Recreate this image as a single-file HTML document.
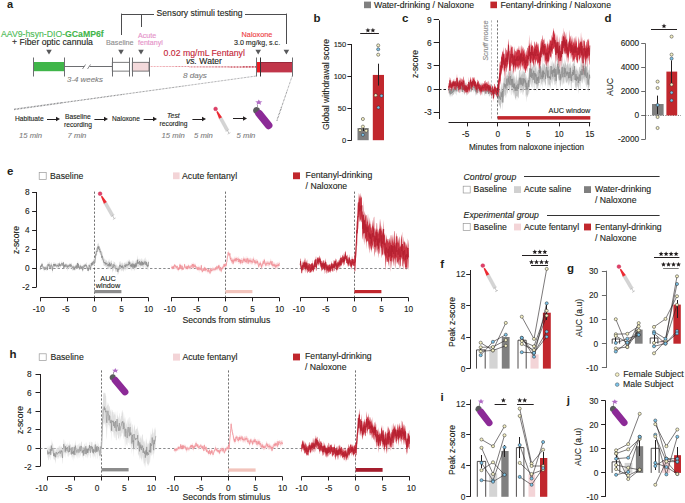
<!DOCTYPE html><html><head><meta charset="utf-8"><style>html,body{margin:0;padding:0;background:#fff;}svg{display:block;}</style></head><body>
<svg width="685" height="503" viewBox="0 0 685 503" font-family='"Liberation Sans", sans-serif'>
<rect width="685" height="503" fill="#fff"/>
<text x="7.00" y="7.90" font-size="11" fill="#231f20" font-weight="bold">a</text>
<text x="1" y="36.6" font-size="8.7" fill="#4cbb55" stroke="#4cbb55" stroke-width="0.12">AAV9-hsyn-DIO-<tspan font-weight="bold" fill="#3fb549">GCaMP6f</tspan></text>
<text x="12.00" y="45.00" font-size="8.7" fill="#231f20" stroke="#231f20" stroke-width="0.12">+ Fiber optic cannula</text>
<text x="106.00" y="45.00" font-size="7.2" fill="#8e8e8e" stroke="#8e8e8e" stroke-width="0.12">Baseline</text>
<text x="138.00" y="37.50" font-size="7.1" fill="#e58fc8" stroke="#e58fc8" stroke-width="0.12">Acute</text>
<text x="138.00" y="45.00" font-size="7.1" fill="#e58fc8" stroke="#e58fc8" stroke-width="0.12">fentanyl</text>
<text x="156.60" y="16.20" font-size="8.6" fill="#231f20" stroke="#231f20" stroke-width="0.12">Sensory stimuli testing</text>
<text x="241.60" y="37.00" font-size="7.3" fill="#ee3a3f" stroke="#ee3a3f" stroke-width="0.12">Naloxone</text>
<text x="234.00" y="45.00" font-size="7.1" fill="#231f20" stroke="#231f20" stroke-width="0.12">3.0 mg/kg, s.c.</text>
<text x="163.60" y="56.40" font-size="8.7" fill="#c42638" stroke="#c42638" stroke-width="0.12">0.02 mg/mL Fentanyl</text>
<text x="186" y="64.3" font-size="8.6" fill="#231f20" stroke="#231f20" stroke-width="0.12"><tspan font-style="italic">vs.</tspan> Water</text>
<text x="67.00" y="82.00" font-size="7.9" fill="#808080" stroke="#808080" stroke-width="0.12" font-style="italic">3-4 weeks</text>
<text x="183.00" y="78.00" font-size="8.1" fill="#808080" stroke="#808080" stroke-width="0.12" font-style="italic">8 days</text>
<line x1="121.00" y1="14.50" x2="154.00" y2="14.50" stroke="#4d4d4f" stroke-width="1.0"/>
<line x1="245.00" y1="14.50" x2="286.40" y2="14.50" stroke="#4d4d4f" stroke-width="1.0"/>
<line x1="121.50" y1="13.60" x2="121.50" y2="35.00" stroke="#4d4d4f" stroke-width="1.0"/>
<line x1="141.50" y1="14.00" x2="141.50" y2="27.00" stroke="#4d4d4f" stroke-width="1.0"/>
<line x1="286.50" y1="13.60" x2="286.50" y2="44.00" stroke="#4d4d4f" stroke-width="1.0"/>
<path d="M46.20,49.80 L51.80,49.80 L49.00,54.40 Z" fill="#58595b"/>
<path d="M118.20,49.80 L123.80,49.80 L121.00,54.40 Z" fill="#58595b"/>
<path d="M138.20,49.80 L143.80,49.80 L141.00,54.40 Z" fill="#58595b"/>
<path d="M255.40,49.80 L261.00,49.80 L258.20,54.40 Z" fill="#58595b"/>
<path d="M283.60,49.80 L289.20,49.80 L286.40,54.40 Z" fill="#58595b"/>
<rect x="33.00" y="62.00" width="31.00" height="9.20" fill="#3fb549"/>
<line x1="64.00" y1="66.50" x2="84.50" y2="66.50" stroke="#6d6e71" stroke-width="1.0"/>
<line x1="89.50" y1="66.50" x2="112.00" y2="66.50" stroke="#6d6e71" stroke-width="1.0"/>
<line x1="82.50" y1="69.00" x2="85.50" y2="64.50" stroke="#6d6e71" stroke-width="0.8"/>
<line x1="87.50" y1="69.00" x2="90.50" y2="64.50" stroke="#6d6e71" stroke-width="0.8"/>
<rect x="112.30" y="62.30" width="17.30" height="8.80" fill="#fff" stroke="#5a5a5c" stroke-width="0.8"/>
<rect x="132.30" y="62.30" width="16.70" height="8.80" fill="#f3d9db" stroke="#5a5a5c" stroke-width="0.8"/>
<defs><linearGradient id="fg" x1="149" x2="256" y1="0" y2="0" gradientUnits="userSpaceOnUse"><stop offset="0" stop-color="#f2a0a8"/><stop offset="1" stop-color="#b8182c"/></linearGradient></defs>
<line x1="149.50" y1="66.50" x2="162.85" y2="66.50" stroke="#ee9fa7" stroke-width="1.0" stroke-dasharray="0.8,0.7"/>
<line x1="162.85" y1="66.50" x2="176.20" y2="66.50" stroke="#e78d97" stroke-width="1.0" stroke-dasharray="0.8,0.7"/>
<line x1="176.20" y1="66.50" x2="189.55" y2="66.50" stroke="#df7b86" stroke-width="1.0" stroke-dasharray="0.8,0.7"/>
<line x1="189.55" y1="66.90" x2="202.90" y2="66.90" stroke="#d86976" stroke-width="1.1375" stroke-dasharray="0.8,0.7"/>
<line x1="202.90" y1="66.90" x2="216.25" y2="66.90" stroke="#d15765" stroke-width="1.2625" stroke-dasharray="0.8,0.7"/>
<line x1="216.25" y1="66.90" x2="229.60" y2="66.90" stroke="#ca4555" stroke-width="1.3875" stroke-dasharray="0.8,0.7"/>
<line x1="229.60" y1="66.90" x2="242.95" y2="66.90" stroke="#c23344" stroke-width="1.5125" stroke-dasharray="0.8,0.7"/>
<line x1="242.95" y1="66.90" x2="256.30" y2="66.90" stroke="#bb2134" stroke-width="1.6375" stroke-dasharray="0.8,0.7"/>
<rect x="256.30" y="62.00" width="4.00" height="10.40" fill="#ec1c24"/>
<rect x="260.30" y="62.00" width="31.70" height="10.40" fill="#c1364a"/>
<line x1="260.30" y1="62.50" x2="292.00" y2="62.50" stroke="#7d2030" stroke-width="0.6"/>
<line x1="33.50" y1="57.50" x2="33.50" y2="76.50" stroke="#6d6e71" stroke-width="1.0"/>
<line x1="64.50" y1="57.50" x2="64.50" y2="76.50" stroke="#6d6e71" stroke-width="1.0"/>
<line x1="112.50" y1="57.50" x2="112.50" y2="76.50" stroke="#6d6e71" stroke-width="1.0"/>
<line x1="129.50" y1="57.50" x2="129.50" y2="76.50" stroke="#6d6e71" stroke-width="1.0"/>
<line x1="132.50" y1="57.50" x2="132.50" y2="76.50" stroke="#6d6e71" stroke-width="1.0"/>
<line x1="149.50" y1="57.50" x2="149.50" y2="76.50" stroke="#6d6e71" stroke-width="1.0"/>
<line x1="256.50" y1="57.50" x2="256.50" y2="76.50" stroke="#6d6e71" stroke-width="1.0"/>
<line x1="260.50" y1="57.50" x2="260.50" y2="76.50" stroke="#333" stroke-width="1.0"/>
<line x1="292.50" y1="57.50" x2="292.50" y2="76.50" stroke="#6d6e71" stroke-width="1.0"/>
<line x1="14.00" y1="109.40" x2="62.46" y2="102.72" stroke="#6d6e71" stroke-width="1.5" stroke-dasharray="0.7,0.75"/>
<line x1="62.46" y1="102.72" x2="123.04" y2="94.37" stroke="#6d6e71" stroke-width="1.15" stroke-dasharray="0.7,0.75"/>
<line x1="123.04" y1="94.37" x2="183.61" y2="86.02" stroke="#6d6e71" stroke-width="0.9" stroke-dasharray="0.7,0.75"/>
<line x1="183.61" y1="86.02" x2="256.30" y2="76.00" stroke="#6d6e71" stroke-width="0.75" stroke-dasharray="0.7,0.75"/>
<line x1="292.00" y1="76.50" x2="286.68" y2="92.08" stroke="#6d6e71" stroke-width="0.75" stroke-dasharray="0.7,0.75"/>
<line x1="286.68" y1="92.08" x2="281.36" y2="107.65" stroke="#6d6e71" stroke-width="0.95" stroke-dasharray="0.7,0.75"/>
<line x1="281.36" y1="107.65" x2="276.80" y2="121.00" stroke="#6d6e71" stroke-width="1.2" stroke-dasharray="0.7,0.75"/>
<text x="15.00" y="120.80" font-size="6.7" fill="#231f20" stroke="#231f20" stroke-width="0.12">Habituate</text>
<line x1="47.00" y1="119.50" x2="57.00" y2="119.50" stroke="#231f20" stroke-width="1.0"/>
<path d="M56.00,116.80 L60.00,119.00 L56.00,121.20 Z" fill="#231f20"/>
<text x="65.00" y="118.80" font-size="6.7" fill="#231f20" stroke="#231f20" stroke-width="0.12">Baseline</text>
<text x="64.00" y="127.40" font-size="6.7" fill="#231f20" stroke="#231f20" stroke-width="0.12">recording</text>
<line x1="94.40" y1="119.50" x2="105.00" y2="119.50" stroke="#231f20" stroke-width="1.0"/>
<path d="M104.00,116.80 L108.00,119.00 L104.00,121.20 Z" fill="#231f20"/>
<text x="112.00" y="121.40" font-size="6.6" fill="#231f20" stroke="#231f20" stroke-width="0.12">Naloxone</text>
<line x1="143.60" y1="119.50" x2="154.00" y2="119.50" stroke="#231f20" stroke-width="1.0"/>
<path d="M153.00,116.80 L157.00,119.00 L153.00,121.20 Z" fill="#231f20"/>
<text x="167.00" y="118.00" font-size="6.9" fill="#231f20" stroke="#231f20" stroke-width="0.12" font-style="italic">Test</text>
<text x="159.60" y="126.00" font-size="6.7" fill="#231f20" stroke="#231f20" stroke-width="0.12">recording</text>
<line x1="192.40" y1="119.50" x2="203.00" y2="119.50" stroke="#231f20" stroke-width="1.0"/>
<path d="M202.00,116.80 L206.00,119.00 L202.00,121.20 Z" fill="#231f20"/>
<line x1="233.00" y1="118.50" x2="244.00" y2="118.50" stroke="#231f20" stroke-width="1.0"/>
<path d="M243.00,116.30 L247.00,118.50 L243.00,120.70 Z" fill="#231f20"/>
<text x="19.00" y="138.40" font-size="7.7" fill="#808080" stroke="#808080" stroke-width="0.12" font-style="italic">15 min</text>
<text x="67.60" y="138.40" font-size="7.7" fill="#808080" stroke="#808080" stroke-width="0.12" font-style="italic">7 min</text>
<text x="161.60" y="138.20" font-size="7.7" fill="#808080" stroke="#808080" stroke-width="0.12" font-style="italic">15 min</text>
<text x="194.00" y="138.20" font-size="7.7" fill="#808080" stroke="#808080" stroke-width="0.12" font-style="italic">5 min</text>
<text x="236.60" y="138.30" font-size="7.7" fill="#808080" stroke="#808080" stroke-width="0.12" font-style="italic">5 min</text>
<polygon points="221.83,116.95 228.53,129.20 225.72,130.74 219.02,118.49" fill="#d4d4d4" stroke="#c0c0c0" stroke-width="0.3"/>
<polygon points="217.55,111.01 222.05,117.15 219.07,118.78 216.33,111.69" fill="#ec2a32"/>
<line x1="227.12" y1="129.97" x2="229.00" y2="133.40" stroke="#b4b4b4" stroke-width="0.8"/>
<line x1="229.06" y1="129.55" x2="225.73" y2="131.37" stroke="#b4b4b4" stroke-width="0.7"/>
<line x1="230.40" y1="132.63" x2="227.60" y2="134.17" stroke="#b4b4b4" stroke-width="0.7"/>
<circle cx="215.60" cy="108.90" r="1.9" fill="#e0406a" stroke="#c82848" stroke-width="0.4"/>
<g transform="translate(256.56,110.48) rotate(50.99)"><rect x="0" y="-3.80" width="22.94" height="7.60" rx="3.80" fill="#8c2a97"/><path d="M3.21,-3.39 A3.57,3.57 0 1 0 3.21,3.39 Z" transform="translate(-1.96,0)" fill="#5a5b5d"/></g>
<line x1="257.50" y1="107.21" x2="257.50" y2="104.61" stroke="#7a7a7a" stroke-width="0.7"/>
<polygon points="258.80,99.44 259.81,101.32 262.41,101.48 260.43,102.81 261.03,104.80 258.80,103.73 256.57,104.80 257.17,102.81 255.19,101.48 257.79,101.32" fill="#b06bc4"/>
<rect x="364.00" y="1.60" width="7.00" height="6.60" fill="#808080"/>
<text x="374.00" y="7.60" font-size="8.7" fill="#231f20" stroke="#231f20" stroke-width="0.12">Water-drinking / Naloxone</text>
<rect x="490.40" y="1.60" width="6.60" height="6.60" fill="#c1272d"/>
<text x="500.40" y="7.60" font-size="8.7" fill="#231f20" stroke="#231f20" stroke-width="0.12">Fentanyl-drinking / Naloxone</text>
<text x="313.60" y="22.30" font-size="11.5" fill="#231f20" font-weight="bold">b</text>
<line x1="351.50" y1="44.00" x2="351.50" y2="140.60" stroke="#231f20" stroke-width="1.0"/>
<line x1="347.40" y1="140.50" x2="351.60" y2="140.50" stroke="#231f20" stroke-width="1.0"/>
<text x="346.20" y="142.90" font-size="7.5" fill="#231f20" stroke="#231f20" stroke-width="0.12" text-anchor="end">0</text>
<line x1="347.40" y1="108.50" x2="351.60" y2="108.50" stroke="#231f20" stroke-width="1.0"/>
<text x="346.20" y="110.90" font-size="7.5" fill="#231f20" stroke="#231f20" stroke-width="0.12" text-anchor="end">50</text>
<line x1="347.40" y1="76.50" x2="351.60" y2="76.50" stroke="#231f20" stroke-width="1.0"/>
<text x="346.20" y="78.90" font-size="7.5" fill="#231f20" stroke="#231f20" stroke-width="0.12" text-anchor="end">100</text>
<line x1="347.40" y1="44.50" x2="351.60" y2="44.50" stroke="#231f20" stroke-width="1.0"/>
<text x="346.20" y="46.90" font-size="7.5" fill="#231f20" stroke="#231f20" stroke-width="0.12" text-anchor="end">150</text>
<text transform="translate(325.80,84.50) rotate(-90)" x="0" y="3.01" font-size="8.6" fill="#231f20" stroke="#231f20" stroke-width="0.12" text-anchor="middle">Global withdrawal score</text>
<rect x="357.50" y="128.04" width="11.20" height="12.16" fill="#7f7f7f"/>
<rect x="372.80" y="74.92" width="11.20" height="65.28" fill="#c1272d"/>
<line x1="363.50" y1="126.60" x2="363.50" y2="131.00" stroke="#231f20" stroke-width="1.0"/>
<line x1="378.50" y1="63.70" x2="378.50" y2="85.60" stroke="#231f20" stroke-width="1.0"/>
<circle cx="362.90" cy="119.00" r="1.55" fill="#f6f1c4" stroke="#2a2a2a" stroke-width="0.5"/>
<circle cx="362.90" cy="126.60" r="1.55" fill="#f6f1c4" stroke="#2a2a2a" stroke-width="0.5"/>
<circle cx="360.00" cy="130.20" r="1.55" fill="#f6f1c4" stroke="#2a2a2a" stroke-width="0.5"/>
<circle cx="366.20" cy="130.70" r="1.55" fill="#f6f1c4" stroke="#2a2a2a" stroke-width="0.5"/>
<circle cx="362.90" cy="134.80" r="1.55" fill="#7cc4ea" stroke="#2a2a2a" stroke-width="0.5"/>
<circle cx="378.20" cy="45.40" r="1.55" fill="#f6f1c4" stroke="#2a2a2a" stroke-width="0.5"/>
<circle cx="378.20" cy="49.30" r="1.55" fill="#7cc4ea" stroke="#2a2a2a" stroke-width="0.5"/>
<circle cx="378.20" cy="54.70" r="1.55" fill="#f6f1c4" stroke="#2a2a2a" stroke-width="0.5"/>
<circle cx="375.70" cy="95.20" r="1.55" fill="#f6f1c4" stroke="#2a2a2a" stroke-width="0.5"/>
<circle cx="381.50" cy="95.80" r="1.55" fill="#7cc4ea" stroke="#2a2a2a" stroke-width="0.5"/>
<circle cx="378.40" cy="107.50" r="1.55" fill="#7cc4ea" stroke="#2a2a2a" stroke-width="0.5"/>
<line x1="360.20" y1="33.50" x2="378.90" y2="33.50" stroke="#231f20" stroke-width="1.0"/>
<polygon points="367.90,27.80 368.59,29.45 370.37,29.60 369.01,30.76 369.43,32.50 367.90,31.57 366.37,32.50 366.79,30.76 365.43,29.60 367.21,29.45" fill="#231f20"/>
<polygon points="372.90,27.80 373.59,29.45 375.37,29.60 374.01,30.76 374.43,32.50 372.90,31.57 371.37,32.50 371.79,30.76 370.43,29.60 372.21,29.45" fill="#231f20"/>
<text x="402.00" y="22.30" font-size="11.5" fill="#231f20" font-weight="bold">c</text>
<line x1="439.50" y1="20.30" x2="439.50" y2="119.00" stroke="#231f20" stroke-width="1.0"/>
<line x1="433.70" y1="112.50" x2="439.00" y2="112.50" stroke="#231f20" stroke-width="1.0"/>
<text x="431.60" y="115.00" font-size="8.4" fill="#231f20" stroke="#231f20" stroke-width="0.12" text-anchor="end">-3</text>
<line x1="433.70" y1="89.50" x2="439.00" y2="89.50" stroke="#231f20" stroke-width="1.0"/>
<text x="431.60" y="92.00" font-size="8.4" fill="#231f20" stroke="#231f20" stroke-width="0.12" text-anchor="end">0</text>
<line x1="433.70" y1="65.50" x2="439.00" y2="65.50" stroke="#231f20" stroke-width="1.0"/>
<text x="431.60" y="69.00" font-size="8.4" fill="#231f20" stroke="#231f20" stroke-width="0.12" text-anchor="end">3</text>
<line x1="433.70" y1="42.50" x2="439.00" y2="42.50" stroke="#231f20" stroke-width="1.0"/>
<text x="431.60" y="46.00" font-size="8.4" fill="#231f20" stroke="#231f20" stroke-width="0.12" text-anchor="end">6</text>
<line x1="433.70" y1="19.50" x2="439.00" y2="19.50" stroke="#231f20" stroke-width="1.0"/>
<text x="431.60" y="23.00" font-size="8.4" fill="#231f20" stroke="#231f20" stroke-width="0.12" text-anchor="end">9</text>
<text transform="translate(415.20,64.00) rotate(-90)" x="0" y="3.01" font-size="8.6" fill="#231f20" stroke="#231f20" stroke-width="0.12" text-anchor="middle">z-score</text>
<line x1="448.50" y1="122.50" x2="590.30" y2="122.50" stroke="#231f20" stroke-width="1.0"/>
<line x1="467.50" y1="122.40" x2="467.50" y2="126.40" stroke="#231f20" stroke-width="1.0"/>
<text x="469.31" y="136.80" font-size="8.3" fill="#231f20" stroke="#231f20" stroke-width="0.12" text-anchor="end">-5</text>
<line x1="497.50" y1="122.40" x2="497.50" y2="126.40" stroke="#231f20" stroke-width="1.0"/>
<text x="497.70" y="136.80" font-size="8.3" fill="#231f20" stroke="#231f20" stroke-width="0.12" text-anchor="middle">0</text>
<line x1="528.50" y1="122.40" x2="528.50" y2="126.40" stroke="#231f20" stroke-width="1.0"/>
<text x="528.40" y="136.80" font-size="8.3" fill="#231f20" stroke="#231f20" stroke-width="0.12" text-anchor="middle">5</text>
<line x1="559.50" y1="122.40" x2="559.50" y2="126.40" stroke="#231f20" stroke-width="1.0"/>
<text x="559.10" y="136.80" font-size="8.3" fill="#231f20" stroke="#231f20" stroke-width="0.12" text-anchor="middle">10</text>
<line x1="589.50" y1="122.40" x2="589.50" y2="126.40" stroke="#231f20" stroke-width="1.0"/>
<text x="589.80" y="136.80" font-size="8.3" fill="#231f20" stroke="#231f20" stroke-width="0.12" text-anchor="middle">15</text>
<text x="469.00" y="149.60" font-size="8.2" fill="#231f20" stroke="#231f20" stroke-width="0.12">Minutes from naloxone injection</text>
<line x1="439.00" y1="89.50" x2="590.30" y2="89.50" stroke="#231f20" stroke-width="1.0" stroke-dasharray="2.5,2"/>
<polygon points="448.6,86.8 448.9,87.5 449.3,86.1 449.6,88.0 449.9,87.3 450.3,91.5 450.6,86.2 450.9,89.0 451.3,90.6 451.6,87.1 452.0,84.7 452.3,90.2 452.6,89.3 453.0,87.4 453.3,89.3 453.6,85.0 454.0,87.0 454.3,87.3 454.6,83.9 455.0,85.8 455.3,84.2 455.7,85.8 456.0,86.1 456.3,85.9 456.7,78.9 457.0,85.4 457.3,83.6 457.7,84.7 458.0,84.2 458.4,82.5 458.7,78.8 459.0,84.8 459.4,86.9 459.7,84.1 460.0,86.2 460.4,81.4 460.7,81.7 461.1,84.6 461.4,86.3 461.7,83.7 462.1,80.2 462.4,86.8 462.7,81.8 463.1,85.6 463.4,82.3 463.7,86.9 464.1,84.4 464.4,87.6 464.8,86.4 465.1,82.3 465.4,82.4 465.8,84.6 466.1,85.9 466.4,88.5 466.8,85.0 467.1,84.0 467.5,85.3 467.8,83.7 468.1,86.5 468.5,83.4 468.8,82.8 469.1,80.9 469.5,79.8 469.8,83.6 470.2,85.1 470.5,84.3 470.8,85.9 471.2,85.7 471.5,84.3 471.8,86.7 472.2,83.3 472.5,83.8 472.8,82.9 473.2,82.7 473.5,84.7 473.9,84.3 474.2,82.7 474.5,84.4 474.9,81.5 475.2,84.3 475.5,87.6 475.9,85.7 476.2,86.9 476.6,85.7 476.9,84.6 477.2,88.9 477.6,84.5 477.9,83.8 478.2,84.0 478.6,85.0 478.9,84.3 479.3,85.2 479.6,84.7 479.9,84.3 480.3,81.8 480.6,86.5 480.9,83.4 481.3,83.9 481.6,85.4 481.9,85.3 482.3,84.0 482.6,87.9 483.0,83.8 483.3,83.8 483.6,85.9 484.0,85.6 484.3,87.4 484.6,88.1 485.0,85.5 485.3,87.2 485.7,87.5 486.0,90.2 486.3,85.3 486.7,84.5 487.0,84.5 487.3,85.9 487.7,89.3 488.0,83.3 488.4,85.3 488.7,90.9 489.0,85.2 489.4,88.8 489.7,89.3 490.0,88.4 490.4,85.0 490.7,86.8 491.0,87.6 491.4,83.1 491.7,84.3 492.1,88.0 492.4,88.5 492.7,90.5 493.1,89.8 493.4,87.7 493.7,87.7 494.1,86.8 494.4,87.2 494.8,88.9 495.1,89.7 495.4,88.1 495.8,88.3 496.1,87.9 496.4,88.9 496.8,89.0 497.1,87.8 497.5,90.8 497.8,87.8 498.1,85.7 498.5,86.6 498.8,86.8 499.1,90.6 499.5,87.8 499.8,89.3 500.1,89.8 500.5,92.4 500.8,88.8 501.2,81.4 501.5,86.1 501.8,89.3 502.2,84.8 502.5,82.2 502.8,94.7 503.2,83.3 503.5,81.8 503.9,76.9 504.2,72.0 504.5,76.9 504.9,78.0 505.2,78.6 505.5,75.4 505.9,80.8 506.2,76.3 506.6,75.2 506.9,66.2 507.2,76.0 507.6,75.1 507.9,74.0 508.2,70.1 508.6,73.0 508.9,67.4 509.2,75.9 509.6,72.4 509.9,72.1 510.3,69.3 510.6,66.5 510.9,74.6 511.3,74.4 511.6,67.0 511.9,74.3 512.3,78.4 512.6,70.6 513.0,70.9 513.3,73.7 513.6,78.4 514.0,74.4 514.3,78.8 514.6,74.9 515.0,81.6 515.3,83.1 515.7,76.2 516.0,79.9 516.3,73.1 516.7,77.3 517.0,83.1 517.3,79.5 517.7,80.9 518.0,76.0 518.3,81.3 518.7,78.3 519.0,70.0 519.4,70.5 519.7,69.5 520.0,77.1 520.4,75.6 520.7,68.5 521.0,74.0 521.4,75.6 521.7,71.9 522.1,69.5 522.4,71.2 522.7,73.7 523.1,75.1 523.4,70.4 523.7,70.9 524.1,72.4 524.4,72.2 524.8,70.8 525.1,74.0 525.4,72.6 525.8,78.1 526.1,77.1 526.4,81.4 526.8,74.6 527.1,77.5 527.4,82.2 527.8,78.1 528.1,77.8 528.5,70.9 528.8,78.9 529.1,75.0 529.5,71.6 529.8,60.9 530.1,65.8 530.5,68.9 530.8,64.8 531.2,59.2 531.5,67.0 531.8,70.6 532.2,63.9 532.5,67.5 532.8,66.8 533.2,72.1 533.5,62.0 533.9,61.3 534.2,65.4 534.5,61.3 534.9,74.0 535.2,61.7 535.5,69.1 535.9,65.1 536.2,65.8 536.5,68.8 536.9,75.3 537.2,66.0 537.6,72.8 537.9,71.2 538.2,69.0 538.6,64.2 538.9,73.0 539.2,62.4 539.6,65.1 539.9,61.1 540.3,57.7 540.6,63.5 540.9,71.8 541.3,66.4 541.6,69.2 541.9,66.3 542.3,59.3 542.6,69.8 543.0,62.9 543.3,69.7 543.6,63.0 544.0,63.4 544.3,65.4 544.6,63.7 545.0,63.6 545.3,65.6 545.6,70.5 546.0,66.0 546.3,57.7 546.7,59.0 547.0,62.4 547.3,63.9 547.7,69.1 548.0,62.7 548.3,65.3 548.7,67.1 549.0,67.2 549.4,64.6 549.7,70.2 550.0,68.8 550.4,71.5 550.7,67.3 551.0,58.6 551.4,66.6 551.7,66.7 552.1,59.8 552.4,62.6 552.7,67.6 553.1,65.0 553.4,61.7 553.7,63.5 554.1,63.9 554.4,60.0 554.7,67.5 555.1,64.6 555.4,66.9 555.8,58.9 556.1,73.2 556.4,67.4 556.8,64.1 557.1,57.4 557.4,59.2 557.8,55.4 558.1,66.5 558.5,55.6 558.8,61.8 559.1,65.8 559.5,60.5 559.8,66.2 560.1,72.8 560.5,66.7 560.8,69.5 561.2,67.3 561.5,63.9 561.8,63.3 562.2,56.2 562.5,65.9 562.8,66.8 563.2,64.5 563.5,62.9 563.8,64.0 564.2,57.6 564.5,63.9 564.9,66.6 565.2,59.7 565.5,62.4 565.9,63.7 566.2,65.0 566.5,64.8 566.9,67.7 567.2,62.8 567.6,64.2 567.9,63.4 568.2,62.6 568.6,68.2 568.9,64.6 569.2,63.0 569.6,64.4 569.9,70.0 570.3,59.7 570.6,64.6 570.9,71.0 571.3,71.7 571.6,65.3 571.9,65.7 572.3,68.0 572.6,62.7 572.9,64.6 573.3,61.9 573.6,62.5 574.0,64.7 574.3,62.6 574.6,56.8 575.0,72.1 575.3,68.6 575.6,71.7 576.0,64.5 576.3,69.4 576.7,70.1 577.0,66.4 577.3,71.5 577.7,70.8 578.0,68.3 578.3,73.9 578.7,72.1 579.0,67.4 579.4,66.9 579.7,66.6 580.0,72.3 580.4,67.9 580.7,63.5 581.0,58.1 581.4,64.2 581.7,65.0 582.0,61.7 582.4,65.4 582.7,66.1 583.1,64.5 583.4,55.9 583.7,62.9 584.1,59.7 584.4,66.4 584.7,62.0 585.1,67.9 585.4,65.2 585.8,58.4 586.1,63.5 586.4,67.3 586.8,68.9 587.1,64.9 587.4,63.0 587.8,69.2 588.1,74.1 588.5,70.9 588.8,69.4 589.1,70.5 589.5,63.8 589.8,68.8 589.8,86.8 589.5,84.6 589.1,87.9 588.8,87.1 588.5,89.1 588.1,92.2 587.8,87.2 587.4,82.8 587.1,82.8 586.8,86.2 586.4,87.4 586.1,80.6 585.8,75.9 585.4,83.4 585.1,85.7 584.7,78.3 584.4,83.6 584.1,76.5 583.7,80.6 583.4,77.2 583.1,81.8 582.7,84.0 582.4,81.8 582.0,78.4 581.7,83.6 581.4,81.4 581.0,78.6 580.7,80.2 580.4,85.8 580.0,90.5 579.7,83.6 579.4,83.1 579.0,86.7 578.7,88.7 578.3,94.3 578.0,84.6 577.7,87.3 577.3,87.2 577.0,84.4 576.7,88.1 576.3,91.6 576.0,84.3 575.6,88.8 575.3,86.6 575.0,88.8 574.6,76.5 574.3,80.2 574.0,83.0 573.6,82.4 573.3,78.8 572.9,82.5 572.6,80.0 572.3,83.3 571.9,82.2 571.6,84.8 571.3,90.7 570.9,87.1 570.6,81.6 570.3,75.6 569.9,86.1 569.6,80.0 569.2,82.5 568.9,84.8 568.6,86.1 568.2,79.8 567.9,80.8 567.6,84.1 567.2,79.9 566.9,83.4 566.5,82.9 566.2,81.5 565.9,83.1 565.5,80.0 565.2,76.9 564.9,84.7 564.5,80.1 564.2,76.0 563.8,81.9 563.5,84.9 563.2,81.9 562.8,86.2 562.5,82.5 562.2,74.8 561.8,80.1 561.5,81.2 561.2,83.2 560.8,87.5 560.5,83.4 560.1,88.0 559.8,84.7 559.5,77.0 559.1,81.7 558.8,78.9 558.5,77.2 558.1,82.1 557.8,72.6 557.4,75.1 557.1,75.1 556.8,82.2 556.4,82.9 556.1,89.7 555.8,78.1 555.4,86.1 555.1,83.7 554.7,85.7 554.4,80.0 554.1,82.4 553.7,79.8 553.4,77.4 553.1,81.5 552.7,86.1 552.4,78.5 552.1,79.7 551.7,84.0 551.4,81.7 551.0,75.8 550.7,84.8 550.4,89.1 550.0,84.0 549.7,85.6 549.4,84.5 549.0,88.5 548.7,85.0 548.3,84.3 548.0,78.2 547.7,88.8 547.3,79.9 547.0,77.2 546.7,76.1 546.3,75.2 546.0,82.2 545.6,86.9 545.3,83.4 545.0,86.0 544.6,80.1 544.3,82.3 544.0,82.7 543.6,79.3 543.3,85.6 543.0,79.3 542.6,88.7 542.3,82.2 541.9,81.1 541.6,85.2 541.3,83.3 540.9,87.8 540.6,81.7 540.3,74.5 539.9,79.3 539.6,80.4 539.2,81.1 538.9,91.4 538.6,84.1 538.2,85.9 537.9,85.8 537.6,89.9 537.2,86.8 536.9,91.7 536.5,87.9 536.2,82.4 535.9,85.0 535.5,83.9 535.2,83.4 534.9,92.2 534.5,82.9 534.2,84.7 533.9,79.1 533.5,80.2 533.2,87.1 532.8,88.0 532.5,83.3 532.2,81.4 531.8,87.8 531.5,86.2 531.2,77.9 530.8,84.1 530.5,85.0 530.1,80.9 529.8,76.4 529.5,87.4 529.1,93.6 528.8,94.5 528.5,90.1 528.1,95.5 527.8,94.8 527.4,97.6 527.1,96.6 526.8,93.8 526.4,102.7 526.1,94.8 525.8,97.2 525.4,88.5 525.1,90.8 524.8,86.0 524.4,88.0 524.1,90.1 523.7,93.1 523.4,89.5 523.1,95.6 522.7,94.1 522.4,90.4 522.1,85.8 521.7,88.4 521.4,93.2 521.0,91.6 520.7,85.8 520.4,91.9 520.0,94.4 519.7,87.1 519.4,85.9 519.0,92.4 518.7,97.6 518.3,98.7 518.0,96.4 517.7,97.3 517.3,95.0 517.0,101.2 516.7,95.8 516.3,96.2 516.0,98.5 515.7,97.4 515.3,100.3 515.0,98.5 514.6,91.8 514.3,97.2 514.0,91.7 513.6,96.2 513.3,92.7 513.0,91.2 512.6,87.8 512.3,94.6 511.9,90.5 511.6,88.0 511.3,95.6 510.9,94.5 510.6,83.6 510.3,85.2 509.9,90.3 509.6,90.0 509.2,93.2 508.9,85.2 508.6,90.7 508.2,86.5 507.9,91.1 507.6,94.0 507.2,93.1 506.9,87.0 506.6,91.9 506.2,96.4 505.9,98.4 505.5,95.4 505.2,94.4 504.9,95.8 504.5,96.7 504.2,91.0 503.9,97.5 503.5,96.9 503.2,100.6 502.8,111.2 502.5,100.9 502.2,101.7 501.8,104.6 501.5,101.4 501.2,101.7 500.8,107.7 500.5,109.3 500.1,107.1 499.8,104.7 499.5,105.0 499.1,107.1 498.8,103.7 498.5,102.9 498.1,101.9 497.8,105.8 497.5,97.8 497.1,95.6 496.8,96.4 496.4,95.8 496.1,93.9 495.8,94.4 495.4,95.0 495.1,95.5 494.8,97.6 494.4,93.3 494.1,96.1 493.7,93.8 493.4,93.7 493.1,95.9 492.7,96.6 492.4,94.7 492.1,95.0 491.7,91.2 491.4,91.3 491.0,94.2 490.7,95.0 490.4,93.5 490.0,95.8 489.7,96.5 489.4,96.4 489.0,92.1 488.7,96.9 488.4,92.7 488.0,91.5 487.7,94.9 487.3,92.9 487.0,90.5 486.7,91.6 486.3,92.9 486.0,96.6 485.7,93.8 485.3,93.9 485.0,92.1 484.6,95.0 484.3,96.1 484.0,91.6 483.6,91.5 483.3,92.1 483.0,90.4 482.6,96.2 482.3,92.2 481.9,91.9 481.6,92.4 481.3,90.4 480.9,91.7 480.6,94.4 480.3,91.4 479.9,91.9 479.6,92.1 479.3,92.1 478.9,93.2 478.6,93.2 478.2,91.0 477.9,90.7 477.6,91.9 477.2,95.6 476.9,93.3 476.6,94.4 476.2,95.5 475.9,92.7 475.5,96.8 475.2,93.0 474.9,91.2 474.5,91.3 474.2,89.8 473.9,93.0 473.5,90.9 473.2,89.8 472.8,89.1 472.5,91.7 472.2,89.3 471.8,92.8 471.5,91.0 471.2,92.3 470.8,91.9 470.5,91.2 470.2,92.8 469.8,90.1 469.5,86.0 469.1,88.2 468.8,90.8 468.5,90.2 468.1,94.1 467.8,90.9 467.5,91.0 467.1,91.8 466.8,92.4 466.4,96.3 466.1,94.8 465.8,92.1 465.4,89.3 465.1,89.7 464.8,94.0 464.4,95.5 464.1,91.5 463.7,93.7 463.4,89.3 463.1,92.5 462.7,88.3 462.4,96.1 462.1,87.0 461.7,90.0 461.4,92.1 461.1,91.8 460.7,87.7 460.4,87.8 460.0,93.1 459.7,92.6 459.4,93.4 459.0,92.0 458.7,87.1 458.4,90.4 458.0,92.6 457.7,91.2 457.3,91.6 457.0,91.3 456.7,86.7 456.3,96.0 456.0,94.3 455.7,93.9 455.3,90.1 455.0,92.7 454.6,91.7 454.3,93.2 454.0,94.3 453.6,94.3 453.3,94.9 453.0,94.8 452.6,95.5 452.3,96.9 452.0,92.2 451.6,93.6 451.3,96.5 450.9,96.2 450.6,92.3 450.3,98.0 449.9,94.1 449.6,97.4 449.3,93.4 448.9,93.2 448.6,93.6" fill="#c4c4c4"/>
<polyline points="448.6,90.3 448.9,90.5 449.3,89.0 449.6,92.8 449.9,91.1 450.3,94.3 450.6,89.4 450.9,92.6 451.3,93.8 451.6,90.1 452.0,87.8 452.3,93.0 452.6,92.1 453.0,91.4 453.3,92.0 453.6,88.8 454.0,90.8 454.3,90.3 454.6,87.3 455.0,89.7 455.3,87.1 455.7,89.7 456.0,90.1 456.3,91.3 456.7,84.0 457.0,88.3 457.3,87.2 457.7,87.6 458.0,87.0 458.4,87.0 458.7,83.0 459.0,88.7 459.4,89.6 459.7,88.4 460.0,89.1 460.4,84.9 460.7,84.7 461.1,88.2 461.4,89.0 461.7,86.9 462.1,83.5 462.4,92.0 462.7,85.6 463.1,89.1 463.4,85.2 463.7,89.6 464.1,88.3 464.4,90.9 464.8,89.9 465.1,85.3 465.4,86.4 465.8,89.0 466.1,89.9 466.4,92.0 466.8,88.9 467.1,88.1 467.5,88.1 467.8,87.9 468.1,89.6 468.5,87.2 468.8,86.9 469.1,84.1 469.5,83.0 469.8,87.1 470.2,88.6 470.5,87.4 470.8,88.7 471.2,89.0 471.5,87.6 471.8,89.5 472.2,86.0 472.5,87.1 472.8,86.1 473.2,86.7 473.5,87.6 473.9,88.0 474.2,86.8 474.5,87.8 474.9,86.8 475.2,88.0 475.5,91.3 475.9,88.8 476.2,91.8 476.6,90.4 476.9,89.5 477.2,92.7 477.6,88.0 477.9,87.4 478.2,87.6 478.6,87.8 478.9,87.5 479.3,88.7 479.6,87.4 479.9,88.2 480.3,87.2 480.6,90.0 480.9,87.3 481.3,87.7 481.6,88.4 481.9,89.0 482.3,87.1 482.6,91.7 483.0,87.6 483.3,88.3 483.6,88.6 484.0,88.8 484.3,91.3 484.6,90.9 485.0,89.4 485.3,89.9 485.7,90.3 486.0,93.6 486.3,89.2 486.7,87.6 487.0,87.5 487.3,88.7 487.7,92.1 488.0,87.0 488.4,89.2 488.7,94.0 489.0,88.4 489.4,92.4 489.7,92.5 490.0,91.6 490.4,88.2 490.7,91.8 491.0,90.8 491.4,87.9 491.7,88.1 492.1,91.4 492.4,91.7 492.7,93.7 493.1,92.6 493.4,90.4 493.7,90.7 494.1,91.6 494.4,90.1 494.8,93.6 495.1,92.7 495.4,91.5 495.8,91.7 496.1,90.8 496.4,91.9 496.8,93.0 497.1,92.1 497.5,94.5 497.8,97.0 498.1,93.9 498.5,95.4 498.8,95.1 499.1,98.5 499.5,96.4 499.8,96.9 500.1,97.4 500.5,99.7 500.8,97.3 501.2,92.4 501.5,93.8 501.8,96.9 502.2,94.2 502.5,90.7 502.8,102.5 503.2,92.4 503.5,89.2 503.9,87.9 504.2,83.5 504.5,84.8 504.9,87.1 505.2,86.6 505.5,84.4 505.9,88.6 506.2,86.5 506.6,82.8 506.9,78.7 507.2,85.7 507.6,84.7 507.9,83.1 508.2,78.2 508.6,82.4 508.9,76.4 509.2,84.7 509.6,81.6 509.9,81.3 510.3,77.4 510.6,76.2 510.9,85.2 511.3,83.2 511.6,79.0 511.9,83.2 512.3,87.0 512.6,78.9 513.0,82.1 513.3,83.5 513.6,88.1 514.0,83.6 514.3,88.5 514.6,83.8 515.0,90.9 515.3,90.6 515.7,86.9 516.0,90.3 516.3,85.4 516.7,86.9 517.0,91.0 517.3,87.2 517.7,88.6 518.0,83.8 518.3,89.0 518.7,88.0 519.0,81.8 519.4,77.8 519.7,78.3 520.0,84.7 520.4,83.3 520.7,77.7 521.0,82.6 521.4,84.6 521.7,79.9 522.1,78.3 522.4,82.8 522.7,85.9 523.1,85.5 523.4,78.3 523.7,83.5 524.1,81.3 524.4,80.0 524.8,78.6 525.1,82.4 525.4,80.4 525.8,86.6 526.1,86.0 526.4,89.6 526.8,82.8 527.1,87.3 527.4,89.6 527.8,87.3 528.1,85.4 528.5,80.4 528.8,86.9 529.1,83.4 529.5,79.7 529.8,68.3 530.1,73.4 530.5,76.9 530.8,73.7 531.2,68.8 531.5,77.1 531.8,78.0 532.2,72.8 532.5,75.9 532.8,75.5 533.2,79.8 533.5,70.8 533.9,71.0 534.2,74.4 534.5,73.4 534.9,82.8 535.2,73.2 535.5,76.4 535.9,74.7 536.2,74.5 536.5,78.9 536.9,84.2 537.2,77.1 537.6,80.8 537.9,78.5 538.2,78.5 538.6,76.6 538.9,83.0 539.2,69.9 539.6,73.1 539.9,69.7 540.3,66.3 540.6,73.0 540.9,79.2 541.3,75.7 541.6,76.6 541.9,73.8 542.3,71.5 542.6,78.8 543.0,70.4 543.3,77.3 543.6,71.3 544.0,72.9 544.3,73.7 544.6,72.8 545.0,74.4 545.3,74.8 545.6,78.9 546.0,73.4 546.3,67.1 546.7,67.0 547.0,69.7 547.3,72.2 547.7,77.6 548.0,70.5 548.3,76.4 548.7,76.9 549.0,77.9 549.4,76.5 549.7,78.2 550.0,76.5 550.4,79.5 550.7,76.2 551.0,66.0 551.4,73.9 551.7,74.1 552.1,71.0 552.4,70.2 552.7,76.6 553.1,73.4 553.4,69.5 553.7,72.1 554.1,73.0 554.4,68.3 554.7,76.8 555.1,74.4 555.4,76.6 555.8,69.1 556.1,80.8 556.4,75.0 556.8,73.1 557.1,67.6 557.4,67.0 557.8,63.8 558.1,74.5 558.5,66.6 558.8,71.0 559.1,73.1 559.5,69.6 559.8,75.6 560.1,80.2 560.5,74.4 560.8,78.5 561.2,75.5 561.5,71.7 561.8,71.8 562.2,67.2 562.5,73.2 562.8,77.3 563.2,73.6 563.5,73.3 563.8,73.8 564.2,67.6 564.5,71.7 564.9,77.1 565.2,68.3 565.5,72.3 565.9,71.8 566.2,73.8 566.5,72.8 566.9,75.6 567.2,71.5 567.6,74.0 567.9,73.3 568.2,72.3 568.6,78.3 568.9,73.3 569.2,73.5 569.6,72.0 569.9,78.0 570.3,67.8 570.6,73.8 570.9,79.0 571.3,81.0 571.6,75.7 571.9,74.4 572.3,75.7 572.6,72.0 572.9,74.1 573.3,69.9 573.6,75.0 574.0,73.4 574.3,70.9 574.6,66.2 575.0,79.8 575.3,78.5 575.6,80.0 576.0,74.2 576.3,80.9 576.7,78.3 577.0,76.3 577.3,79.3 577.7,79.0 578.0,77.1 578.3,82.8 578.7,80.4 579.0,76.7 579.4,74.6 579.7,75.5 580.0,80.9 580.4,75.9 580.7,70.9 581.0,71.3 581.4,73.0 581.7,75.2 582.0,69.1 582.4,73.0 582.7,74.9 583.1,73.6 583.4,65.9 583.7,70.9 584.1,68.3 584.4,74.8 584.7,70.3 585.1,76.4 585.4,75.5 585.8,66.5 586.1,73.0 586.4,77.8 586.8,76.5 587.1,75.4 587.4,72.7 587.8,79.6 588.1,84.7 588.5,80.0 588.8,79.3 589.1,79.1 589.5,74.7 589.8,78.2" fill="none" stroke="#8d8d8d" stroke-width="0.8" stroke-linejoin="round"/>
<polygon points="448.6,84.1 448.9,82.7 449.3,84.3 449.6,80.8 449.9,76.9 450.3,78.7 450.6,80.8 450.9,83.5 451.3,83.9 451.6,84.3 452.0,79.3 452.3,83.4 452.6,80.7 453.0,81.8 453.3,81.8 453.6,78.6 454.0,81.9 454.3,81.9 454.6,82.8 455.0,78.0 455.3,82.1 455.7,80.9 456.0,83.4 456.3,83.1 456.7,79.2 457.0,73.6 457.3,81.9 457.7,77.3 458.0,81.0 458.4,84.1 458.7,80.0 459.0,82.0 459.4,82.7 459.7,76.8 460.0,85.3 460.4,79.0 460.7,77.3 461.1,82.4 461.4,80.0 461.7,78.5 462.1,78.6 462.4,80.4 462.7,78.8 463.1,85.7 463.4,77.5 463.7,76.1 464.1,79.5 464.4,81.2 464.8,87.5 465.1,84.9 465.4,85.9 465.8,84.4 466.1,82.1 466.4,86.4 466.8,84.9 467.1,88.0 467.5,84.5 467.8,83.4 468.1,84.3 468.5,84.9 468.8,76.4 469.1,85.4 469.5,85.2 469.8,83.2 470.2,78.2 470.5,76.4 470.8,78.9 471.2,82.8 471.5,81.2 471.8,78.2 472.2,83.1 472.5,77.9 472.8,77.2 473.2,76.9 473.5,78.7 473.9,78.5 474.2,76.4 474.5,82.8 474.9,77.2 475.2,81.7 475.5,82.2 475.9,81.1 476.2,82.7 476.6,83.7 476.9,84.9 477.2,83.8 477.6,79.9 477.9,79.6 478.2,81.6 478.6,80.6 478.9,85.6 479.3,84.1 479.6,82.3 479.9,84.4 480.3,85.8 480.6,84.8 480.9,84.6 481.3,87.5 481.6,82.3 481.9,85.3 482.3,82.2 482.6,85.2 483.0,84.9 483.3,83.0 483.6,83.2 484.0,85.1 484.3,84.0 484.6,80.8 485.0,81.6 485.3,79.4 485.7,85.1 486.0,84.0 486.3,82.1 486.7,82.1 487.0,84.3 487.3,83.9 487.7,81.0 488.0,84.2 488.4,86.9 488.7,80.6 489.0,81.7 489.4,86.0 489.7,83.9 490.0,87.4 490.4,83.2 490.7,85.1 491.0,87.1 491.4,87.9 491.7,89.2 492.1,86.2 492.4,85.2 492.7,85.8 493.1,88.1 493.4,95.2 493.7,85.2 494.1,90.4 494.4,84.0 494.8,83.7 495.1,85.5 495.4,86.3 495.8,87.4 496.1,88.0 496.4,88.4 496.8,87.3 497.1,88.7 497.5,84.6 497.8,84.1 498.1,79.1 498.5,81.1 498.8,77.4 499.1,75.2 499.5,68.1 499.8,61.6 500.1,65.4 500.5,65.6 500.8,64.6 501.2,54.1 501.5,57.4 501.8,55.8 502.2,50.4 502.5,51.7 502.8,52.6 503.2,56.6 503.5,46.8 503.9,52.6 504.2,54.5 504.5,52.9 504.9,59.8 505.2,57.5 505.5,49.1 505.9,47.6 506.2,50.3 506.6,50.1 506.9,54.8 507.2,49.8 507.6,54.1 507.9,44.3 508.2,44.8 508.6,38.4 508.9,43.5 509.2,50.7 509.6,51.2 509.9,62.0 510.3,51.3 510.6,48.8 510.9,44.6 511.3,46.1 511.6,47.9 511.9,46.8 512.3,46.8 512.6,46.6 513.0,56.7 513.3,52.0 513.6,58.1 514.0,46.0 514.3,48.7 514.6,49.9 515.0,56.6 515.3,50.5 515.7,51.6 516.0,50.5 516.3,53.1 516.7,48.2 517.0,52.6 517.3,47.6 517.7,49.7 518.0,50.0 518.3,50.1 518.7,47.8 519.0,45.3 519.4,50.3 519.7,49.9 520.0,51.1 520.4,55.9 520.7,45.1 521.0,53.5 521.4,44.6 521.7,47.1 522.1,53.2 522.4,45.6 522.7,48.3 523.1,49.9 523.4,51.8 523.7,46.8 524.1,49.1 524.4,50.0 524.8,54.2 525.1,51.8 525.4,57.4 525.8,53.8 526.1,49.7 526.4,51.2 526.8,54.7 527.1,55.8 527.4,47.9 527.8,47.5 528.1,48.3 528.5,51.7 528.8,46.8 529.1,34.4 529.5,46.2 529.8,44.4 530.1,42.0 530.5,55.3 530.8,43.3 531.2,47.1 531.5,39.2 531.8,44.8 532.2,46.1 532.5,45.6 532.8,44.7 533.2,47.8 533.5,46.0 533.9,52.1 534.2,47.2 534.5,41.9 534.9,41.2 535.2,47.1 535.5,45.6 535.9,43.1 536.2,45.6 536.5,41.6 536.9,42.1 537.2,47.5 537.6,42.3 537.9,45.1 538.2,43.1 538.6,46.2 538.9,49.4 539.2,53.7 539.6,49.3 539.9,53.4 540.3,43.6 540.6,40.3 540.9,49.5 541.3,39.1 541.6,38.9 541.9,41.4 542.3,36.4 542.6,34.7 543.0,47.0 543.3,38.3 543.6,40.2 544.0,40.0 544.3,37.9 544.6,43.9 545.0,43.9 545.3,43.3 545.6,46.3 546.0,42.5 546.3,45.9 546.7,49.7 547.0,43.9 547.3,44.3 547.7,40.2 548.0,48.4 548.3,46.0 548.7,43.9 549.0,42.2 549.4,45.3 549.7,38.6 550.0,40.9 550.4,40.8 550.7,40.1 551.0,39.2 551.4,41.6 551.7,34.4 552.1,37.4 552.4,37.6 552.7,33.7 553.1,31.0 553.4,30.2 553.7,27.6 554.1,33.5 554.4,30.7 554.7,35.0 555.1,33.1 555.4,37.6 555.8,45.7 556.1,33.9 556.4,38.5 556.8,46.1 557.1,41.0 557.4,44.9 557.8,34.1 558.1,39.4 558.5,49.3 558.8,41.2 559.1,42.7 559.5,36.0 559.8,49.5 560.1,53.6 560.5,43.6 560.8,45.1 561.2,41.2 561.5,48.1 561.8,37.7 562.2,32.5 562.5,44.0 562.8,34.2 563.2,40.6 563.5,26.9 563.8,35.7 564.2,38.0 564.5,32.4 564.9,30.9 565.2,37.6 565.5,32.4 565.9,39.4 566.2,44.8 566.5,31.1 566.9,42.5 567.2,44.2 567.6,37.0 567.9,47.7 568.2,43.1 568.6,41.8 568.9,40.9 569.2,38.7 569.6,29.5 569.9,39.0 570.3,35.5 570.6,36.8 570.9,43.9 571.3,37.9 571.6,42.7 571.9,35.1 572.3,38.4 572.6,41.6 572.9,45.9 573.3,41.4 573.6,42.9 574.0,37.3 574.3,38.9 574.6,45.1 575.0,36.0 575.3,39.5 575.6,44.8 576.0,35.1 576.3,39.9 576.7,41.8 577.0,43.7 577.3,48.2 577.7,47.2 578.0,46.5 578.3,39.6 578.7,36.2 579.0,47.0 579.4,38.4 579.7,43.5 580.0,43.0 580.4,41.4 580.7,42.8 581.0,31.5 581.4,41.8 581.7,43.8 582.0,36.6 582.4,42.0 582.7,45.1 583.1,54.9 583.4,40.4 583.7,40.2 584.1,41.1 584.4,41.5 584.7,38.4 585.1,46.5 585.4,43.9 585.8,48.7 586.1,46.8 586.4,42.0 586.8,41.4 587.1,48.7 587.4,39.4 587.8,39.6 588.1,41.2 588.5,38.2 588.8,40.3 589.1,48.0 589.5,47.9 589.8,37.5 589.8,55.8 589.5,65.4 589.1,63.5 588.8,58.1 588.5,53.9 588.1,61.3 587.8,57.1 587.4,58.7 587.1,68.0 586.8,58.1 586.4,59.4 586.1,64.3 585.8,67.8 585.4,60.1 585.1,65.5 584.7,55.8 584.4,58.6 584.1,59.9 583.7,58.3 583.4,56.2 583.1,75.7 582.7,64.1 582.4,60.7 582.0,53.1 581.7,64.4 581.4,59.3 581.0,52.1 580.7,59.0 580.4,57.0 580.0,58.5 579.7,60.9 579.4,58.6 579.0,62.3 578.7,55.8 578.3,54.8 578.0,61.8 577.7,63.8 577.3,62.6 577.0,59.7 576.7,60.1 576.3,63.2 576.0,54.4 575.6,59.7 575.3,57.1 575.0,56.9 574.6,63.5 574.3,59.2 574.0,58.5 573.6,62.4 573.3,59.8 572.9,62.6 572.6,61.3 572.3,56.8 571.9,52.0 571.6,59.4 571.3,54.4 570.9,59.6 570.6,53.1 570.3,53.1 569.9,54.0 569.6,50.6 569.2,52.8 568.9,56.8 568.6,58.0 568.2,61.9 567.9,64.1 567.6,54.9 567.2,58.6 566.9,56.6 566.5,47.6 566.2,63.3 565.9,55.0 565.5,49.9 565.2,54.3 564.9,54.3 564.5,50.8 564.2,54.4 563.8,50.6 563.5,44.3 563.2,55.4 562.8,49.0 562.5,63.5 562.2,48.6 561.8,54.3 561.5,66.5 561.2,61.0 560.8,60.0 560.5,58.5 560.1,68.9 559.8,66.7 559.5,52.9 559.1,63.0 558.8,57.3 558.5,66.6 558.1,61.5 557.8,50.0 557.4,60.1 557.1,59.3 556.8,62.0 556.4,54.8 556.1,51.9 555.8,66.9 555.4,54.4 555.1,47.3 554.7,52.8 554.4,46.6 554.1,47.5 553.7,48.8 553.4,49.0 553.1,48.7 552.7,51.2 552.4,54.3 552.1,53.8 551.7,51.2 551.4,60.2 551.0,55.6 550.7,58.8 550.4,56.6 550.0,57.2 549.7,53.3 549.4,62.0 549.0,58.5 548.7,61.6 548.3,63.1 548.0,68.4 547.7,61.0 547.3,64.2 547.0,60.1 546.7,65.5 546.3,66.1 546.0,60.0 545.6,61.6 545.3,65.2 545.0,63.5 544.6,60.7 544.3,53.9 544.0,56.3 543.6,55.0 543.3,54.4 543.0,63.3 542.6,53.2 542.3,51.5 541.9,58.7 541.6,54.3 541.3,55.8 540.9,66.8 540.6,60.0 540.3,63.5 539.9,68.8 539.6,64.7 539.2,70.5 538.9,68.5 538.6,63.2 538.2,61.5 537.9,64.1 537.6,62.0 537.2,65.9 536.9,61.2 536.5,59.0 536.2,61.0 535.9,61.9 535.5,66.1 535.2,62.4 534.9,58.1 534.5,59.8 534.2,66.1 533.9,68.1 533.5,62.7 533.2,65.6 532.8,62.8 532.5,60.2 532.2,63.6 531.8,61.5 531.5,58.0 531.2,62.7 530.8,62.2 530.5,72.6 530.1,60.7 529.8,60.9 529.5,66.4 529.1,53.8 528.8,60.8 528.5,66.2 528.1,65.1 527.8,66.2 527.4,66.5 527.1,71.9 526.8,70.5 526.4,68.8 526.1,67.7 525.8,73.0 525.4,72.9 525.1,70.5 524.8,70.8 524.4,67.9 524.1,69.4 523.7,63.2 523.4,71.3 523.1,67.9 522.7,65.1 522.4,65.9 522.1,70.0 521.7,61.3 521.4,64.8 521.0,68.1 520.7,62.6 520.4,71.6 520.0,69.1 519.7,64.5 519.4,69.1 519.0,64.8 518.7,67.6 518.3,69.1 518.0,70.3 517.7,67.1 517.3,66.1 517.0,70.1 516.7,64.7 516.3,68.5 516.0,66.1 515.7,72.5 515.3,67.2 515.0,72.7 514.6,67.9 514.3,64.4 514.0,64.4 513.6,73.8 513.3,70.7 513.0,75.3 512.6,61.7 512.3,64.5 511.9,66.8 511.6,65.8 511.3,63.2 510.9,62.3 510.6,68.9 510.3,66.8 509.9,78.7 509.6,68.4 509.2,67.6 508.9,62.8 508.6,54.7 508.2,64.6 507.9,63.8 507.6,69.1 507.2,64.4 506.9,71.7 506.6,71.9 506.2,67.6 505.9,65.4 505.5,66.3 505.2,80.2 504.9,76.4 504.5,72.6 504.2,70.6 503.9,70.3 503.5,61.6 503.2,72.1 502.8,69.9 502.5,67.5 502.2,68.3 501.8,72.2 501.5,76.3 501.2,70.5 500.8,80.1 500.5,84.9 500.1,80.9 499.8,81.6 499.5,85.6 499.1,93.4 498.8,91.7 498.5,97.2 498.1,95.4 497.8,99.0 497.5,90.9 497.1,96.0 496.8,97.6 496.4,95.3 496.1,94.9 495.8,94.0 495.4,94.9 495.1,91.8 494.8,89.8 494.4,92.3 494.1,97.9 493.7,94.0 493.4,102.3 493.1,94.3 492.7,95.3 492.4,93.6 492.1,94.0 491.7,96.6 491.4,96.0 491.0,95.1 490.7,93.5 490.4,89.5 490.0,94.6 489.7,90.2 489.4,92.8 489.0,88.7 488.7,88.2 488.4,94.6 488.0,91.3 487.7,88.3 487.3,91.4 487.0,90.7 486.7,90.3 486.3,92.2 486.0,90.5 485.7,94.3 485.3,86.3 485.0,88.7 484.6,90.9 484.3,90.6 484.0,92.7 483.6,91.6 483.3,90.1 483.0,91.1 482.6,91.0 482.3,89.7 481.9,92.7 481.6,91.3 481.3,95.3 480.9,92.4 480.6,90.7 480.3,95.9 479.9,93.9 479.6,90.1 479.3,90.5 478.9,91.5 478.6,88.0 478.2,88.5 477.9,86.0 477.6,87.8 477.2,93.0 476.9,94.1 476.6,90.5 476.2,89.9 475.9,88.8 475.5,89.9 475.2,88.8 474.9,85.4 474.5,90.6 474.2,83.1 473.9,85.8 473.5,85.6 473.2,86.8 472.8,87.2 472.5,84.7 472.2,89.6 471.8,87.4 471.5,90.1 471.2,91.6 470.8,86.8 470.5,82.8 470.2,88.9 469.8,90.5 469.5,91.5 469.1,92.9 468.8,89.3 468.5,91.1 468.1,94.2 467.8,89.8 467.5,92.0 467.1,95.4 466.8,91.2 466.4,93.8 466.1,88.9 465.8,92.7 465.4,92.7 465.1,91.4 464.8,94.6 464.4,88.4 464.1,88.8 463.7,83.6 463.4,85.0 463.1,93.1 462.7,87.5 462.4,87.0 462.1,87.1 461.7,84.8 461.4,87.1 461.1,91.1 460.7,86.8 460.4,89.5 460.0,93.8 459.7,84.7 459.4,89.9 459.0,88.4 458.7,91.5 458.4,93.0 458.0,86.8 457.7,85.6 457.3,89.2 457.0,80.8 456.7,85.0 456.3,89.8 456.0,89.9 455.7,89.8 455.3,90.0 455.0,84.1 454.6,90.4 454.3,89.2 454.0,89.0 453.6,84.4 453.3,88.2 453.0,89.8 452.6,87.3 452.3,89.5 452.0,86.1 451.6,90.7 451.3,90.6 450.9,90.6 450.6,87.7 450.3,87.4 449.9,85.7 449.6,88.3 449.3,89.9 448.9,88.5 448.6,94.4" fill="#cc2f40"/>
<polyline points="448.6,88.5 448.9,85.8 449.3,87.2 449.6,84.6 449.9,80.4 450.3,83.0 450.6,84.9 450.9,87.7 451.3,87.1 451.6,87.8 452.0,82.5 452.3,86.2 452.6,84.5 453.0,86.2 453.3,84.6 453.6,81.5 454.0,86.1 454.3,84.9 454.6,85.5 455.0,81.3 455.3,85.4 455.7,85.5 456.0,86.2 456.3,86.4 456.7,82.3 457.0,77.8 457.3,86.2 457.7,82.1 458.0,84.0 458.4,87.4 458.7,85.6 459.0,85.6 459.4,86.6 459.7,80.6 460.0,89.2 460.4,83.7 460.7,83.6 461.1,85.5 461.4,83.7 461.7,82.0 462.1,83.8 462.4,83.4 462.7,83.1 463.1,89.8 463.4,82.1 463.7,80.7 464.1,84.2 464.4,84.6 464.8,90.5 465.1,87.8 465.4,89.6 465.8,89.2 466.1,85.7 466.4,89.7 466.8,88.1 467.1,92.1 467.5,87.9 467.8,87.1 468.1,88.6 468.5,88.3 468.8,82.0 469.1,88.8 469.5,88.1 469.8,87.2 470.2,82.2 470.5,79.9 470.8,83.8 471.2,86.2 471.5,85.5 471.8,82.0 472.2,86.5 472.5,81.0 472.8,80.9 473.2,83.9 473.5,82.5 473.9,82.2 474.2,80.3 474.5,86.3 474.9,81.4 475.2,85.1 475.5,86.3 475.9,84.7 476.2,85.7 476.6,87.8 476.9,89.5 477.2,88.3 477.6,83.2 477.9,82.4 478.2,85.7 478.6,84.7 478.9,88.7 479.3,87.7 479.6,87.0 479.9,90.2 480.3,90.1 480.6,87.7 480.9,88.9 481.3,90.8 481.6,87.5 481.9,89.0 482.3,85.9 482.6,88.0 483.0,88.3 483.3,87.0 483.6,87.3 484.0,88.2 484.3,87.4 484.6,84.7 485.0,84.9 485.3,83.5 485.7,90.3 486.0,87.4 486.3,87.6 486.7,86.3 487.0,87.8 487.3,88.2 487.7,85.5 488.0,87.1 488.4,90.5 488.7,85.0 489.0,86.0 489.4,89.8 489.7,86.8 490.0,90.6 490.4,86.7 490.7,90.2 491.0,92.0 491.4,91.4 491.7,92.4 492.1,90.3 492.4,90.2 492.7,90.4 493.1,91.5 493.4,98.4 493.7,89.5 494.1,93.8 494.4,88.8 494.8,86.8 495.1,89.0 495.4,90.8 495.8,90.7 496.1,90.8 496.4,91.9 496.8,92.1 497.1,92.9 497.5,87.9 497.8,91.5 498.1,86.8 498.5,89.3 498.8,84.8 499.1,82.6 499.5,77.3 499.8,73.4 500.1,73.5 500.5,74.7 500.8,73.0 501.2,61.6 501.5,67.1 501.8,65.2 502.2,57.5 502.5,58.9 502.8,61.0 503.2,64.6 503.5,54.2 503.9,61.8 504.2,61.5 504.5,64.1 504.9,68.3 505.2,67.1 505.5,59.2 505.9,57.9 506.2,59.1 506.6,61.6 506.9,61.9 507.2,57.3 507.6,61.5 507.9,52.6 508.2,51.8 508.6,45.7 508.9,53.4 509.2,59.2 509.6,60.5 509.9,70.7 510.3,59.8 510.6,58.2 510.9,53.9 511.3,55.5 511.6,55.9 511.9,57.8 512.3,56.5 512.6,54.0 513.0,64.2 513.3,62.6 513.6,66.7 514.0,55.5 514.3,56.6 514.6,58.5 515.0,65.5 515.3,59.7 515.7,60.8 516.0,59.2 516.3,60.1 516.7,57.4 517.0,61.0 517.3,56.2 517.7,58.5 518.0,60.5 518.3,59.6 518.7,60.6 519.0,55.6 519.4,59.5 519.7,57.1 520.0,59.4 520.4,63.2 520.7,53.6 521.0,60.8 521.4,53.7 521.7,54.1 522.1,61.6 522.4,58.6 522.7,57.1 523.1,58.7 523.4,61.0 523.7,54.8 524.1,59.7 524.4,58.6 524.8,62.8 525.1,60.7 525.4,65.2 525.8,62.5 526.1,59.7 526.4,60.8 526.8,61.7 527.1,63.1 527.4,57.4 527.8,55.9 528.1,57.6 528.5,59.2 528.8,53.7 529.1,45.9 529.5,56.1 529.8,53.0 530.1,52.1 530.5,62.7 530.8,52.0 531.2,55.0 531.5,47.0 531.8,53.2 532.2,55.2 532.5,53.3 532.8,52.2 533.2,55.5 533.5,54.1 533.9,59.8 534.2,56.0 534.5,52.7 534.9,48.7 535.2,54.0 535.5,55.9 535.9,52.4 536.2,52.7 536.5,49.7 536.9,51.5 537.2,55.9 537.6,54.4 537.9,54.8 538.2,54.3 538.6,54.6 538.9,58.2 539.2,62.8 539.6,56.7 539.9,60.9 540.3,51.9 540.6,51.2 540.9,57.2 541.3,48.0 541.6,47.2 541.9,49.9 542.3,43.7 542.6,42.6 543.0,54.1 543.3,45.4 543.6,47.6 544.0,47.8 544.3,46.0 544.6,52.5 545.0,52.5 545.3,54.1 545.6,54.7 546.0,53.0 546.3,59.0 546.7,58.1 547.0,52.4 547.3,55.0 547.7,53.0 548.0,61.2 548.3,56.2 548.7,54.4 549.0,51.2 549.4,52.7 549.7,46.3 550.0,49.9 550.4,49.6 550.7,49.5 551.0,46.7 551.4,50.8 551.7,43.8 552.1,45.2 552.4,44.9 552.7,43.7 553.1,40.5 553.4,37.9 553.7,37.9 554.1,40.5 554.4,39.4 554.7,43.4 555.1,40.2 555.4,46.1 555.8,54.8 556.1,42.4 556.4,47.7 556.8,53.1 557.1,49.8 557.4,53.0 557.8,42.2 558.1,48.9 558.5,57.6 558.8,50.3 559.1,54.5 559.5,45.8 559.8,57.0 560.1,61.0 560.5,51.4 560.8,52.1 561.2,51.5 561.5,57.2 561.8,46.5 562.2,41.0 562.5,54.0 562.8,41.8 563.2,48.0 563.5,36.5 563.8,43.5 564.2,45.5 564.5,40.3 564.9,42.3 565.2,46.5 565.5,42.0 565.9,47.6 566.2,53.4 566.5,39.7 566.9,49.5 567.2,51.1 567.6,47.7 567.9,54.8 568.2,53.4 568.6,49.4 568.9,48.6 569.2,45.6 569.6,41.1 569.9,47.1 570.3,43.8 570.6,44.0 570.9,51.2 571.3,47.0 571.6,52.1 571.9,45.0 572.3,47.7 572.6,49.6 572.9,55.0 573.3,49.4 573.6,52.7 574.0,46.9 574.3,49.9 574.6,52.6 575.0,46.1 575.3,47.2 575.6,52.6 576.0,46.2 576.3,52.1 576.7,52.4 577.0,51.2 577.3,55.2 577.7,54.7 578.0,54.1 578.3,47.8 578.7,48.0 579.0,54.5 579.4,47.2 579.7,53.2 580.0,51.1 580.4,48.6 580.7,50.3 581.0,41.7 581.4,49.8 581.7,55.3 582.0,46.0 582.4,52.8 582.7,52.6 583.1,63.2 583.4,48.4 583.7,49.7 584.1,50.3 584.4,50.2 584.7,47.9 585.1,54.8 585.4,51.0 585.8,57.2 586.1,55.1 586.4,48.9 586.8,50.4 587.1,55.8 587.4,48.3 587.8,49.7 588.1,51.7 588.5,46.9 588.8,50.4 589.1,55.6 589.5,55.0 589.8,45.5" fill="none" stroke="#b51f30" stroke-width="0.8" stroke-linejoin="round"/>
<line x1="491.50" y1="20.30" x2="491.50" y2="120.00" stroke="#8a8a8a" stroke-width="0.6" stroke-dasharray="2.2,1.8"/>
<line x1="497.50" y1="20.30" x2="497.50" y2="120.00" stroke="#333" stroke-width="0.7" stroke-dasharray="2.2,1.8"/>
<text transform="translate(487.6,20.5) rotate(-90)" x="0" y="0" font-size="6.8" fill="#8a8a8a" stroke="#8a8a8a" stroke-width="0.12" font-style="italic" text-anchor="end">Scruff mouse</text>
<rect x="497.70" y="116.10" width="92.60" height="3.50" fill="#c1272d"/>
<text x="548.60" y="113.40" font-size="7.3" fill="#231f20" stroke="#231f20" stroke-width="0.12">AUC window</text>
<text x="604.60" y="22.30" font-size="11.5" fill="#231f20" font-weight="bold">d</text>
<line x1="645.50" y1="43.40" x2="645.50" y2="139.40" stroke="#6a6a6a" stroke-width="1.0"/>
<line x1="641.20" y1="139.50" x2="645.40" y2="139.50" stroke="#6a6a6a" stroke-width="1.0"/>
<text x="639.20" y="142.40" font-size="8.3" fill="#231f20" stroke="#231f20" stroke-width="0.12" text-anchor="end">-2000</text>
<line x1="641.20" y1="115.50" x2="645.40" y2="115.50" stroke="#6a6a6a" stroke-width="1.0"/>
<text x="639.20" y="118.40" font-size="8.3" fill="#231f20" stroke="#231f20" stroke-width="0.12" text-anchor="end">0</text>
<line x1="641.20" y1="91.50" x2="645.40" y2="91.50" stroke="#6a6a6a" stroke-width="1.0"/>
<text x="639.20" y="94.40" font-size="8.3" fill="#231f20" stroke="#231f20" stroke-width="0.12" text-anchor="end">2000</text>
<line x1="641.20" y1="67.50" x2="645.40" y2="67.50" stroke="#6a6a6a" stroke-width="1.0"/>
<text x="639.20" y="70.40" font-size="8.3" fill="#231f20" stroke="#231f20" stroke-width="0.12" text-anchor="end">4000</text>
<line x1="641.20" y1="43.50" x2="645.40" y2="43.50" stroke="#6a6a6a" stroke-width="1.0"/>
<text x="639.20" y="46.40" font-size="8.3" fill="#231f20" stroke="#231f20" stroke-width="0.12" text-anchor="end">6000</text>
<text transform="translate(609.90,87.00) rotate(-90)" x="0" y="3.01" font-size="8.6" fill="#231f20" stroke="#231f20" stroke-width="0.12" text-anchor="middle">AUC</text>
<line x1="645.40" y1="115.50" x2="681.00" y2="115.50" stroke="#333" stroke-width="0.7" stroke-dasharray="1,1.5"/>
<rect x="652.00" y="104.00" width="11.60" height="11.40" fill="#7f7f7f"/>
<rect x="666.40" y="71.60" width="10.80" height="43.80" fill="#c1272d"/>
<line x1="657.50" y1="95.60" x2="657.50" y2="114.00" stroke="#231f20" stroke-width="1.0"/>
<line x1="671.50" y1="60.40" x2="671.50" y2="86.00" stroke="#231f20" stroke-width="1.0"/>
<circle cx="657.60" cy="81.60" r="1.55" fill="#f6f1c4" stroke="#2a2a2a" stroke-width="0.5"/>
<circle cx="657.60" cy="88.00" r="1.55" fill="#f6f1c4" stroke="#2a2a2a" stroke-width="0.5"/>
<circle cx="657.60" cy="105.00" r="1.55" fill="#7cc4ea" stroke="#2a2a2a" stroke-width="0.5"/>
<circle cx="657.60" cy="117.00" r="1.55" fill="#f6f1c4" stroke="#2a2a2a" stroke-width="0.5"/>
<circle cx="657.60" cy="128.00" r="1.55" fill="#f6f1c4" stroke="#2a2a2a" stroke-width="0.5"/>
<circle cx="671.60" cy="36.60" r="1.55" fill="#f6f1c4" stroke="#2a2a2a" stroke-width="0.5"/>
<circle cx="671.60" cy="54.60" r="1.55" fill="#f6f1c4" stroke="#2a2a2a" stroke-width="0.5"/>
<circle cx="671.60" cy="58.60" r="1.55" fill="#7cc4ea" stroke="#2a2a2a" stroke-width="0.5"/>
<circle cx="671.60" cy="84.60" r="1.55" fill="#f6f1c4" stroke="#2a2a2a" stroke-width="0.5"/>
<circle cx="671.60" cy="92.60" r="1.55" fill="#7cc4ea" stroke="#2a2a2a" stroke-width="0.5"/>
<circle cx="671.60" cy="100.40" r="1.55" fill="#7cc4ea" stroke="#2a2a2a" stroke-width="0.5"/>
<line x1="651.00" y1="29.50" x2="677.00" y2="29.50" stroke="#231f20" stroke-width="1.0"/>
<polygon points="664.00,23.60 664.69,25.25 666.47,25.40 665.11,26.56 665.53,28.30 664.00,27.37 662.47,28.30 662.89,26.56 661.53,25.40 663.31,25.25" fill="#231f20"/>
<text x="7.00" y="174.70" font-size="11.5" fill="#231f20" font-weight="bold">e</text>
<rect x="39.20" y="172.60" width="7.00" height="6.80" fill="#fff" stroke="#999" stroke-width="0.7"/>
<text x="50.00" y="179.20" font-size="8.7" fill="#231f20" stroke="#231f20" stroke-width="0.12">Baseline</text>
<rect x="173.00" y="172.40" width="6.60" height="6.80" fill="#f3d4d7"/>
<text x="182.00" y="179.20" font-size="8.7" fill="#231f20" stroke="#231f20" stroke-width="0.12">Acute fentanyl</text>
<rect x="293.00" y="172.40" width="7.00" height="6.80" fill="#c1272d"/>
<text x="305.60" y="178.00" font-size="8.7" fill="#231f20" stroke="#231f20" stroke-width="0.12">Fentanyl-drinking</text>
<text x="305.60" y="189.00" font-size="8.7" fill="#231f20" stroke="#231f20" stroke-width="0.12">/ Naloxone</text>
<line x1="36.50" y1="192.00" x2="36.50" y2="287.00" stroke="#231f20" stroke-width="1.0"/>
<line x1="32.10" y1="287.50" x2="36.60" y2="287.50" stroke="#231f20" stroke-width="1.0"/>
<text x="29.60" y="290.00" font-size="8.3" fill="#231f20" stroke="#231f20" stroke-width="0.12" text-anchor="end">-2</text>
<line x1="32.10" y1="268.50" x2="36.60" y2="268.50" stroke="#231f20" stroke-width="1.0"/>
<text x="29.60" y="271.00" font-size="8.3" fill="#231f20" stroke="#231f20" stroke-width="0.12" text-anchor="end">0</text>
<line x1="32.10" y1="249.50" x2="36.60" y2="249.50" stroke="#231f20" stroke-width="1.0"/>
<text x="29.60" y="252.00" font-size="8.3" fill="#231f20" stroke="#231f20" stroke-width="0.12" text-anchor="end">2</text>
<line x1="32.10" y1="230.50" x2="36.60" y2="230.50" stroke="#231f20" stroke-width="1.0"/>
<text x="29.60" y="233.00" font-size="8.3" fill="#231f20" stroke="#231f20" stroke-width="0.12" text-anchor="end">4</text>
<line x1="32.10" y1="211.50" x2="36.60" y2="211.50" stroke="#231f20" stroke-width="1.0"/>
<text x="29.60" y="214.00" font-size="8.3" fill="#231f20" stroke="#231f20" stroke-width="0.12" text-anchor="end">6</text>
<line x1="32.10" y1="192.50" x2="36.60" y2="192.50" stroke="#231f20" stroke-width="1.0"/>
<text x="29.60" y="195.00" font-size="8.3" fill="#231f20" stroke="#231f20" stroke-width="0.12" text-anchor="end">8</text>
<line x1="40.20" y1="297.50" x2="148.60" y2="297.50" stroke="#231f20" stroke-width="1.0"/>
<line x1="40.50" y1="297.60" x2="40.50" y2="301.40" stroke="#231f20" stroke-width="1.0"/>
<text x="44.81" y="311.70" font-size="8.3" fill="#231f20" stroke="#231f20" stroke-width="0.12" text-anchor="end">-10</text>
<line x1="67.50" y1="297.60" x2="67.50" y2="301.40" stroke="#231f20" stroke-width="1.0"/>
<text x="69.61" y="311.70" font-size="8.3" fill="#231f20" stroke="#231f20" stroke-width="0.12" text-anchor="end">-5</text>
<line x1="94.50" y1="297.60" x2="94.50" y2="301.40" stroke="#231f20" stroke-width="1.0"/>
<text x="94.40" y="311.70" font-size="8.3" fill="#231f20" stroke="#231f20" stroke-width="0.12" text-anchor="middle">0</text>
<line x1="121.50" y1="297.60" x2="121.50" y2="301.40" stroke="#231f20" stroke-width="1.0"/>
<text x="121.50" y="311.70" font-size="8.3" fill="#231f20" stroke="#231f20" stroke-width="0.12" text-anchor="middle">5</text>
<line x1="148.50" y1="297.60" x2="148.50" y2="301.40" stroke="#231f20" stroke-width="1.0"/>
<text x="148.60" y="311.70" font-size="8.3" fill="#231f20" stroke="#231f20" stroke-width="0.12" text-anchor="middle">10</text>
<line x1="171.20" y1="297.50" x2="279.60" y2="297.50" stroke="#231f20" stroke-width="1.0"/>
<line x1="171.50" y1="297.60" x2="171.50" y2="301.40" stroke="#231f20" stroke-width="1.0"/>
<text x="175.81" y="311.70" font-size="8.3" fill="#231f20" stroke="#231f20" stroke-width="0.12" text-anchor="end">-10</text>
<line x1="198.50" y1="297.60" x2="198.50" y2="301.40" stroke="#231f20" stroke-width="1.0"/>
<text x="200.61" y="311.70" font-size="8.3" fill="#231f20" stroke="#231f20" stroke-width="0.12" text-anchor="end">-5</text>
<line x1="225.50" y1="297.60" x2="225.50" y2="301.40" stroke="#231f20" stroke-width="1.0"/>
<text x="225.40" y="311.70" font-size="8.3" fill="#231f20" stroke="#231f20" stroke-width="0.12" text-anchor="middle">0</text>
<line x1="252.50" y1="297.60" x2="252.50" y2="301.40" stroke="#231f20" stroke-width="1.0"/>
<text x="252.50" y="311.70" font-size="8.3" fill="#231f20" stroke="#231f20" stroke-width="0.12" text-anchor="middle">5</text>
<line x1="279.50" y1="297.60" x2="279.50" y2="301.40" stroke="#231f20" stroke-width="1.0"/>
<text x="279.60" y="311.70" font-size="8.3" fill="#231f20" stroke="#231f20" stroke-width="0.12" text-anchor="middle">10</text>
<line x1="300.20" y1="297.50" x2="408.60" y2="297.50" stroke="#231f20" stroke-width="1.0"/>
<line x1="300.50" y1="297.60" x2="300.50" y2="301.40" stroke="#231f20" stroke-width="1.0"/>
<text x="304.81" y="311.70" font-size="8.3" fill="#231f20" stroke="#231f20" stroke-width="0.12" text-anchor="end">-10</text>
<line x1="327.50" y1="297.60" x2="327.50" y2="301.40" stroke="#231f20" stroke-width="1.0"/>
<text x="329.61" y="311.70" font-size="8.3" fill="#231f20" stroke="#231f20" stroke-width="0.12" text-anchor="end">-5</text>
<line x1="354.50" y1="297.60" x2="354.50" y2="301.40" stroke="#231f20" stroke-width="1.0"/>
<text x="354.40" y="311.70" font-size="8.3" fill="#231f20" stroke="#231f20" stroke-width="0.12" text-anchor="middle">0</text>
<line x1="381.50" y1="297.60" x2="381.50" y2="301.40" stroke="#231f20" stroke-width="1.0"/>
<text x="381.50" y="311.70" font-size="8.3" fill="#231f20" stroke="#231f20" stroke-width="0.12" text-anchor="middle">5</text>
<line x1="408.50" y1="297.60" x2="408.50" y2="301.40" stroke="#231f20" stroke-width="1.0"/>
<text x="408.60" y="311.70" font-size="8.3" fill="#231f20" stroke="#231f20" stroke-width="0.12" text-anchor="middle">10</text>
<text x="182.40" y="323.20" font-size="8.7" fill="#231f20" stroke="#231f20" stroke-width="0.12">Seconds from stimulus</text>
<text transform="translate(16.20,240.00) rotate(-90)" x="0" y="3.01" font-size="8.6" fill="#231f20" stroke="#231f20" stroke-width="0.12" text-anchor="middle">z-score</text>
<line x1="40.00" y1="268.50" x2="408.50" y2="268.50" stroke="#58595b" stroke-width="0.7" stroke-dasharray="2.4,2"/>
<line x1="94.50" y1="191.60" x2="94.50" y2="297.60" stroke="#333" stroke-width="0.7" stroke-dasharray="2.2,1.8"/>
<line x1="225.50" y1="191.60" x2="225.50" y2="297.60" stroke="#333" stroke-width="0.7" stroke-dasharray="2.2,1.8"/>
<line x1="354.50" y1="191.60" x2="354.50" y2="297.60" stroke="#333" stroke-width="0.7" stroke-dasharray="2.2,1.8"/>
<polygon points="40.2,267.2 40.6,264.7 40.9,265.5 41.3,263.3 41.7,264.5 42.0,262.0 42.4,263.8 42.7,264.2 43.1,265.7 43.5,266.8 43.8,266.3 44.2,265.9 44.6,266.9 44.9,266.7 45.3,265.7 45.6,266.9 46.0,265.8 46.4,265.7 46.7,265.1 47.1,265.1 47.5,268.3 47.8,261.1 48.2,263.1 48.5,263.4 48.9,262.5 49.3,261.6 49.6,261.9 50.0,266.8 50.4,264.7 50.7,263.2 51.1,262.4 51.4,262.3 51.8,263.5 52.2,266.8 52.5,268.5 52.9,264.0 53.3,264.1 53.6,261.8 54.0,262.8 54.3,261.7 54.7,264.3 55.1,262.5 55.4,263.8 55.8,262.9 56.2,263.7 56.5,263.5 56.9,264.2 57.2,264.5 57.6,263.1 58.0,262.9 58.3,263.9 58.7,264.9 59.1,261.1 59.4,263.4 59.8,261.6 60.1,263.2 60.5,263.7 60.9,264.3 61.2,262.3 61.6,262.1 62.0,260.4 62.3,263.8 62.7,263.1 63.0,262.6 63.4,260.9 63.8,266.0 64.1,262.8 64.5,264.8 64.9,263.9 65.2,263.4 65.6,264.0 65.9,262.9 66.3,263.3 66.7,264.8 67.0,263.9 67.4,265.5 67.8,263.4 68.1,264.4 68.5,265.1 68.8,264.0 69.2,263.8 69.6,262.8 69.9,264.0 70.3,264.4 70.7,262.4 71.0,263.4 71.4,262.3 71.7,264.5 72.1,264.9 72.5,265.5 72.8,266.4 73.2,263.9 73.6,265.8 73.9,267.8 74.3,265.6 74.6,267.8 75.0,264.3 75.4,265.4 75.7,265.3 76.1,263.0 76.5,264.2 76.8,266.0 77.2,263.1 77.5,260.2 77.9,265.8 78.3,261.0 78.6,265.9 79.0,265.9 79.4,265.8 79.7,267.5 80.1,263.1 80.4,264.3 80.8,265.5 81.2,265.1 81.5,266.6 81.9,265.4 82.3,264.3 82.6,268.7 83.0,267.1 83.3,266.0 83.7,264.7 84.1,263.1 84.4,265.2 84.8,264.8 85.2,262.8 85.5,264.1 85.9,264.6 86.2,262.3 86.6,262.6 87.0,265.7 87.3,266.9 87.7,265.4 88.1,269.4 88.4,267.0 88.8,267.8 89.1,262.2 89.5,265.1 89.9,264.7 90.2,265.0 90.6,267.3 91.0,262.6 91.3,261.1 91.7,263.7 92.0,261.6 92.4,260.5 92.8,263.1 93.1,259.5 93.5,258.5 93.9,260.7 94.2,261.5 94.6,257.7 94.9,259.4 95.3,254.7 95.7,250.2 96.0,250.5 96.4,247.6 96.8,247.7 97.1,248.1 97.5,243.6 97.8,244.0 98.2,242.3 98.6,245.2 98.9,242.9 99.3,246.8 99.7,245.8 100.0,248.6 100.4,248.4 100.7,247.3 101.1,250.4 101.5,251.5 101.8,253.3 102.2,251.6 102.6,254.0 102.9,256.8 103.3,256.4 103.6,257.8 104.0,259.7 104.4,259.2 104.7,258.1 105.1,259.2 105.5,261.3 105.8,259.5 106.2,259.7 106.5,261.2 106.9,259.9 107.3,262.2 107.6,262.6 108.0,261.1 108.4,261.8 108.7,259.1 109.1,263.3 109.4,258.2 109.8,262.2 110.2,261.5 110.5,262.7 110.9,260.6 111.3,260.2 111.6,260.8 112.0,261.9 112.3,265.3 112.7,264.1 113.1,263.2 113.4,264.3 113.8,260.7 114.2,262.0 114.5,262.4 114.9,262.0 115.2,262.9 115.6,265.4 116.0,265.6 116.3,263.7 116.7,265.8 117.1,265.8 117.4,264.9 117.8,267.6 118.1,267.2 118.5,265.5 118.9,266.8 119.2,264.0 119.6,261.4 120.0,261.7 120.3,260.8 120.7,263.7 121.0,263.2 121.4,262.3 121.8,264.9 122.1,263.3 122.5,262.0 122.9,264.1 123.2,265.5 123.6,264.6 123.9,262.8 124.3,262.8 124.7,263.1 125.0,261.9 125.4,264.2 125.8,262.0 126.1,260.9 126.5,262.4 126.8,263.2 127.2,262.7 127.6,262.2 127.9,259.7 128.3,261.9 128.7,260.5 129.0,258.6 129.4,261.0 129.7,259.4 130.1,261.0 130.5,262.6 130.8,261.3 131.2,263.6 131.6,260.5 131.9,263.8 132.3,259.8 132.6,260.9 133.0,265.2 133.4,260.7 133.7,260.5 134.1,264.0 134.5,260.7 134.8,264.4 135.2,260.3 135.5,263.5 135.9,260.1 136.3,261.9 136.6,262.0 137.0,258.5 137.4,255.1 137.7,259.7 138.1,258.5 138.4,259.9 138.8,259.0 139.2,259.5 139.5,257.9 139.9,261.9 140.3,258.6 140.6,259.7 141.0,262.6 141.3,258.6 141.7,258.3 142.1,261.8 142.4,258.2 142.8,260.8 143.2,261.2 143.5,258.7 143.9,261.2 144.2,260.4 144.6,258.8 145.0,258.1 145.3,257.0 145.7,260.8 146.1,262.1 146.4,258.7 146.8,261.6 147.1,260.3 147.5,263.2 147.9,262.3 148.2,263.0 148.6,258.4 148.6,265.2 148.2,270.9 147.9,268.3 147.5,270.2 147.1,268.5 146.8,269.1 146.4,265.8 146.1,268.3 145.7,268.3 145.3,264.6 145.0,264.9 144.6,264.9 144.2,267.1 143.9,267.9 143.5,266.1 143.2,268.0 142.8,267.6 142.4,265.1 142.1,268.3 141.7,265.2 141.3,264.6 141.0,269.5 140.6,266.0 140.3,265.5 139.9,269.6 139.5,264.8 139.2,265.8 138.8,267.1 138.4,266.2 138.1,266.8 137.7,267.4 137.4,262.8 137.0,266.1 136.6,270.1 136.3,268.8 135.9,266.5 135.5,269.6 135.2,268.7 134.8,271.4 134.5,268.9 134.1,270.2 133.7,266.9 133.4,268.0 133.0,271.2 132.6,267.4 132.3,266.7 131.9,270.3 131.6,267.4 131.2,271.4 130.8,269.1 130.5,269.3 130.1,268.4 129.7,266.6 129.4,267.8 129.0,265.2 128.7,266.8 128.3,268.5 127.9,268.5 127.6,268.5 127.2,270.0 126.8,269.6 126.5,269.5 126.1,267.7 125.8,268.7 125.4,271.5 125.0,268.0 124.7,269.0 124.3,270.2 123.9,270.2 123.6,270.8 123.2,272.1 122.9,271.0 122.5,268.9 122.1,270.9 121.8,271.4 121.4,269.6 121.0,271.5 120.7,269.6 120.3,267.9 120.0,267.6 119.6,268.4 119.2,271.0 118.9,273.9 118.5,271.7 118.1,274.7 117.8,275.1 117.4,271.7 117.1,271.9 116.7,271.8 116.3,271.0 116.0,272.4 115.6,271.6 115.2,271.0 114.9,268.5 114.5,268.9 114.2,268.8 113.8,268.2 113.4,270.9 113.1,270.8 112.7,271.4 112.3,273.1 112.0,268.2 111.6,267.9 111.3,266.5 110.9,266.9 110.5,271.5 110.2,267.4 109.8,269.1 109.4,265.7 109.1,269.6 108.7,267.7 108.4,268.5 108.0,268.0 107.6,268.6 107.3,269.5 106.9,267.3 106.5,267.2 106.2,266.6 105.8,266.0 105.5,267.4 105.1,266.0 104.7,265.5 104.4,265.9 104.0,266.2 103.6,265.2 103.3,263.6 102.9,262.8 102.6,260.9 102.2,259.0 101.8,261.4 101.5,258.5 101.1,257.1 100.7,254.2 100.4,255.3 100.0,254.5 99.7,252.3 99.3,253.5 98.9,250.0 98.6,252.4 98.2,249.7 97.8,251.9 97.5,250.6 97.1,254.9 96.8,254.4 96.4,254.0 96.0,259.2 95.7,257.5 95.3,261.1 94.9,265.6 94.6,264.7 94.2,266.0 93.9,266.1 93.5,263.1 93.1,263.7 92.8,267.1 92.4,264.4 92.0,265.6 91.7,267.2 91.3,264.9 91.0,266.6 90.6,271.3 90.2,269.3 89.9,270.7 89.5,268.3 89.1,267.2 88.8,271.7 88.4,270.3 88.1,272.7 87.7,269.7 87.3,270.4 87.0,270.4 86.6,268.1 86.2,268.0 85.9,268.0 85.5,267.2 85.2,266.1 84.8,267.9 84.4,268.3 84.1,267.4 83.7,268.1 83.3,270.0 83.0,272.1 82.6,271.9 82.3,268.0 81.9,269.4 81.5,270.1 81.2,268.3 80.8,269.5 80.4,267.9 80.1,267.1 79.7,270.8 79.4,268.8 79.0,269.0 78.6,269.9 78.3,265.6 77.9,269.9 77.5,264.6 77.2,267.1 76.8,270.2 76.5,267.6 76.1,268.2 75.7,270.2 75.4,270.4 75.0,269.0 74.6,271.1 74.3,270.0 73.9,271.2 73.6,270.1 73.2,268.0 72.8,270.4 72.5,270.2 72.1,270.7 71.7,267.9 71.4,267.3 71.0,266.8 70.7,266.4 70.3,268.4 69.9,269.5 69.6,267.2 69.2,268.2 68.8,268.3 68.5,268.2 68.1,268.3 67.8,268.8 67.4,271.5 67.0,269.1 66.7,267.7 66.3,268.0 65.9,266.0 65.6,267.6 65.2,268.5 64.9,267.1 64.5,268.7 64.1,266.4 63.8,269.7 63.4,265.6 63.0,265.7 62.7,266.1 62.3,267.0 62.0,265.2 61.6,266.1 61.2,265.8 60.9,267.5 60.5,267.7 60.1,266.5 59.8,266.1 59.4,269.4 59.1,266.4 58.7,268.3 58.3,268.4 58.0,267.3 57.6,267.3 57.2,269.1 56.9,268.3 56.5,267.9 56.2,267.2 55.8,266.8 55.4,267.2 55.1,266.5 54.7,268.2 54.3,265.6 54.0,267.2 53.6,265.7 53.3,267.7 52.9,269.4 52.5,273.5 52.2,271.5 51.8,267.9 51.4,266.3 51.1,267.3 50.7,267.6 50.4,267.9 50.0,271.5 49.6,267.1 49.3,266.7 48.9,266.6 48.5,267.3 48.2,266.7 47.8,266.6 47.5,271.4 47.1,269.6 46.7,270.3 46.4,271.3 46.0,270.1 45.6,270.0 45.3,269.5 44.9,272.1 44.6,270.4 44.2,269.8 43.8,270.2 43.5,270.7 43.1,269.5 42.7,268.0 42.4,268.0 42.0,265.5 41.7,267.8 41.3,267.2 40.9,269.6 40.6,267.7 40.2,271.2" fill="#dadada"/>
<polyline points="40.2,269.7 40.6,266.1 40.9,267.0 41.3,265.1 41.7,266.3 42.0,263.8 42.4,265.4 42.7,265.9 43.1,267.4 43.5,268.3 43.8,268.2 44.2,267.4 44.6,268.6 44.9,269.9 45.3,267.5 45.6,268.5 46.0,268.4 46.4,268.7 46.7,267.8 47.1,267.4 47.5,269.8 47.8,264.4 48.2,264.8 48.5,265.8 48.9,264.1 49.3,264.9 49.6,265.1 50.0,269.0 50.4,266.3 50.7,265.7 51.1,264.7 51.4,264.9 51.8,265.8 52.2,269.4 52.5,270.5 52.9,266.3 53.3,266.2 53.6,264.1 54.0,264.9 54.3,264.1 54.7,266.3 55.1,264.0 55.4,265.6 55.8,265.0 56.2,265.3 56.5,266.3 56.9,265.8 57.2,266.2 57.6,265.1 58.0,265.3 58.3,266.6 58.7,266.6 59.1,263.4 59.4,265.8 59.8,264.2 60.1,264.8 60.5,265.8 60.9,265.8 61.2,264.3 61.6,263.7 62.0,263.0 62.3,265.5 62.7,264.7 63.0,264.3 63.4,262.4 63.8,268.1 64.1,264.8 64.5,266.5 64.9,265.4 65.2,266.7 65.6,265.7 65.9,264.4 66.3,266.3 66.7,266.2 67.0,266.2 67.4,267.5 67.8,265.5 68.1,266.2 68.5,266.7 68.8,265.5 69.2,265.8 69.6,264.7 69.9,265.9 70.3,266.7 70.7,264.3 71.0,265.3 71.4,265.3 71.7,266.4 72.1,267.4 72.5,268.0 72.8,267.9 73.2,266.4 73.6,267.6 73.9,269.7 74.3,267.8 74.6,269.3 75.0,266.6 75.4,267.9 75.7,267.5 76.1,265.6 76.5,265.8 76.8,267.9 77.2,264.7 77.5,263.0 77.9,268.0 78.3,263.8 78.6,267.4 79.0,267.4 79.4,267.4 79.7,269.3 80.1,265.6 80.4,266.4 80.8,267.6 81.2,266.8 81.5,268.5 81.9,267.4 82.3,266.3 82.6,270.4 83.0,269.0 83.3,268.2 83.7,266.5 84.1,265.3 84.4,266.7 84.8,266.4 85.2,264.5 85.5,265.8 85.9,266.2 86.2,265.2 86.6,265.2 87.0,267.8 87.3,268.7 87.7,267.8 88.1,271.0 88.4,268.4 88.8,269.6 89.1,264.8 89.5,266.6 89.9,267.0 90.2,267.1 90.6,269.7 91.0,264.9 91.3,263.0 91.7,265.5 92.0,263.0 92.4,262.4 92.8,265.1 93.1,261.7 93.5,261.3 93.9,263.1 94.2,263.8 94.6,261.7 94.9,262.5 95.3,258.0 95.7,254.5 96.0,255.3 96.4,251.1 96.8,251.5 97.1,251.9 97.5,247.4 97.8,247.7 98.2,246.3 98.6,248.8 98.9,246.6 99.3,249.9 99.7,249.2 100.0,251.5 100.4,252.2 100.7,251.2 101.1,253.5 101.5,255.4 101.8,257.8 102.2,255.8 102.6,257.6 102.9,259.8 103.3,259.8 103.6,262.2 104.0,262.8 104.4,263.1 104.7,262.0 105.1,262.6 105.5,264.4 105.8,262.8 106.2,263.1 106.5,264.2 106.9,263.4 107.3,265.5 107.6,265.5 108.0,264.9 108.4,265.4 108.7,264.1 109.1,266.5 109.4,262.7 109.8,265.4 110.2,264.5 110.5,266.2 110.9,263.9 111.3,263.4 111.6,264.0 112.0,264.8 112.3,268.3 112.7,267.4 113.1,266.9 113.4,267.3 113.8,264.3 114.2,265.3 114.5,265.6 114.9,265.2 115.2,267.7 115.6,268.4 116.0,269.2 116.3,268.0 116.7,268.7 117.1,268.9 117.4,268.5 117.8,271.8 118.1,270.3 118.5,268.7 118.9,269.7 119.2,267.8 119.6,265.1 120.0,264.8 120.3,264.9 120.7,266.7 121.0,267.4 121.4,265.9 121.8,267.8 122.1,266.9 122.5,265.6 122.9,268.0 123.2,268.6 123.6,267.8 123.9,266.7 124.3,266.4 124.7,266.1 125.0,264.9 125.4,267.1 125.8,265.7 126.1,264.2 126.5,265.6 126.8,266.1 127.2,265.8 127.6,265.2 127.9,264.2 128.3,265.2 128.7,263.6 129.0,261.7 129.4,264.3 129.7,262.6 130.1,264.1 130.5,266.2 130.8,265.3 131.2,266.5 131.6,264.3 131.9,266.8 132.3,263.5 132.6,264.5 133.0,268.1 133.4,264.6 133.7,263.8 134.1,267.1 134.5,264.6 134.8,268.0 135.2,264.7 135.5,266.6 135.9,263.2 136.3,265.7 136.6,266.5 137.0,262.3 137.4,259.8 137.7,263.7 138.1,262.0 138.4,263.1 138.8,263.7 139.2,262.5 139.5,261.1 139.9,264.8 140.3,262.5 140.6,262.9 141.0,265.5 141.3,261.7 141.7,261.4 142.1,265.4 142.4,262.0 142.8,264.4 143.2,264.8 143.5,262.7 143.9,264.3 144.2,263.9 144.6,261.7 145.0,261.5 145.3,261.5 145.7,264.5 146.1,265.0 146.4,262.1 146.8,265.5 147.1,264.7 147.5,266.6 147.9,265.3 148.2,266.3 148.6,261.8" fill="none" stroke="#858585" stroke-width="0.7" stroke-linejoin="round"/>
<polygon points="171.2,266.3 171.6,265.5 171.9,265.3 172.3,267.2 172.7,265.0 173.0,267.6 173.4,264.5 173.7,266.7 174.1,264.6 174.5,263.5 174.8,264.8 175.2,265.1 175.6,264.1 175.9,264.9 176.3,265.9 176.6,266.6 177.0,264.5 177.4,266.3 177.7,264.9 178.1,268.2 178.5,266.6 178.8,268.4 179.2,265.3 179.5,267.5 179.9,262.1 180.3,267.5 180.6,263.8 181.0,262.9 181.4,266.7 181.7,265.4 182.1,264.6 182.4,264.6 182.8,268.6 183.2,267.0 183.5,266.8 183.9,267.0 184.3,265.6 184.6,263.1 185.0,265.2 185.3,266.1 185.7,266.3 186.1,265.6 186.4,264.8 186.8,267.0 187.2,263.7 187.5,267.9 187.9,265.4 188.2,264.9 188.6,263.4 189.0,266.3 189.3,266.1 189.7,265.4 190.1,264.5 190.4,265.3 190.8,265.1 191.1,265.0 191.5,263.6 191.9,263.3 192.2,264.9 192.6,262.0 193.0,265.2 193.3,264.8 193.7,262.0 194.0,262.7 194.4,265.6 194.8,263.6 195.1,262.5 195.5,265.7 195.9,264.6 196.2,266.7 196.6,267.2 196.9,267.2 197.3,265.3 197.7,268.7 198.0,267.0 198.4,264.7 198.8,267.8 199.1,268.4 199.5,266.1 199.8,265.9 200.2,267.4 200.6,266.4 200.9,268.6 201.3,263.4 201.7,269.0 202.0,268.6 202.4,270.4 202.7,269.3 203.1,266.3 203.5,268.4 203.8,268.0 204.2,268.8 204.6,265.1 204.9,267.2 205.3,267.4 205.6,266.5 206.0,268.2 206.4,267.7 206.7,268.0 207.1,268.5 207.5,268.4 207.8,270.1 208.2,270.7 208.5,267.8 208.9,269.7 209.3,268.4 209.6,269.0 210.0,272.1 210.4,269.8 210.7,266.3 211.1,269.4 211.4,268.5 211.8,269.2 212.2,268.0 212.5,266.2 212.9,267.9 213.3,267.4 213.6,267.6 214.0,268.0 214.3,267.9 214.7,267.5 215.1,268.5 215.4,266.3 215.8,267.8 216.2,267.0 216.5,266.8 216.9,264.6 217.2,266.9 217.6,267.2 218.0,265.9 218.3,263.9 218.7,266.1 219.1,263.2 219.4,266.1 219.8,268.9 220.1,267.4 220.5,265.0 220.9,269.5 221.2,269.8 221.6,267.4 222.0,265.8 222.3,265.5 222.7,266.3 223.0,266.1 223.4,264.7 223.8,263.6 224.1,262.9 224.5,264.6 224.9,263.1 225.2,263.8 225.6,262.2 225.9,263.5 226.3,262.4 226.7,260.0 227.0,259.1 227.4,254.4 227.8,253.4 228.1,249.9 228.5,250.9 228.8,252.6 229.2,252.7 229.6,253.2 229.9,251.1 230.3,256.5 230.7,256.0 231.0,257.3 231.4,257.8 231.7,256.2 232.1,259.4 232.5,257.5 232.8,257.8 233.2,261.3 233.6,258.0 233.9,257.4 234.3,258.6 234.6,256.0 235.0,257.5 235.4,258.5 235.7,255.8 236.1,259.0 236.5,256.1 236.8,256.9 237.2,257.9 237.5,256.9 237.9,257.1 238.3,255.7 238.6,259.3 239.0,258.1 239.4,259.2 239.7,257.0 240.1,260.6 240.4,257.7 240.8,261.4 241.2,258.3 241.5,257.9 241.9,257.7 242.3,258.8 242.6,260.8 243.0,259.9 243.3,256.7 243.7,256.0 244.1,258.2 244.4,256.4 244.8,258.9 245.2,258.1 245.5,259.8 245.9,256.3 246.2,255.8 246.6,259.9 247.0,258.9 247.3,257.4 247.7,255.9 248.1,261.5 248.4,258.0 248.8,257.5 249.1,260.1 249.5,257.4 249.9,258.4 250.2,257.2 250.6,258.7 251.0,257.6 251.3,260.1 251.7,258.3 252.0,258.6 252.4,259.7 252.8,260.6 253.1,255.8 253.5,257.3 253.9,257.8 254.2,260.6 254.6,259.6 254.9,257.7 255.3,259.1 255.7,261.2 256.0,259.3 256.4,259.2 256.8,259.1 257.1,261.0 257.5,258.8 257.8,260.4 258.2,261.5 258.6,263.5 258.9,262.3 259.3,262.9 259.7,261.7 260.0,261.8 260.4,260.6 260.7,261.6 261.1,263.0 261.5,265.0 261.8,263.1 262.2,262.9 262.6,261.6 262.9,259.7 263.3,258.7 263.6,260.3 264.0,261.2 264.4,257.3 264.7,260.1 265.1,261.0 265.5,261.4 265.8,262.5 266.2,260.8 266.5,262.2 266.9,260.8 267.3,261.3 267.6,261.3 268.0,260.3 268.4,261.5 268.7,261.8 269.1,261.2 269.4,262.6 269.8,260.8 270.2,261.0 270.5,258.1 270.9,260.1 271.3,262.6 271.6,260.4 272.0,259.0 272.3,262.5 272.7,261.1 273.1,262.1 273.4,263.8 273.8,261.8 274.2,262.0 274.5,264.0 274.9,262.5 275.2,262.8 275.6,264.5 276.0,264.0 276.3,262.4 276.7,263.5 277.1,263.3 277.4,263.1 277.8,262.1 278.1,261.9 278.5,262.6 278.9,263.8 279.2,261.9 279.6,261.1 279.6,265.4 279.2,265.9 278.9,268.0 278.5,266.9 278.1,266.5 277.8,268.5 277.4,267.3 277.1,268.7 276.7,269.2 276.3,267.0 276.0,268.0 275.6,270.4 275.2,267.2 274.9,266.6 274.5,268.8 274.2,266.7 273.8,268.0 273.4,267.9 273.1,266.3 272.7,267.3 272.3,268.9 272.0,264.8 271.6,264.9 271.3,266.7 270.9,264.8 270.5,263.7 270.2,265.1 269.8,265.1 269.4,267.8 269.1,265.4 268.7,266.4 268.4,266.4 268.0,265.6 267.6,265.7 267.3,265.9 266.9,265.6 266.5,266.4 266.2,265.8 265.8,268.2 265.5,265.9 265.1,265.9 264.7,265.0 264.4,261.8 264.0,266.4 263.6,266.5 263.3,263.3 262.9,264.7 262.6,266.0 262.2,268.1 261.8,268.1 261.5,270.5 261.1,267.9 260.7,266.5 260.4,265.5 260.0,267.2 259.7,266.1 259.3,267.0 258.9,269.4 258.6,268.6 258.2,267.2 257.8,264.6 257.5,263.9 257.1,265.2 256.8,264.2 256.4,264.0 256.0,263.9 255.7,266.0 255.3,264.2 254.9,262.5 254.6,265.4 254.2,265.1 253.9,262.6 253.5,262.1 253.1,260.8 252.8,264.9 252.4,263.9 252.0,263.6 251.7,264.5 251.3,264.7 251.0,263.0 250.6,264.7 250.2,263.1 249.9,262.5 249.5,262.5 249.1,265.0 248.8,261.9 248.4,262.2 248.1,265.9 247.7,260.7 247.3,262.1 247.0,263.1 246.6,264.9 246.2,260.7 245.9,261.3 245.5,264.9 245.2,263.1 244.8,262.9 244.4,261.7 244.1,263.8 243.7,262.0 243.3,260.8 243.0,264.4 242.6,265.2 242.3,263.8 241.9,262.8 241.5,263.7 241.2,262.7 240.8,265.3 240.4,263.2 240.1,264.9 239.7,261.1 239.4,264.0 239.0,264.3 238.6,264.0 238.3,261.1 237.9,262.6 237.5,261.3 237.2,262.5 236.8,261.9 236.5,260.7 236.1,263.3 235.7,261.0 235.4,263.3 235.0,262.3 234.6,262.2 234.3,263.1 233.9,261.8 233.6,263.0 233.2,265.7 232.8,262.8 232.5,264.4 232.1,264.5 231.7,262.8 231.4,263.6 231.0,262.0 230.7,260.0 230.3,261.5 229.9,255.6 229.6,258.0 229.2,258.3 228.8,256.9 228.5,256.0 228.1,255.2 227.8,258.2 227.4,258.6 227.0,263.4 226.7,265.3 226.3,267.1 225.9,268.0 225.6,266.3 225.2,267.4 224.9,265.6 224.5,269.1 224.1,265.7 223.8,267.6 223.4,268.7 223.0,269.2 222.7,270.4 222.3,269.7 222.0,269.2 221.6,270.7 221.2,273.6 220.9,272.3 220.5,269.1 220.1,271.3 219.8,271.7 219.4,269.3 219.1,268.3 218.7,270.9 218.3,267.1 218.0,268.9 217.6,270.0 217.2,270.9 216.9,268.4 216.5,270.4 216.2,270.3 215.8,271.1 215.4,269.7 215.1,271.8 214.7,270.5 214.3,271.3 214.0,271.6 213.6,270.8 213.3,271.5 212.9,271.0 212.5,270.8 212.2,271.8 211.8,272.6 211.4,271.7 211.1,272.8 210.7,269.5 210.4,274.1 210.0,275.0 209.6,272.9 209.3,272.3 208.9,272.1 208.5,270.6 208.2,273.5 207.8,274.1 207.5,271.4 207.1,271.1 206.7,271.7 206.4,270.7 206.0,273.2 205.6,270.2 205.3,272.2 204.9,270.4 204.6,268.6 204.2,272.2 203.8,271.0 203.5,272.1 203.1,270.5 202.7,272.1 202.4,273.5 202.0,272.2 201.7,273.0 201.3,267.2 200.9,271.5 200.6,270.2 200.2,270.5 199.8,269.8 199.5,269.0 199.1,273.4 198.8,271.1 198.4,268.7 198.0,270.9 197.7,271.1 197.3,268.8 196.9,270.2 196.6,269.9 196.2,269.0 195.9,267.8 195.5,269.4 195.1,266.9 194.8,267.0 194.4,268.2 194.0,266.9 193.7,266.1 193.3,268.7 193.0,270.3 192.6,265.6 192.2,268.2 191.9,266.9 191.5,267.9 191.1,268.9 190.8,268.2 190.4,269.2 190.1,270.4 189.7,268.6 189.3,269.1 189.0,270.0 188.6,267.3 188.2,269.0 187.9,269.1 187.5,270.8 187.2,267.8 186.8,270.5 186.4,268.5 186.1,268.0 185.7,270.0 185.3,268.9 185.0,268.4 184.6,266.2 184.3,268.8 183.9,269.4 183.5,270.1 183.2,269.7 182.8,271.2 182.4,268.0 182.1,267.9 181.7,270.7 181.4,271.4 181.0,267.9 180.6,266.3 180.3,270.3 179.9,266.0 179.5,270.2 179.2,268.6 178.8,271.4 178.5,269.5 178.1,272.3 177.7,269.9 177.4,269.2 177.0,268.3 176.6,270.3 176.3,269.0 175.9,269.2 175.6,267.9 175.2,268.9 174.8,269.5 174.5,266.2 174.1,268.6 173.7,269.8 173.4,267.6 173.0,270.3 172.7,268.2 172.3,269.8 171.9,269.2 171.6,269.1 171.2,269.1" fill="#f9d3d6"/>
<polyline points="171.2,267.6 171.6,267.5 171.9,267.4 172.3,268.3 172.7,266.6 173.0,269.0 173.4,266.4 173.7,267.9 174.1,266.2 174.5,264.7 174.8,266.0 175.2,266.5 175.6,265.6 175.9,266.9 176.3,267.5 176.6,267.9 177.0,266.0 177.4,267.5 177.7,267.9 178.1,270.1 178.5,267.8 178.8,270.0 179.2,267.4 179.5,268.9 179.9,264.5 180.3,268.7 180.6,265.0 181.0,265.7 181.4,269.2 181.7,267.7 182.1,265.9 182.4,266.5 182.8,269.9 183.2,268.3 183.5,268.7 183.9,268.2 184.3,267.5 184.6,264.3 185.0,266.7 185.3,267.4 185.7,267.8 186.1,266.8 186.4,266.9 186.8,269.0 187.2,266.0 187.5,269.1 187.9,267.8 188.2,266.9 188.6,265.5 189.0,268.3 189.3,267.8 189.7,266.7 190.1,267.6 190.4,266.9 190.8,266.7 191.1,267.3 191.5,266.3 191.9,265.4 192.2,266.2 192.6,264.0 193.0,268.3 193.3,267.1 193.7,264.2 194.0,265.6 194.4,266.9 194.8,265.6 195.1,264.8 195.5,267.2 195.9,266.1 196.2,267.9 196.6,268.4 196.9,268.7 197.3,267.3 197.7,269.9 198.0,268.7 198.4,267.3 198.8,269.7 199.1,270.2 199.5,267.7 199.8,268.5 200.2,268.7 200.6,268.4 200.9,269.9 201.3,265.3 201.7,270.5 202.0,270.2 202.4,271.8 202.7,270.8 203.1,268.5 203.5,270.4 203.8,269.5 204.2,270.7 204.6,267.4 204.9,269.1 205.3,270.6 205.6,268.1 206.0,269.8 206.4,268.9 206.7,269.8 207.1,269.9 207.5,270.1 207.8,271.3 208.2,272.1 208.5,269.2 208.9,270.9 209.3,270.7 209.6,271.7 210.0,273.4 210.4,272.1 210.7,268.3 211.1,270.6 211.4,269.8 211.8,271.0 212.2,269.7 212.5,269.4 212.9,269.1 213.3,268.8 213.6,269.5 214.0,269.6 214.3,269.2 214.7,269.0 215.1,269.8 215.4,267.5 215.8,269.2 216.2,268.8 216.5,269.2 216.9,266.3 217.2,268.2 217.6,268.5 218.0,267.5 218.3,265.6 218.7,268.1 219.1,265.5 219.4,267.8 219.8,270.3 220.1,269.2 220.5,267.1 220.9,270.7 221.2,271.4 221.6,269.1 222.0,267.7 222.3,267.6 222.7,268.8 223.0,267.6 223.4,267.0 223.8,265.6 224.1,264.2 224.5,266.6 224.9,264.3 225.2,265.9 225.6,264.3 225.9,265.8 226.3,265.1 226.7,262.2 227.0,261.3 227.4,256.5 227.8,255.7 228.1,252.4 228.5,253.4 228.8,254.6 229.2,255.2 229.6,255.1 229.9,253.4 230.3,259.3 230.7,258.0 231.0,259.3 231.4,261.0 231.7,260.1 232.1,262.1 232.5,261.4 232.8,259.7 233.2,263.6 233.6,260.4 233.9,259.6 234.3,261.1 234.6,259.3 235.0,259.6 235.4,260.6 235.7,258.5 236.1,261.2 236.5,258.3 236.8,259.1 237.2,259.9 237.5,259.0 237.9,259.6 238.3,258.6 238.6,262.0 239.0,260.8 239.4,261.4 239.7,259.1 240.1,262.6 240.4,259.9 240.8,263.4 241.2,260.6 241.5,261.0 241.9,260.2 242.3,261.4 242.6,262.9 243.0,262.3 243.3,258.7 243.7,259.9 244.1,261.2 244.4,258.8 244.8,260.9 245.2,261.0 245.5,261.9 245.9,259.2 246.2,258.6 246.6,262.4 247.0,260.9 247.3,259.9 247.7,258.3 248.1,263.7 248.4,260.3 248.8,259.6 249.1,262.2 249.5,260.0 249.9,260.4 250.2,259.9 250.6,261.7 251.0,260.8 251.3,262.3 251.7,260.9 252.0,261.2 252.4,261.6 252.8,262.7 253.1,258.8 253.5,259.6 253.9,260.3 254.2,262.6 254.6,262.7 254.9,260.4 255.3,261.6 255.7,263.4 256.0,261.9 256.4,261.5 256.8,261.9 257.1,263.1 257.5,260.9 257.8,262.4 258.2,264.2 258.6,266.6 258.9,265.7 259.3,265.0 259.7,263.7 260.0,264.9 260.4,262.8 260.7,263.8 261.1,264.9 261.5,267.5 261.8,265.4 262.2,265.6 262.6,263.7 262.9,262.8 263.3,261.3 263.6,262.8 264.0,264.1 264.4,259.7 264.7,262.3 265.1,263.3 265.5,263.7 265.8,265.5 266.2,263.5 266.5,264.2 266.9,262.9 267.3,263.4 267.6,263.4 268.0,262.6 268.4,264.1 268.7,264.0 269.1,263.3 269.4,264.6 269.8,263.0 270.2,263.0 270.5,261.5 270.9,262.2 271.3,264.7 271.6,262.5 272.0,261.2 272.3,265.8 272.7,264.8 273.1,264.1 273.4,265.9 273.8,265.0 274.2,264.4 274.5,266.3 274.9,264.6 275.2,264.9 275.6,267.4 276.0,266.1 276.3,264.9 276.7,266.5 277.1,265.5 277.4,265.0 277.8,265.8 278.1,264.0 278.5,264.5 278.9,266.0 279.2,264.0 279.6,263.3" fill="none" stroke="#ef8c93" stroke-width="0.7" stroke-linejoin="round"/>
<polygon points="300.2,259.6 300.6,258.1 300.9,261.5 301.3,265.2 301.7,265.8 302.0,266.9 302.4,263.8 302.7,261.1 303.1,263.4 303.5,262.2 303.8,261.3 304.2,259.3 304.6,264.0 304.9,257.4 305.3,259.0 305.6,265.7 306.0,259.7 306.4,263.4 306.7,262.0 307.1,259.3 307.5,265.8 307.8,265.4 308.2,265.0 308.5,263.1 308.9,263.3 309.3,263.8 309.6,263.3 310.0,264.6 310.4,264.0 310.7,264.9 311.1,263.5 311.4,263.4 311.8,264.4 312.2,259.7 312.5,266.2 312.9,263.1 313.3,265.9 313.6,264.2 314.0,262.7 314.3,260.3 314.7,259.8 315.1,263.2 315.4,256.1 315.8,260.4 316.2,263.7 316.5,264.1 316.9,256.4 317.2,257.0 317.6,258.2 318.0,257.7 318.3,256.7 318.7,258.5 319.1,258.4 319.4,257.2 319.8,255.2 320.1,257.0 320.5,260.6 320.9,257.3 321.2,263.5 321.6,262.8 322.0,259.7 322.3,263.2 322.7,262.3 323.0,260.5 323.4,260.1 323.8,261.4 324.1,264.5 324.5,260.0 324.9,264.4 325.2,265.2 325.6,258.0 325.9,260.6 326.3,263.4 326.7,264.4 327.0,265.4 327.4,263.8 327.8,265.7 328.1,265.8 328.5,264.9 328.8,264.4 329.2,264.4 329.6,264.9 329.9,263.4 330.3,266.2 330.7,264.0 331.0,263.8 331.4,264.8 331.7,260.4 332.1,263.8 332.5,264.8 332.8,262.7 333.2,264.8 333.6,261.7 333.9,259.8 334.3,260.8 334.6,262.1 335.0,259.9 335.4,258.0 335.7,262.3 336.1,258.8 336.5,260.2 336.8,266.0 337.2,262.0 337.5,262.6 337.9,261.1 338.3,259.9 338.6,262.0 339.0,262.3 339.4,259.2 339.7,259.9 340.1,256.7 340.4,262.2 340.8,254.8 341.2,258.8 341.5,257.2 341.9,256.9 342.3,256.2 342.6,254.4 343.0,255.6 343.3,258.2 343.7,255.2 344.1,251.6 344.4,257.8 344.8,256.8 345.2,250.5 345.5,251.6 345.9,252.6 346.2,256.4 346.6,256.3 347.0,255.0 347.3,254.4 347.7,257.8 348.1,260.4 348.4,259.2 348.8,258.8 349.1,254.0 349.5,258.6 349.9,258.2 350.2,259.0 350.6,260.4 351.0,259.7 351.3,261.6 351.7,260.6 352.0,255.6 352.4,259.2 352.8,258.9 353.1,258.6 353.5,259.6 353.9,259.4 354.2,258.1 354.6,253.8 354.9,252.2 355.3,252.3 355.7,246.6 356.0,240.8 356.4,232.6 356.8,220.0 357.1,222.4 357.5,209.7 357.8,202.0 358.2,205.3 358.6,199.1 358.9,192.9 359.3,195.0 359.7,199.1 360.0,195.5 360.4,199.1 360.7,192.4 361.1,197.5 361.5,197.5 361.8,195.1 362.2,212.3 362.6,210.7 362.9,217.1 363.3,200.2 363.6,220.5 364.0,213.7 364.4,210.7 364.7,221.8 365.1,215.9 365.5,214.7 365.8,213.4 366.2,227.1 366.5,215.0 366.9,215.2 367.3,220.2 367.6,222.5 368.0,212.8 368.4,223.7 368.7,226.1 369.1,224.4 369.4,216.9 369.8,223.5 370.2,223.7 370.5,228.6 370.9,219.8 371.3,231.0 371.6,228.0 372.0,227.1 372.3,225.2 372.7,219.5 373.1,227.8 373.4,224.6 373.8,217.7 374.2,216.5 374.5,235.2 374.9,236.6 375.2,227.3 375.6,232.4 376.0,228.2 376.3,230.8 376.7,222.8 377.1,223.4 377.4,235.1 377.8,228.3 378.1,230.4 378.5,234.2 378.9,228.9 379.2,232.3 379.6,226.6 380.0,218.5 380.3,221.5 380.7,226.2 381.0,231.7 381.4,229.3 381.8,225.2 382.1,234.3 382.5,230.8 382.9,228.1 383.2,231.8 383.6,219.6 383.9,232.9 384.3,235.7 384.7,234.3 385.0,232.5 385.4,241.4 385.8,243.8 386.1,238.7 386.5,234.3 386.8,239.1 387.2,241.4 387.6,238.7 387.9,239.1 388.3,239.1 388.7,243.5 389.0,241.0 389.4,237.4 389.7,239.6 390.1,243.4 390.5,239.6 390.8,235.2 391.2,234.9 391.6,247.6 391.9,235.4 392.3,242.1 392.6,237.4 393.0,234.1 393.4,243.9 393.7,241.5 394.1,231.6 394.5,230.7 394.8,238.5 395.2,247.3 395.5,243.2 395.9,236.5 396.3,232.6 396.6,236.8 397.0,235.9 397.4,236.5 397.7,241.2 398.1,243.5 398.4,241.4 398.8,238.9 399.2,236.2 399.5,239.0 399.9,246.9 400.3,246.3 400.6,247.6 401.0,237.3 401.3,234.2 401.7,240.0 402.1,231.0 402.4,244.0 402.8,244.1 403.2,246.8 403.5,236.3 403.9,242.0 404.2,242.6 404.6,240.6 405.0,242.9 405.3,248.1 405.7,241.4 406.1,244.5 406.4,247.2 406.8,242.8 407.1,247.2 407.5,248.1 407.9,238.2 408.2,241.1 408.6,245.2 408.6,270.5 408.2,266.4 407.9,257.8 407.5,267.8 407.1,268.3 406.8,266.7 406.4,270.4 406.1,267.9 405.7,266.9 405.3,269.7 405.0,267.8 404.6,260.2 404.2,264.5 403.9,264.3 403.5,260.2 403.2,270.2 402.8,265.5 402.4,267.1 402.1,254.7 401.7,260.8 401.3,257.1 401.0,259.1 400.6,266.2 400.3,265.8 399.9,269.4 399.5,264.5 399.2,258.9 398.8,261.5 398.4,265.6 398.1,264.4 397.7,261.6 397.4,262.6 397.0,264.4 396.6,261.2 396.3,257.1 395.9,258.5 395.5,263.1 395.2,269.0 394.8,264.8 394.5,257.7 394.1,259.2 393.7,263.4 393.4,266.7 393.0,256.6 392.6,258.8 392.3,262.8 391.9,259.9 391.6,268.9 391.2,261.5 390.8,260.7 390.5,261.8 390.1,271.9 389.7,261.1 389.4,256.5 389.0,261.2 388.7,266.8 388.3,263.1 387.9,260.1 387.6,262.3 387.2,261.8 386.8,262.0 386.5,256.9 386.1,262.4 385.8,270.8 385.4,263.9 385.0,255.4 384.7,252.9 384.3,257.0 383.9,253.7 383.6,246.2 383.2,255.3 382.9,254.1 382.5,255.2 382.1,255.6 381.8,246.3 381.4,258.4 381.0,254.8 380.7,246.4 380.3,246.0 380.0,240.0 379.6,254.3 379.2,253.1 378.9,247.9 378.5,258.4 378.1,252.8 377.8,249.3 377.4,254.7 377.1,244.3 376.7,247.0 376.3,250.7 376.0,253.1 375.6,251.8 375.2,245.8 374.9,257.2 374.5,253.8 374.2,243.7 373.8,240.8 373.4,247.8 373.1,249.4 372.7,244.7 372.3,246.9 372.0,249.1 371.6,250.4 371.3,253.0 370.9,245.2 370.5,248.2 370.2,248.9 369.8,253.7 369.4,243.5 369.1,250.2 368.7,247.0 368.4,244.3 368.0,240.6 367.6,241.9 367.3,240.3 366.9,242.8 366.5,240.4 366.2,249.5 365.8,237.9 365.5,238.5 365.1,240.0 364.7,245.5 364.4,229.7 364.0,234.1 363.6,242.8 363.3,226.4 362.9,238.1 362.6,239.8 362.2,234.0 361.8,216.0 361.5,220.2 361.1,222.6 360.7,220.7 360.4,219.0 360.0,221.3 359.7,221.9 359.3,217.9 358.9,212.3 358.6,220.9 358.2,228.6 357.8,231.0 357.5,231.8 357.1,246.6 356.8,242.4 356.4,250.8 356.0,259.2 355.7,264.9 355.3,271.2 354.9,271.0 354.6,272.4 354.2,264.9 353.9,265.4 353.5,266.0 353.1,265.7 352.8,265.0 352.4,265.5 352.0,263.6 351.7,269.9 351.3,268.1 351.0,266.8 350.6,267.5 350.2,265.6 349.9,266.2 349.5,264.9 349.1,262.3 348.8,266.7 348.4,265.0 348.1,267.3 347.7,265.5 347.3,263.3 347.0,263.6 346.6,263.1 346.2,262.9 345.9,259.1 345.5,259.3 345.2,258.8 344.8,264.4 344.4,265.0 344.1,260.9 343.7,263.7 343.3,266.6 343.0,261.8 342.6,262.9 342.3,263.6 341.9,264.7 341.5,265.4 341.2,266.4 340.8,261.4 340.4,269.3 340.1,264.3 339.7,267.0 339.4,266.7 339.0,269.7 338.6,268.6 338.3,266.2 337.9,269.1 337.5,268.7 337.2,269.8 336.8,273.2 336.5,266.7 336.1,267.6 335.7,269.4 335.4,264.8 335.0,270.5 334.6,271.2 334.3,267.7 333.9,267.5 333.6,267.9 333.2,271.7 332.8,271.1 332.5,272.3 332.1,270.0 331.7,267.8 331.4,271.0 331.0,271.0 330.7,271.2 330.3,273.2 329.9,270.5 329.6,272.5 329.2,271.8 328.8,271.3 328.5,272.5 328.1,272.9 327.8,273.3 327.4,270.3 327.0,271.6 326.7,274.4 326.3,271.1 325.9,268.4 325.6,265.3 325.2,272.4 324.9,274.2 324.5,268.5 324.1,271.3 323.8,268.2 323.4,268.0 323.0,270.4 322.7,269.7 322.3,270.5 322.0,267.0 321.6,271.8 321.2,270.2 320.9,266.0 320.5,267.0 320.1,264.3 319.8,262.0 319.4,264.0 319.1,265.4 318.7,265.8 318.3,263.8 318.0,264.0 317.6,265.8 317.2,263.2 316.9,264.1 316.5,271.3 316.2,270.5 315.8,267.5 315.4,262.7 315.1,271.0 314.7,266.9 314.3,269.4 314.0,270.3 313.6,271.8 313.3,272.5 312.9,269.7 312.5,272.6 312.2,268.8 311.8,272.7 311.4,271.3 311.1,271.3 310.7,273.0 310.4,272.2 310.0,272.7 309.6,273.1 309.3,270.5 308.9,270.9 308.5,272.0 308.2,271.8 307.8,273.1 307.5,273.4 307.1,268.0 306.7,269.4 306.4,272.3 306.0,266.8 305.6,273.8 305.3,268.8 304.9,265.4 304.6,272.1 304.2,265.7 303.8,268.7 303.5,269.7 303.1,270.6 302.7,269.0 302.4,271.0 302.0,274.0 301.7,272.9 301.3,273.0 300.9,268.8 300.6,265.2 300.2,270.3" fill="#c93443"/>
<polyline points="300.2,265.1 300.6,261.3 300.9,264.5 301.3,268.5 301.7,268.8 302.0,270.2 302.4,267.9 302.7,265.1 303.1,266.4 303.5,266.5 303.8,264.8 304.2,262.5 304.6,267.6 304.9,262.4 305.3,263.3 305.6,269.3 306.0,262.7 306.4,268.3 306.7,265.7 307.1,263.4 307.5,269.2 307.8,270.0 308.2,268.5 308.5,268.3 308.9,266.5 309.3,267.5 309.6,267.9 310.0,268.5 310.4,268.4 310.7,270.0 311.1,267.6 311.4,267.6 311.8,269.1 312.2,263.4 312.5,269.6 312.9,266.2 313.3,269.6 313.6,267.5 314.0,266.9 314.3,265.4 314.7,263.4 315.1,267.0 315.4,259.5 315.8,264.4 316.2,266.8 316.5,267.5 316.9,259.5 317.2,260.1 317.6,262.7 318.0,260.9 318.3,259.6 318.7,261.6 319.1,261.8 319.4,260.7 319.8,258.8 320.1,260.6 320.5,263.8 320.9,261.1 321.2,267.3 321.6,266.7 322.0,263.7 322.3,266.1 322.7,266.3 323.0,266.2 323.4,263.8 323.8,265.1 324.1,268.1 324.5,263.4 324.9,269.8 325.2,268.2 325.6,261.9 325.9,264.0 326.3,268.1 326.7,268.2 327.0,268.5 327.4,266.8 327.8,269.8 328.1,269.5 328.5,268.7 328.8,267.4 329.2,267.5 329.6,269.2 329.9,266.9 330.3,269.9 330.7,267.3 331.0,267.7 331.4,267.9 331.7,263.5 332.1,266.7 332.5,268.1 332.8,266.0 333.2,267.8 333.6,264.6 333.9,264.2 334.3,263.8 334.6,267.4 335.0,265.3 335.4,261.2 335.7,265.5 336.1,263.3 336.5,263.7 336.8,270.1 337.2,265.2 337.5,265.8 337.9,265.2 338.3,263.3 338.6,265.2 339.0,265.2 339.4,263.1 339.7,263.8 340.1,261.2 340.4,265.5 340.8,258.0 341.2,262.5 341.5,260.4 341.9,260.4 342.3,260.1 342.6,259.4 343.0,258.9 343.3,261.9 343.7,259.7 344.1,256.6 344.4,261.1 344.8,261.0 345.2,254.6 345.5,256.3 345.9,255.9 346.2,259.6 346.6,259.6 347.0,259.1 347.3,259.9 347.7,261.1 348.1,263.6 348.4,262.0 348.8,263.4 349.1,257.5 349.5,261.7 349.9,262.1 350.2,262.2 350.6,263.6 351.0,263.0 351.3,265.1 351.7,266.2 352.0,259.1 352.4,262.4 352.8,262.0 353.1,262.7 353.5,262.9 353.9,262.6 354.2,261.9 354.6,263.1 354.9,261.5 355.3,261.5 355.7,255.7 356.0,250.1 356.4,241.7 356.8,230.2 357.1,233.3 357.5,221.1 357.8,216.5 358.2,217.1 358.6,210.1 358.9,202.4 359.3,206.9 359.7,211.2 360.0,211.2 360.4,209.0 360.7,205.8 361.1,209.0 361.5,209.7 361.8,205.4 362.2,221.9 362.6,221.8 362.9,228.8 363.3,214.8 363.6,233.3 364.0,223.0 364.4,220.3 364.7,233.1 365.1,230.6 365.5,229.2 365.8,224.3 366.2,236.6 366.5,227.6 366.9,226.7 367.3,230.8 367.6,232.0 368.0,227.3 368.4,233.4 368.7,235.2 369.1,237.3 369.4,232.7 369.8,238.5 370.2,234.7 370.5,238.8 370.9,233.8 371.3,243.5 371.6,238.5 372.0,236.8 372.3,236.6 372.7,233.1 373.1,237.1 373.4,234.3 373.8,228.6 374.2,234.3 374.5,244.5 374.9,246.9 375.2,236.3 375.6,242.0 376.0,238.2 376.3,240.1 376.7,232.0 377.1,232.8 377.4,245.6 377.8,238.9 378.1,242.5 378.5,248.4 378.9,238.5 379.2,242.7 379.6,239.6 380.0,228.8 380.3,234.7 380.7,235.7 381.0,243.5 381.4,247.6 381.8,235.3 382.1,243.7 382.5,241.7 382.9,243.5 383.2,240.8 383.6,229.0 383.9,244.0 384.3,244.9 384.7,243.4 385.0,243.9 385.4,252.1 385.8,255.3 386.1,249.2 386.5,247.6 386.8,251.2 387.2,252.8 387.6,252.8 387.9,250.2 388.3,248.9 388.7,256.8 389.0,251.1 389.4,246.5 389.7,249.3 390.1,256.0 390.5,250.8 390.8,249.1 391.2,245.0 391.6,257.6 391.9,245.8 392.3,252.0 392.6,248.5 393.0,246.0 393.4,254.0 393.7,253.6 394.1,249.9 394.5,245.4 394.8,252.0 395.2,256.5 395.5,252.6 395.9,246.9 396.3,242.9 396.6,251.8 397.0,251.1 397.4,250.6 397.7,250.4 398.1,254.7 398.4,251.9 398.8,248.4 399.2,249.2 399.5,250.5 399.9,256.9 400.3,255.4 400.6,256.9 401.0,247.8 401.3,245.5 401.7,250.9 402.1,244.1 402.4,253.8 402.8,253.7 403.2,258.9 403.5,251.0 403.9,254.7 404.2,251.9 404.6,250.1 405.0,254.4 405.3,259.7 405.7,255.1 406.1,256.4 406.4,256.9 406.8,254.1 407.1,258.7 407.5,258.7 407.9,248.0 408.2,251.2 408.6,257.4" fill="none" stroke="#b51f30" stroke-width="0.8" stroke-linejoin="round"/>
<rect x="94.40" y="290.00" width="27.00" height="3.20" fill="#8c8c8c"/>
<rect x="225.40" y="290.00" width="27.00" height="3.20" fill="#f2c4bc"/>
<rect x="354.40" y="290.00" width="27.00" height="3.20" fill="#c1272d"/>
<text x="108.00" y="281.00" font-size="7.3" fill="#231f20" stroke="#231f20" stroke-width="0.12" text-anchor="middle">AUC</text>
<text x="108.00" y="288.30" font-size="7.3" fill="#231f20" stroke="#231f20" stroke-width="0.12" text-anchor="middle">window</text>
<polygon points="106.60,201.91 113.70,214.41 110.92,215.99 103.82,203.49" fill="#d4d4d4" stroke="#c0c0c0" stroke-width="0.3"/>
<polygon points="102.13,195.85 106.83,202.11 103.88,203.79 100.91,196.55" fill="#ec2a32"/>
<line x1="112.31" y1="215.20" x2="114.30" y2="218.70" stroke="#b4b4b4" stroke-width="0.8"/>
<line x1="114.25" y1="214.76" x2="110.94" y2="216.64" stroke="#b4b4b4" stroke-width="0.7"/>
<line x1="115.69" y1="217.91" x2="112.91" y2="219.49" stroke="#b4b4b4" stroke-width="0.7"/>
<circle cx="100.10" cy="193.70" r="1.9" fill="#e0406a" stroke="#c82848" stroke-width="0.4"/>
<text x="9.60" y="357.60" font-size="11.5" fill="#231f20" font-weight="bold">h</text>
<rect x="39.20" y="353.80" width="7.00" height="6.80" fill="#fff" stroke="#999" stroke-width="0.7"/>
<text x="50.40" y="360.20" font-size="8.7" fill="#231f20" stroke="#231f20" stroke-width="0.12">Baseline</text>
<rect x="173.00" y="353.60" width="7.00" height="7.00" fill="#f3d4d7"/>
<text x="182.40" y="360.20" font-size="8.7" fill="#231f20" stroke="#231f20" stroke-width="0.12">Acute fentanyl</text>
<rect x="293.00" y="353.60" width="7.00" height="6.80" fill="#c1272d"/>
<text x="305.00" y="359.20" font-size="8.7" fill="#231f20" stroke="#231f20" stroke-width="0.12">Fentanyl-drinking</text>
<text x="305.00" y="369.80" font-size="8.7" fill="#231f20" stroke="#231f20" stroke-width="0.12">/ Naloxone</text>
<line x1="40.50" y1="374.00" x2="40.50" y2="466.60" stroke="#231f20" stroke-width="1.0"/>
<line x1="35.50" y1="466.50" x2="40.00" y2="466.50" stroke="#231f20" stroke-width="1.0"/>
<text x="31.70" y="469.50" font-size="8.3" fill="#231f20" stroke="#231f20" stroke-width="0.12" text-anchor="end">-2</text>
<line x1="35.50" y1="448.50" x2="40.00" y2="448.50" stroke="#231f20" stroke-width="1.0"/>
<text x="31.70" y="451.00" font-size="8.3" fill="#231f20" stroke="#231f20" stroke-width="0.12" text-anchor="end">0</text>
<line x1="35.50" y1="429.50" x2="40.00" y2="429.50" stroke="#231f20" stroke-width="1.0"/>
<text x="31.70" y="432.50" font-size="8.3" fill="#231f20" stroke="#231f20" stroke-width="0.12" text-anchor="end">2</text>
<line x1="35.50" y1="411.50" x2="40.00" y2="411.50" stroke="#231f20" stroke-width="1.0"/>
<text x="31.70" y="414.00" font-size="8.3" fill="#231f20" stroke="#231f20" stroke-width="0.12" text-anchor="end">4</text>
<line x1="35.50" y1="392.50" x2="40.00" y2="392.50" stroke="#231f20" stroke-width="1.0"/>
<text x="31.70" y="395.50" font-size="8.3" fill="#231f20" stroke="#231f20" stroke-width="0.12" text-anchor="end">6</text>
<line x1="35.50" y1="374.50" x2="40.00" y2="374.50" stroke="#231f20" stroke-width="1.0"/>
<text x="31.70" y="377.00" font-size="8.3" fill="#231f20" stroke="#231f20" stroke-width="0.12" text-anchor="end">8</text>
<line x1="47.40" y1="476.50" x2="155.80" y2="476.50" stroke="#231f20" stroke-width="1.0"/>
<line x1="47.50" y1="476.70" x2="47.50" y2="480.50" stroke="#231f20" stroke-width="1.0"/>
<text x="47.51" y="490.60" font-size="8.3" fill="#231f20" stroke="#231f20" stroke-width="0.12" text-anchor="end">-10</text>
<line x1="74.50" y1="476.70" x2="74.50" y2="480.50" stroke="#231f20" stroke-width="1.0"/>
<text x="72.31" y="490.60" font-size="8.3" fill="#231f20" stroke="#231f20" stroke-width="0.12" text-anchor="end">-5</text>
<line x1="101.50" y1="476.70" x2="101.50" y2="480.50" stroke="#231f20" stroke-width="1.0"/>
<text x="97.10" y="490.60" font-size="8.3" fill="#231f20" stroke="#231f20" stroke-width="0.12" text-anchor="middle">0</text>
<line x1="128.50" y1="476.70" x2="128.50" y2="480.50" stroke="#231f20" stroke-width="1.0"/>
<text x="124.20" y="490.60" font-size="8.3" fill="#231f20" stroke="#231f20" stroke-width="0.12" text-anchor="middle">5</text>
<line x1="155.50" y1="476.70" x2="155.50" y2="480.50" stroke="#231f20" stroke-width="1.0"/>
<text x="151.30" y="490.60" font-size="8.3" fill="#231f20" stroke="#231f20" stroke-width="0.12" text-anchor="middle">10</text>
<line x1="174.20" y1="476.50" x2="282.60" y2="476.50" stroke="#231f20" stroke-width="1.0"/>
<line x1="174.50" y1="476.70" x2="174.50" y2="480.50" stroke="#231f20" stroke-width="1.0"/>
<text x="178.81" y="490.60" font-size="8.3" fill="#231f20" stroke="#231f20" stroke-width="0.12" text-anchor="end">-10</text>
<line x1="201.50" y1="476.70" x2="201.50" y2="480.50" stroke="#231f20" stroke-width="1.0"/>
<text x="203.61" y="490.60" font-size="8.3" fill="#231f20" stroke="#231f20" stroke-width="0.12" text-anchor="end">-5</text>
<line x1="228.50" y1="476.70" x2="228.50" y2="480.50" stroke="#231f20" stroke-width="1.0"/>
<text x="228.40" y="490.60" font-size="8.3" fill="#231f20" stroke="#231f20" stroke-width="0.12" text-anchor="middle">0</text>
<line x1="255.50" y1="476.70" x2="255.50" y2="480.50" stroke="#231f20" stroke-width="1.0"/>
<text x="255.50" y="490.60" font-size="8.3" fill="#231f20" stroke="#231f20" stroke-width="0.12" text-anchor="middle">5</text>
<line x1="282.50" y1="476.70" x2="282.50" y2="480.50" stroke="#231f20" stroke-width="1.0"/>
<text x="282.60" y="490.60" font-size="8.3" fill="#231f20" stroke="#231f20" stroke-width="0.12" text-anchor="middle">10</text>
<line x1="301.40" y1="476.50" x2="409.80" y2="476.50" stroke="#231f20" stroke-width="1.0"/>
<line x1="301.50" y1="476.70" x2="301.50" y2="480.50" stroke="#231f20" stroke-width="1.0"/>
<text x="307.51" y="490.60" font-size="8.3" fill="#231f20" stroke="#231f20" stroke-width="0.12" text-anchor="end">-10</text>
<line x1="328.50" y1="476.70" x2="328.50" y2="480.50" stroke="#231f20" stroke-width="1.0"/>
<text x="332.31" y="490.60" font-size="8.3" fill="#231f20" stroke="#231f20" stroke-width="0.12" text-anchor="end">-5</text>
<line x1="355.50" y1="476.70" x2="355.50" y2="480.50" stroke="#231f20" stroke-width="1.0"/>
<text x="357.10" y="490.60" font-size="8.3" fill="#231f20" stroke="#231f20" stroke-width="0.12" text-anchor="middle">0</text>
<line x1="382.50" y1="476.70" x2="382.50" y2="480.50" stroke="#231f20" stroke-width="1.0"/>
<text x="384.20" y="490.60" font-size="8.3" fill="#231f20" stroke="#231f20" stroke-width="0.12" text-anchor="middle">5</text>
<line x1="409.50" y1="476.70" x2="409.50" y2="480.50" stroke="#231f20" stroke-width="1.0"/>
<text x="411.30" y="490.60" font-size="8.3" fill="#231f20" stroke="#231f20" stroke-width="0.12" text-anchor="middle">10</text>
<text x="182.40" y="500.00" font-size="8.7" fill="#231f20" stroke="#231f20" stroke-width="0.12">Seconds from stimulus</text>
<text transform="translate(19.50,420.00) rotate(-90)" x="0" y="3.01" font-size="8.6" fill="#231f20" stroke="#231f20" stroke-width="0.12" text-anchor="middle">z-score</text>
<line x1="40.00" y1="448.50" x2="410.00" y2="448.50" stroke="#58595b" stroke-width="0.7" stroke-dasharray="2.4,2"/>
<line x1="101.50" y1="370.40" x2="101.50" y2="476.70" stroke="#333" stroke-width="0.7" stroke-dasharray="2.2,1.8"/>
<line x1="228.50" y1="370.40" x2="228.50" y2="476.70" stroke="#333" stroke-width="0.7" stroke-dasharray="2.2,1.8"/>
<line x1="355.50" y1="370.40" x2="355.50" y2="476.70" stroke="#333" stroke-width="0.7" stroke-dasharray="2.2,1.8"/>
<polygon points="47.4,445.3 47.8,448.4 48.1,444.6 48.5,448.9 48.9,448.2 49.2,447.8 49.6,445.1 49.9,448.0 50.3,444.4 50.7,446.2 51.0,447.5 51.4,438.8 51.8,446.2 52.1,441.0 52.5,443.7 52.8,443.4 53.2,444.5 53.6,451.4 53.9,448.7 54.3,447.0 54.7,452.1 55.0,448.1 55.4,452.2 55.7,450.8 56.1,447.5 56.5,448.7 56.8,450.2 57.2,449.6 57.6,447.9 57.9,446.9 58.3,448.8 58.6,445.6 59.0,448.5 59.4,446.3 59.7,446.0 60.1,444.0 60.5,448.7 60.8,447.0 61.2,446.4 61.5,446.8 61.9,446.6 62.3,454.0 62.6,454.1 63.0,444.4 63.4,443.0 63.7,439.5 64.1,439.5 64.4,442.4 64.8,443.3 65.2,446.7 65.5,440.3 65.9,446.2 66.3,443.6 66.6,444.9 67.0,444.6 67.3,442.0 67.7,446.9 68.1,445.3 68.4,445.8 68.8,444.2 69.2,440.8 69.5,445.3 69.9,443.4 70.2,444.3 70.6,444.5 71.0,445.4 71.3,449.9 71.7,446.7 72.1,442.5 72.4,447.9 72.8,446.2 73.1,448.6 73.5,444.3 73.9,450.1 74.2,442.5 74.6,447.7 75.0,449.4 75.3,439.7 75.7,442.8 76.0,444.2 76.4,445.9 76.8,448.3 77.1,448.8 77.5,445.1 77.9,444.8 78.2,443.5 78.6,445.4 78.9,448.8 79.3,446.0 79.7,443.2 80.0,442.4 80.4,447.0 80.8,444.6 81.1,440.9 81.5,442.1 81.8,442.2 82.2,447.3 82.6,446.9 82.9,446.5 83.3,446.1 83.7,450.4 84.0,443.4 84.4,444.1 84.7,445.5 85.1,448.6 85.5,446.2 85.8,441.8 86.2,450.1 86.6,443.7 86.9,441.6 87.3,448.8 87.6,445.0 88.0,448.7 88.4,444.5 88.7,445.9 89.1,446.7 89.5,441.2 89.8,442.4 90.2,441.3 90.5,448.5 90.9,445.7 91.3,441.7 91.6,441.7 92.0,442.3 92.4,442.3 92.7,448.6 93.1,444.5 93.4,449.1 93.8,444.0 94.2,446.8 94.5,446.6 94.9,442.6 95.3,440.4 95.6,447.4 96.0,447.1 96.3,443.3 96.7,446.3 97.1,441.1 97.4,445.6 97.8,447.5 98.2,445.2 98.5,442.5 98.9,446.2 99.2,445.9 99.6,446.2 100.0,450.1 100.3,445.4 100.7,441.3 101.1,442.1 101.4,444.2 101.8,425.5 102.1,417.2 102.5,404.1 102.9,404.1 103.2,395.1 103.6,391.9 104.0,393.5 104.3,392.2 104.7,393.7 105.0,392.4 105.4,393.5 105.8,395.8 106.1,396.0 106.5,406.1 106.9,407.6 107.2,405.3 107.6,405.1 107.9,401.9 108.3,404.0 108.7,405.2 109.0,410.9 109.4,406.1 109.8,406.2 110.1,408.4 110.5,412.3 110.8,410.3 111.2,409.1 111.6,419.8 111.9,411.1 112.3,409.5 112.7,412.0 113.0,412.3 113.4,411.7 113.7,416.6 114.1,411.2 114.5,414.1 114.8,414.6 115.2,415.6 115.6,410.7 115.9,421.4 116.3,420.8 116.6,421.8 117.0,409.5 117.4,415.3 117.7,415.5 118.1,418.0 118.5,415.9 118.8,420.4 119.2,412.7 119.5,413.7 119.9,421.4 120.3,419.2 120.6,418.6 121.0,415.7 121.4,416.3 121.7,413.0 122.1,409.7 122.4,413.2 122.8,409.4 123.2,420.2 123.5,418.0 123.9,411.4 124.3,417.4 124.6,419.0 125.0,423.7 125.3,427.0 125.7,416.5 126.1,420.9 126.4,423.4 126.8,424.3 127.2,428.4 127.5,421.3 127.9,419.0 128.2,417.5 128.6,421.6 129.0,423.9 129.3,424.4 129.7,416.9 130.1,417.3 130.4,424.2 130.8,422.9 131.1,420.6 131.5,427.1 131.9,433.0 132.2,424.4 132.6,424.2 133.0,430.3 133.3,427.3 133.7,438.8 134.0,424.1 134.4,427.4 134.8,423.9 135.1,430.0 135.5,431.3 135.9,428.9 136.2,429.3 136.6,428.3 136.9,429.3 137.3,428.2 137.7,425.5 138.0,434.1 138.4,429.5 138.8,433.5 139.1,437.8 139.5,441.9 139.8,432.9 140.2,437.6 140.6,438.8 140.9,434.4 141.3,440.8 141.7,436.9 142.0,435.3 142.4,434.6 142.7,434.1 143.1,442.0 143.5,437.9 143.8,442.6 144.2,440.1 144.6,444.8 144.9,440.5 145.3,448.7 145.6,443.3 146.0,438.2 146.4,442.8 146.7,436.7 147.1,446.0 147.5,443.2 147.8,443.2 148.2,443.5 148.5,444.6 148.9,442.1 149.3,440.1 149.6,442.8 150.0,436.5 150.4,430.6 150.7,441.5 151.1,435.1 151.4,434.3 151.8,434.3 152.2,427.1 152.5,429.2 152.9,433.4 153.3,432.0 153.6,438.0 154.0,428.5 154.3,433.4 154.7,427.1 155.1,430.7 155.4,428.9 155.8,426.8 155.8,444.9 155.4,448.8 155.1,450.2 154.7,450.0 154.3,454.2 154.0,448.7 153.6,460.1 153.3,452.9 152.9,455.2 152.5,453.3 152.2,446.3 151.8,454.8 151.4,456.6 151.1,453.0 150.7,462.6 150.4,454.1 150.0,455.1 149.6,464.8 149.3,461.9 148.9,464.1 148.5,466.3 148.2,464.5 147.8,463.8 147.5,463.4 147.1,466.8 146.7,456.1 146.4,463.5 146.0,460.0 145.6,462.7 145.3,468.6 144.9,462.5 144.6,463.6 144.2,467.0 143.8,462.4 143.5,457.6 143.1,464.5 142.7,458.0 142.4,454.8 142.0,458.9 141.7,458.7 141.3,462.3 140.9,453.5 140.6,458.7 140.2,457.7 139.8,453.5 139.5,460.5 139.1,456.8 138.8,455.3 138.4,453.5 138.0,456.6 137.7,444.8 137.3,448.4 136.9,447.9 136.6,451.7 136.2,448.4 135.9,447.3 135.5,450.1 135.1,450.0 134.8,449.9 134.4,445.9 134.0,443.2 133.7,457.9 133.3,449.6 133.0,450.9 132.6,444.2 132.2,446.3 131.9,454.7 131.5,448.4 131.1,446.0 130.8,442.5 130.4,447.3 130.1,436.8 129.7,437.7 129.3,446.1 129.0,443.0 128.6,442.9 128.2,439.1 127.9,439.3 127.5,442.8 127.2,446.8 126.8,443.8 126.4,445.7 126.1,439.3 125.7,438.5 125.3,445.8 125.0,448.2 124.6,437.5 124.3,435.7 123.9,433.1 123.5,438.2 123.2,439.7 122.8,430.4 122.4,434.5 122.1,432.8 121.7,432.7 121.4,436.4 121.0,435.9 120.6,436.7 120.3,437.9 119.9,441.2 119.5,433.0 119.2,436.2 118.8,440.1 118.5,437.9 118.1,438.5 117.7,434.2 117.4,435.5 117.0,431.4 116.6,440.3 116.3,440.3 115.9,440.3 115.6,431.0 115.2,438.0 114.8,438.3 114.5,436.3 114.1,432.5 113.7,437.4 113.4,431.8 113.0,432.2 112.7,431.9 112.3,431.6 111.9,430.6 111.6,442.0 111.2,430.7 110.8,430.0 110.5,431.9 110.1,433.0 109.8,425.3 109.4,425.8 109.0,429.6 108.7,424.9 108.3,425.0 107.9,421.1 107.6,425.8 107.2,428.8 106.9,440.3 106.5,435.9 106.1,424.8 105.8,428.0 105.4,424.5 105.0,422.7 104.7,424.8 104.3,421.6 104.0,426.0 103.6,422.9 103.2,423.5 102.9,435.8 102.5,435.6 102.1,448.0 101.8,455.9 101.4,453.8 101.1,452.1 100.7,450.4 100.3,458.7 100.0,460.9 99.6,456.2 99.2,455.3 98.9,454.0 98.5,452.2 98.2,455.4 97.8,459.8 97.4,454.8 97.1,449.8 96.7,455.6 96.3,450.9 96.0,459.7 95.6,456.5 95.3,450.2 94.9,454.1 94.5,457.4 94.2,456.0 93.8,453.5 93.4,459.4 93.1,454.4 92.7,457.8 92.4,451.0 92.0,453.4 91.6,450.3 91.3,450.9 90.9,457.6 90.5,458.5 90.2,450.4 89.8,453.1 89.5,452.3 89.1,456.2 88.7,454.1 88.4,454.8 88.0,458.2 87.6,454.0 87.3,459.4 86.9,453.9 86.6,454.2 86.2,458.4 85.8,450.3 85.5,456.2 85.1,457.7 84.7,454.5 84.4,454.5 84.0,451.5 83.7,461.6 83.3,454.0 82.9,456.9 82.6,454.9 82.2,458.5 81.8,451.6 81.5,453.6 81.1,451.5 80.8,454.9 80.4,456.7 80.0,451.2 79.7,451.7 79.3,457.5 78.9,458.6 78.6,455.7 78.2,454.1 77.9,453.9 77.5,455.5 77.1,459.2 76.8,457.0 76.4,455.5 76.0,453.5 75.7,451.8 75.3,451.9 75.0,459.4 74.6,456.9 74.2,453.4 73.9,461.9 73.5,454.8 73.1,457.7 72.8,456.0 72.4,460.7 72.1,451.1 71.7,455.4 71.3,458.2 71.0,454.2 70.6,454.3 70.2,453.3 69.9,454.8 69.5,456.0 69.2,450.5 68.8,456.0 68.4,457.5 68.1,454.9 67.7,457.0 67.3,450.9 67.0,453.4 66.6,453.1 66.3,452.9 65.9,454.9 65.5,450.8 65.2,457.9 64.8,456.3 64.4,452.3 64.1,449.7 63.7,448.3 63.4,452.7 63.0,453.7 62.6,462.4 62.3,464.3 61.9,456.0 61.5,457.5 61.2,454.8 60.8,457.4 60.5,458.6 60.1,456.4 59.7,455.8 59.4,455.9 59.0,459.0 58.6,458.3 58.3,457.1 57.9,457.1 57.6,457.0 57.2,459.3 56.8,458.2 56.5,456.6 56.1,456.5 55.7,464.1 55.4,462.2 55.0,460.0 54.7,460.6 54.3,458.8 53.9,458.5 53.6,460.1 53.2,455.3 52.8,453.6 52.5,453.4 52.1,451.9 51.8,456.3 51.4,450.0 51.0,459.2 50.7,460.5 50.3,454.4 49.9,456.8 49.6,456.4 49.2,458.4 48.9,459.9 48.5,460.4 48.1,456.4 47.8,458.5 47.4,454.2" fill="#e0e0e0"/>
<polyline points="47.4,450.2 47.8,454.4 48.1,451.6 48.5,453.8 48.9,453.9 49.2,454.1 49.6,452.2 49.9,452.8 50.3,449.1 50.7,454.8 51.0,451.4 51.4,445.6 51.8,450.9 52.1,447.9 52.5,448.5 52.8,448.3 53.2,450.1 53.6,456.1 53.9,453.0 54.3,453.2 54.7,456.5 55.0,453.6 55.4,456.0 55.7,457.3 56.1,452.0 56.5,452.5 56.8,454.0 57.2,454.4 57.6,453.1 57.9,452.7 58.3,452.8 58.6,452.1 59.0,453.4 59.4,451.2 59.7,450.8 60.1,451.0 60.5,453.6 60.8,453.3 61.2,450.2 61.5,451.8 61.9,451.2 62.3,457.8 62.6,457.9 63.0,448.7 63.4,447.9 63.7,444.2 64.1,445.7 64.4,447.0 64.8,447.8 65.2,452.3 65.5,446.3 65.9,450.9 66.3,448.0 66.6,448.9 67.0,448.8 67.3,447.1 67.7,451.1 68.1,450.9 68.4,452.3 68.8,451.1 69.2,445.7 69.5,451.8 69.9,447.8 70.2,449.0 70.6,449.5 71.0,449.4 71.3,454.5 71.7,450.6 72.1,447.2 72.4,453.6 72.8,451.9 73.1,453.8 73.5,450.9 73.9,454.6 74.2,446.9 74.6,452.1 75.0,455.1 75.3,445.6 75.7,448.0 76.0,449.5 76.4,449.9 76.8,452.7 77.1,452.5 77.5,449.9 77.9,449.3 78.2,449.1 78.6,450.9 78.9,452.7 79.3,451.8 79.7,447.9 80.0,446.5 80.4,451.1 80.8,451.1 81.1,445.9 81.5,447.3 81.8,447.4 82.2,453.2 82.6,450.9 82.9,451.6 83.3,450.0 83.7,455.6 84.0,447.6 84.4,450.4 84.7,449.8 85.1,454.0 85.5,450.3 85.8,446.2 86.2,454.2 86.6,449.2 86.9,448.6 87.3,453.0 87.6,449.2 88.0,452.7 88.4,448.4 88.7,450.1 89.1,450.5 89.5,445.1 89.8,447.9 90.2,446.1 90.5,452.7 90.9,450.8 91.3,446.3 91.6,446.1 92.0,448.9 92.4,446.9 92.7,452.5 93.1,449.3 93.4,453.3 93.8,449.2 94.2,451.4 94.5,451.7 94.9,449.6 95.3,444.5 95.6,452.5 96.0,451.5 96.3,447.1 96.7,451.7 97.1,446.0 97.4,450.8 97.8,451.5 98.2,450.9 98.5,447.0 98.9,450.0 99.2,450.2 99.6,450.8 100.0,455.6 100.3,453.5 100.7,446.5 101.1,448.1 101.4,448.7 101.8,441.5 102.1,432.5 102.5,418.9 102.9,418.3 103.2,409.1 103.6,409.1 104.0,408.1 104.3,406.6 104.7,410.1 105.0,408.2 105.4,410.3 105.8,412.2 106.1,410.7 106.5,421.3 106.9,422.8 107.2,416.0 107.6,414.6 107.9,410.8 108.3,414.7 108.7,414.5 109.0,420.4 109.4,415.5 109.8,416.5 110.1,422.9 110.5,423.0 110.8,420.9 111.2,419.9 111.6,430.8 111.9,421.2 112.3,420.8 112.7,422.2 113.0,421.1 113.4,420.9 113.7,426.1 114.1,422.0 114.5,424.8 114.8,427.9 115.2,424.8 115.6,421.0 115.9,430.7 116.3,431.3 116.6,431.1 117.0,419.1 117.4,426.2 117.7,425.4 118.1,427.5 118.5,427.7 118.8,431.0 119.2,423.5 119.5,423.1 119.9,430.6 120.3,428.0 120.6,427.7 121.0,426.1 121.4,425.7 121.7,422.9 122.1,421.9 122.4,422.5 122.8,421.2 123.2,429.2 123.5,427.5 123.9,422.6 124.3,426.4 124.6,428.4 125.0,436.1 125.3,436.6 125.7,428.8 126.1,430.5 126.4,432.9 126.8,433.5 127.2,437.9 127.5,431.1 127.9,428.9 128.2,427.0 128.6,432.4 129.0,433.3 129.3,436.2 129.7,428.7 130.1,427.2 130.4,435.1 130.8,432.6 131.1,433.8 131.5,436.6 131.9,443.6 132.2,437.4 132.6,434.8 133.0,442.0 133.3,440.4 133.7,448.7 134.0,434.0 134.4,436.7 134.8,438.2 135.1,439.1 135.5,440.1 135.9,438.1 136.2,438.8 136.6,438.9 136.9,438.7 137.3,438.9 137.7,435.1 138.0,445.6 138.4,440.8 138.8,444.4 139.1,446.8 139.5,451.4 139.8,442.4 140.2,448.4 140.6,448.2 140.9,444.6 141.3,450.1 141.7,446.8 142.0,447.7 142.4,445.6 142.7,445.8 143.1,452.9 143.5,448.0 143.8,452.2 144.2,452.1 144.6,453.8 144.9,451.3 145.3,457.7 145.6,452.9 146.0,449.8 146.4,454.6 146.7,446.9 147.1,455.6 147.5,452.1 147.8,453.9 148.2,453.8 148.5,454.9 148.9,452.4 149.3,450.2 149.6,452.0 150.0,445.8 150.4,443.0 150.7,452.5 151.1,444.2 151.4,445.8 151.8,445.2 152.2,437.5 152.5,441.1 152.9,443.4 153.3,443.3 153.6,450.2 154.0,439.8 154.3,444.2 154.7,440.9 155.1,441.2 155.4,438.8 155.8,435.9" fill="none" stroke="#8a8a8a" stroke-width="0.6" stroke-linejoin="round"/>
<polygon points="174.2,448.6 174.6,447.5 174.9,448.5 175.3,447.9 175.7,449.2 176.0,447.2 176.4,448.3 176.7,448.9 177.1,446.9 177.5,447.3 177.8,446.1 178.2,447.4 178.6,445.2 178.9,447.2 179.3,446.3 179.6,446.6 180.0,445.7 180.4,446.3 180.7,443.1 181.1,447.3 181.5,443.8 181.8,445.4 182.2,444.3 182.5,447.0 182.9,443.5 183.3,447.3 183.6,444.4 184.0,444.5 184.4,444.4 184.7,446.0 185.1,444.9 185.4,444.6 185.8,446.3 186.2,448.3 186.5,448.5 186.9,445.4 187.3,446.3 187.6,447.2 188.0,447.4 188.3,447.4 188.7,447.0 189.1,446.7 189.4,446.9 189.8,446.0 190.2,445.3 190.5,443.8 190.9,445.6 191.2,445.2 191.6,443.4 192.0,445.6 192.3,442.7 192.7,443.2 193.1,447.1 193.4,446.2 193.8,444.7 194.1,446.3 194.5,444.2 194.9,444.3 195.2,444.4 195.6,443.0 196.0,440.7 196.3,441.4 196.7,444.3 197.0,443.3 197.4,444.9 197.8,442.9 198.1,444.8 198.5,445.5 198.9,445.7 199.2,445.1 199.6,445.8 199.9,444.6 200.3,443.9 200.7,444.1 201.0,443.5 201.4,444.4 201.8,445.7 202.1,445.0 202.5,446.5 202.8,444.9 203.2,445.3 203.6,445.8 203.9,449.3 204.3,443.6 204.7,444.1 205.0,445.9 205.4,447.6 205.7,447.0 206.1,445.2 206.5,449.6 206.8,448.6 207.2,448.3 207.6,449.2 207.9,449.7 208.3,451.5 208.6,450.0 209.0,452.6 209.4,447.5 209.7,449.5 210.1,450.9 210.5,453.0 210.8,449.9 211.2,449.4 211.5,450.0 211.9,448.1 212.3,451.0 212.6,450.7 213.0,452.7 213.4,451.6 213.7,451.5 214.1,449.8 214.4,447.6 214.8,449.0 215.2,447.6 215.5,444.6 215.9,447.3 216.3,448.2 216.6,447.8 217.0,447.8 217.3,448.4 217.7,448.1 218.1,450.9 218.4,449.0 218.8,449.8 219.2,449.4 219.5,451.3 219.9,447.9 220.2,448.2 220.6,449.6 221.0,447.9 221.3,448.2 221.7,447.6 222.1,445.6 222.4,448.8 222.8,449.2 223.1,448.9 223.5,445.9 223.9,450.3 224.2,450.4 224.6,451.0 225.0,449.2 225.3,447.1 225.7,449.1 226.0,447.5 226.4,446.5 226.8,446.6 227.1,446.9 227.5,445.5 227.9,446.0 228.2,447.6 228.6,442.4 228.9,444.9 229.3,445.2 229.7,439.2 230.0,434.2 230.4,430.1 230.8,426.3 231.1,421.6 231.5,424.8 231.8,427.0 232.2,429.6 232.6,430.1 232.9,433.1 233.3,433.3 233.7,437.1 234.0,437.7 234.4,438.8 234.7,436.8 235.1,439.6 235.5,436.3 235.8,435.4 236.2,435.8 236.6,435.8 236.9,434.7 237.3,436.4 237.6,437.7 238.0,436.8 238.4,438.3 238.7,437.9 239.1,434.8 239.5,436.8 239.8,435.1 240.2,436.9 240.5,435.1 240.9,436.0 241.3,435.8 241.6,435.8 242.0,434.7 242.4,437.4 242.7,436.1 243.1,436.7 243.4,437.0 243.8,438.1 244.2,436.5 244.5,435.8 244.9,437.0 245.3,435.6 245.6,437.4 246.0,436.3 246.3,436.2 246.7,435.4 247.1,436.1 247.4,437.2 247.8,439.0 248.2,438.1 248.5,437.9 248.9,439.9 249.2,440.4 249.6,440.6 250.0,440.1 250.3,437.6 250.7,439.2 251.1,438.8 251.4,438.6 251.8,439.0 252.1,438.7 252.5,441.8 252.9,439.8 253.2,439.3 253.6,439.5 254.0,438.0 254.3,439.9 254.7,437.0 255.0,437.2 255.4,439.9 255.8,439.0 256.1,440.3 256.5,438.9 256.9,441.8 257.2,442.1 257.6,439.3 257.9,439.1 258.3,439.7 258.7,441.2 259.0,438.1 259.4,440.3 259.8,441.8 260.1,441.2 260.5,441.0 260.8,443.3 261.2,444.5 261.6,443.8 261.9,441.9 262.3,442.1 262.7,444.9 263.0,444.0 263.4,446.0 263.7,444.1 264.1,445.4 264.5,444.4 264.8,445.7 265.2,444.6 265.6,445.0 265.9,444.8 266.3,441.3 266.6,440.9 267.0,442.3 267.4,443.0 267.7,442.4 268.1,444.5 268.5,444.1 268.8,443.0 269.2,443.9 269.5,442.4 269.9,444.8 270.3,445.0 270.6,443.9 271.0,446.2 271.4,445.8 271.7,444.3 272.1,448.8 272.4,444.8 272.8,444.9 273.2,443.9 273.5,444.3 273.9,443.1 274.3,441.1 274.6,443.9 275.0,442.3 275.3,441.2 275.7,443.7 276.1,441.3 276.4,441.0 276.8,443.1 277.2,442.5 277.5,443.6 277.9,438.5 278.2,442.8 278.6,442.2 279.0,439.8 279.3,440.2 279.7,440.4 280.1,440.5 280.4,440.7 280.8,441.1 281.1,441.6 281.5,440.0 281.9,440.3 282.2,440.0 282.6,441.7 282.6,446.4 282.2,444.7 281.9,445.2 281.5,444.8 281.1,445.6 280.8,446.8 280.4,445.9 280.1,445.0 279.7,445.2 279.3,444.6 279.0,443.7 278.6,446.3 278.2,447.2 277.9,443.8 277.5,448.9 277.2,447.7 276.8,447.7 276.4,445.5 276.1,445.4 275.7,448.1 275.3,445.4 275.0,447.9 274.6,447.7 274.3,445.9 273.9,447.7 273.5,448.4 273.2,448.9 272.8,450.0 272.4,449.5 272.1,452.8 271.7,449.2 271.4,451.9 271.0,451.1 270.6,448.6 270.3,449.0 269.9,449.5 269.5,448.3 269.2,450.4 268.8,448.7 268.5,449.5 268.1,449.7 267.7,447.5 267.4,449.1 267.0,446.7 266.6,445.6 266.3,445.7 265.9,449.7 265.6,448.9 265.2,448.9 264.8,450.3 264.5,448.6 264.1,450.3 263.7,450.0 263.4,450.4 263.0,447.8 262.7,449.4 262.3,447.7 261.9,448.1 261.6,449.1 261.2,449.3 260.8,447.5 260.5,445.8 260.1,446.3 259.8,447.5 259.4,445.7 259.0,443.8 258.7,446.5 258.3,445.1 257.9,443.5 257.6,446.2 257.2,446.4 256.9,447.3 256.5,443.9 256.1,444.3 255.8,443.7 255.4,444.9 255.0,441.2 254.7,443.0 254.3,444.0 254.0,443.0 253.6,444.3 253.2,444.3 252.9,444.3 252.5,446.7 252.1,442.7 251.8,442.9 251.4,443.2 251.1,443.4 250.7,444.4 250.3,442.5 250.0,444.6 249.6,446.7 249.2,444.9 248.9,444.1 248.5,443.4 248.2,442.9 247.8,444.3 247.4,442.5 247.1,441.1 246.7,439.9 246.3,442.0 246.0,441.6 245.6,443.9 245.3,440.3 244.9,441.8 244.5,441.0 244.2,442.7 243.8,442.9 243.4,441.1 243.1,442.4 242.7,440.8 242.4,443.2 242.0,439.0 241.6,439.9 241.3,440.9 240.9,441.8 240.5,441.1 240.2,441.6 239.8,440.5 239.5,441.7 239.1,439.0 238.7,442.1 238.4,444.0 238.0,441.4 237.6,441.6 237.3,441.7 236.9,438.4 236.6,440.4 236.2,441.0 235.8,440.0 235.5,441.1 235.1,444.9 234.7,441.5 234.4,443.6 234.0,443.4 233.7,441.3 233.3,437.4 232.9,438.2 232.6,435.1 232.2,433.4 231.8,432.3 231.5,429.2 231.1,425.8 230.8,430.3 230.4,436.3 230.0,439.4 229.7,443.3 229.3,449.9 228.9,451.0 228.6,447.7 228.2,451.0 227.9,449.8 227.5,449.0 227.1,450.1 226.8,449.4 226.4,450.6 226.0,451.4 225.7,452.7 225.3,450.7 225.0,452.3 224.6,454.1 224.2,454.1 223.9,453.4 223.5,450.3 223.1,452.3 222.8,452.8 222.4,451.5 222.1,450.1 221.7,451.4 221.3,451.3 221.0,451.9 220.6,453.9 220.2,451.1 219.9,452.5 219.5,455.7 219.2,453.2 218.8,453.2 218.4,451.8 218.1,454.3 217.7,452.0 217.3,451.6 217.0,452.3 216.6,451.5 216.3,451.6 215.9,451.3 215.5,449.4 215.2,450.7 214.8,451.9 214.4,451.4 214.1,453.7 213.7,454.9 213.4,454.7 213.0,457.4 212.6,454.8 212.3,454.1 211.9,451.8 211.5,454.8 211.2,453.0 210.8,453.5 210.5,455.9 210.1,454.9 209.7,453.6 209.4,452.1 209.0,456.5 208.6,452.9 208.3,455.4 207.9,452.8 207.6,452.7 207.2,452.6 206.8,452.0 206.5,453.3 206.1,448.3 205.7,450.8 205.4,451.8 205.0,449.9 204.7,448.7 204.3,447.2 203.9,453.0 203.6,450.4 203.2,449.9 202.8,448.2 202.5,450.3 202.1,449.4 201.8,449.8 201.4,448.7 201.0,447.3 200.7,447.5 200.3,448.4 199.9,448.1 199.6,449.5 199.2,448.3 198.9,449.2 198.5,449.8 198.1,449.1 197.8,446.2 197.4,448.0 197.0,448.1 196.7,447.4 196.3,445.6 196.0,444.5 195.6,446.4 195.2,448.3 194.9,448.3 194.5,447.7 194.1,449.2 193.8,448.2 193.4,450.5 193.1,452.1 192.7,446.6 192.3,448.1 192.0,449.9 191.6,446.4 191.2,447.9 190.9,449.0 190.5,447.6 190.2,449.3 189.8,449.5 189.4,450.9 189.1,450.3 188.7,449.9 188.3,451.1 188.0,451.9 187.6,450.4 187.3,450.3 186.9,448.7 186.5,453.4 186.2,451.7 185.8,450.4 185.4,448.1 185.1,449.0 184.7,448.9 184.4,448.9 184.0,447.9 183.6,447.2 183.3,450.4 182.9,447.5 182.5,451.3 182.2,447.5 181.8,448.7 181.5,447.7 181.1,450.5 180.7,446.0 180.4,449.5 180.0,448.6 179.6,449.4 179.3,449.8 178.9,451.3 178.6,448.2 178.2,450.2 177.8,451.1 177.5,450.6 177.1,450.3 176.7,451.8 176.4,451.4 176.0,451.0 175.7,453.4 175.3,451.3 174.9,451.6 174.6,451.4 174.2,452.2" fill="#f9d3d6"/>
<polyline points="174.2,450.9 174.6,448.9 174.9,449.8 175.3,449.4 175.7,450.6 176.0,448.7 176.4,449.8 176.7,450.3 177.1,448.6 177.5,448.9 177.8,449.1 178.2,448.8 178.6,446.8 178.9,448.8 179.3,447.9 179.6,448.0 180.0,447.2 180.4,447.6 180.7,444.4 181.1,449.1 181.5,446.1 181.8,446.9 182.2,445.6 182.5,449.1 182.9,445.5 183.3,448.6 183.6,445.8 184.0,445.9 184.4,446.4 184.7,447.4 185.1,447.6 185.4,446.7 185.8,448.2 186.2,450.0 186.5,450.2 186.9,447.4 187.3,447.8 187.6,448.5 188.0,449.4 188.3,448.9 188.7,448.4 189.1,448.1 189.4,448.6 189.8,447.8 190.2,447.7 190.5,445.7 190.9,447.2 191.2,446.5 191.6,445.1 192.0,447.6 192.3,446.0 192.7,445.2 193.1,449.3 193.4,448.7 193.8,446.3 194.1,447.8 194.5,446.2 194.9,445.7 195.2,446.8 195.6,444.6 196.0,442.9 196.3,443.7 196.7,446.1 197.0,445.5 197.4,446.4 197.8,444.4 198.1,447.1 198.5,448.0 198.9,447.2 199.2,446.4 199.6,447.3 199.9,446.4 200.3,446.4 200.7,445.5 201.0,445.4 201.4,446.5 201.8,447.7 202.1,446.8 202.5,448.6 202.8,446.2 203.2,447.2 203.6,447.5 203.9,450.9 204.3,445.2 204.7,446.6 205.0,447.3 205.4,449.3 205.7,449.1 206.1,446.9 206.5,451.7 206.8,450.2 207.2,450.6 207.6,451.4 207.9,451.3 208.3,453.3 208.6,451.4 209.0,453.9 209.4,449.9 209.7,451.1 210.1,453.0 210.5,454.4 210.8,451.5 211.2,451.0 211.5,453.2 211.9,450.2 212.3,452.3 212.6,453.4 213.0,454.7 213.4,453.1 213.7,452.9 214.1,451.3 214.4,450.1 214.8,450.5 215.2,449.3 215.5,447.7 215.9,448.6 216.3,449.9 216.6,449.2 217.0,450.9 217.3,449.9 217.7,450.5 218.1,452.2 218.4,450.3 218.8,451.3 219.2,450.8 219.5,453.4 219.9,450.2 220.2,449.8 220.6,451.2 221.0,450.3 221.3,449.5 221.7,449.2 222.1,448.1 222.4,450.2 222.8,451.2 223.1,450.6 223.5,448.4 223.9,451.7 224.2,452.8 224.6,452.6 225.0,450.8 225.3,448.9 225.7,450.6 226.0,448.8 226.4,448.4 226.8,448.0 227.1,448.6 227.5,447.5 227.9,447.8 228.2,449.2 228.6,444.8 228.9,448.5 229.3,447.2 229.7,441.1 230.0,437.4 230.4,433.4 230.8,428.5 231.1,423.8 231.5,426.9 231.8,429.1 232.2,431.5 232.6,433.0 232.9,435.2 233.3,435.5 233.7,439.4 234.0,440.2 234.4,441.4 234.7,439.0 235.1,441.8 235.5,438.5 235.8,437.4 236.2,438.2 236.6,438.1 236.9,436.6 237.3,438.7 237.6,439.6 238.0,439.1 238.4,440.9 238.7,439.9 239.1,437.1 239.5,439.6 239.8,437.3 240.2,439.4 240.5,437.8 240.9,438.4 241.3,438.6 241.6,437.9 242.0,436.6 242.4,439.9 242.7,438.4 243.1,439.8 243.4,439.2 243.8,440.4 244.2,440.3 244.5,439.1 244.9,439.4 245.3,438.2 245.6,439.7 246.0,438.9 246.3,439.3 246.7,437.9 247.1,438.5 247.4,440.5 247.8,442.1 248.2,440.8 248.5,440.6 248.9,441.9 249.2,442.9 249.6,444.3 250.0,442.2 250.3,439.6 250.7,442.1 251.1,441.2 251.4,441.1 251.8,441.0 252.1,440.8 252.5,444.4 252.9,442.2 253.2,441.6 253.6,442.1 254.0,440.3 254.3,442.1 254.7,440.4 255.0,439.3 255.4,441.9 255.8,441.8 256.1,442.3 256.5,441.0 256.9,444.8 257.2,444.1 257.6,442.8 257.9,441.5 258.3,442.0 258.7,444.1 259.0,441.2 259.4,443.3 259.8,444.6 260.1,443.6 260.5,443.2 260.8,445.4 261.2,447.4 261.6,446.2 261.9,445.5 262.3,444.6 262.7,447.2 263.0,445.9 263.4,448.0 263.7,446.5 264.1,448.1 264.5,446.7 264.8,447.6 265.2,446.5 265.6,447.0 265.9,447.4 266.3,443.5 266.6,443.7 267.0,444.8 267.4,446.2 267.7,444.4 268.1,447.1 268.5,446.6 268.8,446.1 269.2,447.3 269.5,445.6 269.9,447.3 270.3,447.0 270.6,446.5 271.0,448.3 271.4,448.8 271.7,447.2 272.1,450.7 272.4,447.2 272.8,448.1 273.2,446.4 273.5,446.2 273.9,445.8 274.3,443.9 274.6,445.7 275.0,445.4 275.3,443.5 275.7,445.5 276.1,443.1 276.4,443.6 276.8,445.1 277.2,445.8 277.5,446.5 277.9,441.3 278.2,445.1 278.6,444.4 279.0,441.6 279.3,442.2 279.7,442.5 280.1,442.6 280.4,443.1 280.8,443.8 281.1,443.8 281.5,442.5 281.9,442.2 282.2,442.4 282.6,444.0" fill="none" stroke="#ef8c93" stroke-width="0.7" stroke-linejoin="round"/>
<polygon points="301.4,444.8 301.8,444.4 302.1,440.3 302.5,440.5 302.9,442.1 303.2,441.0 303.6,444.0 303.9,439.9 304.3,442.7 304.7,446.6 305.0,444.6 305.4,442.0 305.8,444.0 306.1,447.8 306.5,443.5 306.8,445.1 307.2,446.8 307.6,445.4 307.9,448.3 308.3,446.6 308.7,445.3 309.0,442.5 309.4,442.1 309.7,444.7 310.1,445.5 310.5,445.1 310.8,443.2 311.2,443.7 311.6,441.5 311.9,443.1 312.3,442.3 312.6,444.7 313.0,437.4 313.4,440.1 313.7,443.3 314.1,445.2 314.5,441.1 314.8,438.1 315.2,443.2 315.5,439.0 315.9,435.2 316.3,438.0 316.6,440.3 317.0,437.6 317.4,436.5 317.7,441.7 318.1,442.3 318.4,441.7 318.8,440.5 319.2,438.0 319.5,441.2 319.9,447.6 320.3,440.5 320.6,442.1 321.0,440.9 321.3,441.8 321.7,443.3 322.1,442.7 322.4,445.6 322.8,447.3 323.2,445.4 323.5,447.9 323.9,441.0 324.2,445.9 324.6,442.3 325.0,448.3 325.3,447.0 325.7,444.4 326.1,448.5 326.4,446.8 326.8,449.0 327.1,444.2 327.5,448.6 327.9,444.8 328.2,448.5 328.6,442.9 329.0,442.7 329.3,445.3 329.7,448.2 330.0,445.4 330.4,445.3 330.8,444.6 331.1,444.9 331.5,444.0 331.9,446.6 332.2,447.3 332.6,447.5 332.9,446.8 333.3,446.9 333.7,447.7 334.0,446.0 334.4,443.2 334.8,448.7 335.1,448.9 335.5,448.4 335.8,449.6 336.2,446.0 336.6,448.8 336.9,447.3 337.3,451.7 337.7,445.7 338.0,447.7 338.4,450.7 338.7,445.2 339.1,446.2 339.5,444.2 339.8,447.1 340.2,449.3 340.6,445.1 340.9,448.8 341.3,446.5 341.6,447.0 342.0,447.0 342.4,451.7 342.7,447.6 343.1,449.9 343.5,447.8 343.8,452.7 344.2,447.1 344.5,450.8 344.9,451.5 345.3,446.9 345.6,449.9 346.0,451.3 346.4,449.3 346.7,452.1 347.1,453.1 347.4,448.5 347.8,449.3 348.2,443.6 348.5,445.5 348.9,450.8 349.3,446.2 349.6,447.1 350.0,445.6 350.3,443.4 350.7,445.0 351.1,444.5 351.4,448.1 351.8,443.7 352.2,446.8 352.5,444.0 352.9,447.0 353.2,445.7 353.6,448.7 354.0,444.1 354.3,446.4 354.7,445.3 355.1,444.7 355.4,443.1 355.8,444.3 356.1,441.2 356.5,441.4 356.9,432.6 357.2,429.5 357.6,426.3 358.0,420.0 358.3,412.3 358.7,422.9 359.0,414.3 359.4,408.4 359.8,419.2 360.1,419.5 360.5,419.1 360.9,419.5 361.2,425.4 361.6,413.8 361.9,419.0 362.3,422.8 362.7,429.1 363.0,421.6 363.4,421.2 363.8,425.3 364.1,420.7 364.5,418.5 364.8,422.4 365.2,421.3 365.6,424.8 365.9,419.6 366.3,418.8 366.7,410.9 367.0,415.7 367.4,418.2 367.7,416.7 368.1,417.1 368.5,413.1 368.8,419.4 369.2,416.6 369.6,420.7 369.9,420.3 370.3,416.6 370.6,421.2 371.0,422.1 371.4,419.0 371.7,424.4 372.1,416.7 372.5,427.0 372.8,422.2 373.2,427.7 373.5,427.0 373.9,424.0 374.3,421.6 374.6,427.3 375.0,424.7 375.4,421.1 375.7,428.9 376.1,423.4 376.4,433.4 376.8,436.9 377.2,428.5 377.5,431.7 377.9,429.4 378.3,440.4 378.6,427.1 379.0,432.5 379.3,434.8 379.7,430.4 380.1,435.9 380.4,433.2 380.8,434.8 381.2,424.7 381.5,428.9 381.9,427.0 382.2,435.2 382.6,433.9 383.0,424.3 383.3,437.5 383.7,429.6 384.1,437.4 384.4,431.4 384.8,441.6 385.1,431.9 385.5,431.3 385.9,433.8 386.2,434.5 386.6,439.5 387.0,430.2 387.3,425.5 387.7,436.6 388.0,437.5 388.4,426.1 388.8,428.2 389.1,428.6 389.5,431.8 389.9,428.9 390.2,433.5 390.6,433.5 390.9,438.5 391.3,433.5 391.7,435.1 392.0,423.4 392.4,430.6 392.8,429.1 393.1,433.3 393.5,426.8 393.8,422.5 394.2,427.6 394.6,424.9 394.9,427.7 395.3,430.1 395.7,423.4 396.0,429.4 396.4,432.9 396.7,427.9 397.1,430.4 397.5,423.6 397.8,424.9 398.2,430.2 398.6,423.7 398.9,428.6 399.3,422.5 399.6,425.2 400.0,427.5 400.4,429.9 400.7,424.3 401.1,429.9 401.5,431.2 401.8,420.6 402.2,421.4 402.5,422.8 402.9,427.2 403.3,423.4 403.6,430.1 404.0,424.3 404.4,425.7 404.7,429.9 405.1,425.6 405.4,428.8 405.8,431.9 406.2,432.4 406.5,440.7 406.9,440.4 407.3,438.4 407.6,433.4 408.0,433.1 408.3,433.4 408.7,434.1 409.1,429.4 409.4,437.3 409.8,436.5 409.8,448.9 409.4,448.7 409.1,441.8 408.7,448.6 408.3,446.5 408.0,448.8 407.6,447.5 407.3,453.9 406.9,451.8 406.5,455.2 406.2,444.6 405.8,444.9 405.4,442.2 405.1,439.9 404.7,445.1 404.4,439.5 404.0,440.6 403.6,445.4 403.3,439.1 402.9,440.0 402.5,440.3 402.2,436.5 401.8,436.6 401.5,445.0 401.1,440.3 400.7,436.1 400.4,441.9 400.0,440.2 399.6,437.2 399.3,437.1 398.9,445.0 398.6,437.8 398.2,446.8 397.8,436.5 397.5,436.6 397.1,440.9 396.7,441.2 396.4,444.5 396.0,442.5 395.7,435.2 395.3,441.9 394.9,442.7 394.6,436.3 394.2,440.7 393.8,435.6 393.5,440.8 393.1,450.1 392.8,447.2 392.4,444.0 392.0,437.8 391.7,447.4 391.3,447.0 390.9,450.9 390.6,446.3 390.2,447.6 389.9,444.1 389.5,449.2 389.1,441.9 388.8,445.2 388.4,442.4 388.0,453.1 387.7,449.1 387.3,438.8 387.0,447.3 386.6,454.6 386.2,450.6 385.9,446.7 385.5,444.2 385.1,446.4 384.8,453.4 384.4,447.2 384.1,451.0 383.7,441.8 383.3,451.6 383.0,437.1 382.6,447.9 382.2,446.0 381.9,439.4 381.5,444.8 381.2,439.4 380.8,446.4 380.4,445.0 380.1,446.8 379.7,442.0 379.3,447.9 379.0,446.2 378.6,444.6 378.3,453.2 377.9,446.3 377.5,442.5 377.2,439.8 376.8,447.7 376.4,445.7 376.1,435.9 375.7,444.2 375.4,435.4 375.0,438.3 374.6,442.3 374.3,434.8 373.9,435.2 373.5,438.9 373.2,440.1 372.8,437.0 372.5,438.4 372.1,431.1 371.7,440.1 371.4,432.6 371.0,435.4 370.6,435.0 370.3,432.7 369.9,433.1 369.6,436.0 369.2,427.6 368.8,430.0 368.5,429.1 368.1,429.1 367.7,434.9 367.4,431.4 367.0,429.9 366.7,424.7 366.3,433.1 365.9,432.7 365.6,436.5 365.2,435.7 364.8,435.2 364.5,432.1 364.1,433.8 363.8,436.8 363.4,434.5 363.0,433.3 362.7,439.9 362.3,438.6 361.9,436.3 361.6,427.4 361.2,436.4 360.9,430.7 360.5,436.2 360.1,433.3 359.8,435.7 359.4,421.1 359.0,427.4 358.7,436.0 358.3,425.0 358.0,433.8 357.6,439.4 357.2,444.6 356.9,443.8 356.5,455.0 356.1,454.9 355.8,460.7 355.4,451.0 355.1,452.6 354.7,454.7 354.3,454.3 354.0,454.2 353.6,457.0 353.2,454.7 352.9,455.2 352.5,451.4 352.2,455.1 351.8,450.7 351.4,456.7 351.1,452.3 350.7,453.3 350.3,452.9 350.0,454.3 349.6,454.0 349.3,454.7 348.9,460.4 348.5,452.4 348.2,453.4 347.8,457.5 347.4,457.9 347.1,460.3 346.7,460.1 346.4,458.0 346.0,461.9 345.6,457.6 345.3,456.1 344.9,460.5 344.5,459.7 344.2,456.7 343.8,460.7 343.5,456.1 343.1,457.3 342.7,457.6 342.4,458.7 342.0,456.9 341.6,454.7 341.3,456.2 340.9,456.2 340.6,453.4 340.2,458.2 339.8,455.2 339.5,455.0 339.1,454.2 338.7,453.5 338.4,460.2 338.0,455.6 337.7,454.8 337.3,460.5 336.9,454.7 336.6,457.3 336.2,454.8 335.8,460.5 335.5,459.1 335.1,456.2 334.8,457.4 334.4,452.2 334.0,454.5 333.7,455.9 333.3,454.4 332.9,455.5 332.6,455.8 332.2,457.2 331.9,455.7 331.5,451.2 331.1,452.4 330.8,454.4 330.4,453.4 330.0,453.9 329.7,455.6 329.3,452.7 329.0,451.1 328.6,453.1 328.2,456.8 327.9,455.4 327.5,457.7 327.1,453.0 326.8,458.2 326.4,454.1 326.1,457.7 325.7,451.7 325.3,457.4 325.0,455.6 324.6,450.1 324.2,454.3 323.9,449.8 323.5,456.0 323.2,454.3 322.8,456.2 322.4,452.9 322.1,449.9 321.7,451.0 321.3,452.0 321.0,449.1 320.6,450.4 320.3,450.1 319.9,454.6 319.5,450.7 319.2,446.9 318.8,449.6 318.4,449.2 318.1,449.3 317.7,448.7 317.4,444.1 317.0,449.7 316.6,447.7 316.3,447.6 315.9,443.3 315.5,446.8 315.2,452.2 314.8,447.4 314.5,448.4 314.1,452.8 313.7,451.6 313.4,448.3 313.0,446.2 312.6,452.9 312.3,449.7 311.9,451.0 311.6,448.7 311.2,452.6 310.8,451.8 310.5,453.0 310.1,453.5 309.7,451.9 309.4,449.4 309.0,450.5 308.7,454.2 308.3,455.5 307.9,456.3 307.6,454.5 307.2,455.1 306.8,454.4 306.5,454.2 306.1,456.4 305.8,451.9 305.4,452.9 305.0,453.8 304.7,453.6 304.3,452.8 303.9,447.9 303.6,451.7 303.2,449.8 302.9,449.4 302.5,448.1 302.1,450.0 301.8,451.3 301.4,452.4" fill="#c93443"/>
<polyline points="301.4,448.6 301.8,447.8 302.1,445.0 302.5,443.8 302.9,445.4 303.2,446.2 303.6,447.5 303.9,444.6 304.3,446.3 304.7,450.1 305.0,449.3 305.4,448.8 305.8,448.1 306.1,451.2 306.5,447.6 306.8,448.5 307.2,451.6 307.6,450.8 307.9,452.0 308.3,451.6 308.7,448.5 309.0,445.7 309.4,445.5 309.7,447.9 310.1,448.9 310.5,449.2 310.8,446.5 311.2,448.2 311.6,445.4 311.9,447.1 312.3,446.1 312.6,448.0 313.0,442.8 313.4,444.8 313.7,446.9 314.1,448.5 314.5,444.7 314.8,443.5 315.2,446.7 315.5,443.4 315.9,438.7 316.3,442.8 316.6,444.4 317.0,442.7 317.4,440.3 317.7,445.4 318.1,445.8 318.4,445.8 318.8,445.4 319.2,443.4 319.5,445.5 319.9,451.3 320.3,445.7 320.6,445.8 321.0,445.3 321.3,446.2 321.7,447.3 322.1,446.2 322.4,449.4 322.8,452.2 323.2,449.8 323.5,451.7 323.9,445.8 324.2,449.7 324.6,445.9 325.0,452.1 325.3,451.7 325.7,448.1 326.1,452.9 326.4,450.7 326.8,453.6 327.1,448.5 327.5,453.2 327.9,449.7 328.2,453.0 328.6,448.0 329.0,447.0 329.3,449.4 329.7,452.2 330.0,449.5 330.4,448.7 330.8,449.5 331.1,448.7 331.5,447.4 331.9,450.9 332.2,451.7 332.6,452.2 332.9,450.7 333.3,451.1 333.7,452.0 334.0,450.4 334.4,447.1 334.8,453.4 335.1,453.0 335.5,453.0 335.8,454.6 336.2,450.2 336.6,452.7 336.9,450.8 337.3,455.3 337.7,450.4 338.0,451.9 338.4,454.8 338.7,449.7 339.1,449.5 339.5,451.0 339.8,450.5 340.2,453.6 340.6,449.3 340.9,452.2 341.3,451.0 341.6,451.2 342.0,451.9 342.4,454.9 342.7,453.1 343.1,453.9 343.5,452.1 343.8,456.8 344.2,453.5 344.5,454.9 344.9,455.9 345.3,451.6 345.6,453.5 346.0,456.1 346.4,453.9 346.7,456.0 347.1,456.5 347.4,454.5 347.8,453.7 348.2,448.0 348.5,449.1 348.9,455.3 349.3,449.7 349.6,450.5 350.0,449.1 350.3,448.5 350.7,449.2 351.1,448.8 351.4,451.7 351.8,447.2 352.2,450.7 352.5,447.9 352.9,451.1 353.2,450.1 353.6,453.6 354.0,449.5 354.3,450.5 354.7,451.1 355.1,448.4 355.4,447.0 355.8,452.9 356.1,448.8 356.5,448.9 356.9,438.5 357.2,435.2 357.6,432.7 358.0,426.9 358.3,418.1 358.7,428.1 359.0,420.6 359.4,414.7 359.8,427.6 360.1,428.2 360.5,429.5 360.9,424.9 361.2,430.8 361.6,421.0 361.9,429.9 362.3,431.7 362.7,434.6 363.0,428.2 363.4,427.3 363.8,431.5 364.1,426.3 364.5,425.8 364.8,428.5 365.2,428.8 365.6,430.2 365.9,426.1 366.3,427.2 366.7,419.3 367.0,422.1 367.4,425.6 367.7,426.4 368.1,423.4 368.5,421.2 368.8,424.6 369.2,422.3 369.6,428.8 369.9,426.9 370.3,425.9 370.6,428.1 371.0,427.7 371.4,425.4 371.7,429.6 372.1,425.8 372.5,432.2 372.8,428.7 373.2,433.0 373.5,433.3 373.9,429.9 374.3,427.4 374.6,433.1 375.0,432.3 375.4,427.5 375.7,436.2 376.1,429.9 376.4,438.7 376.8,442.2 377.2,434.0 377.5,436.9 377.9,438.0 378.3,445.7 378.6,434.9 379.0,438.3 379.3,441.0 379.7,436.8 380.1,441.2 380.4,439.7 380.8,440.3 381.2,433.5 381.5,438.0 381.9,432.5 382.2,440.6 382.6,441.7 383.0,430.5 383.3,443.9 383.7,434.7 384.1,445.3 384.4,439.6 384.8,446.8 385.1,439.3 385.5,438.2 385.9,441.0 386.2,442.9 386.6,444.9 387.0,439.5 387.3,433.4 387.7,442.6 388.0,444.3 388.4,432.3 388.8,440.0 389.1,436.0 389.5,438.1 389.9,437.7 390.2,439.7 390.6,438.9 390.9,444.6 391.3,439.8 391.7,440.6 392.0,432.4 392.4,438.0 392.8,436.1 393.1,442.7 393.5,435.2 393.8,428.8 394.2,433.5 394.6,430.2 394.9,434.7 395.3,435.9 395.7,429.9 396.0,435.7 396.4,438.1 396.7,434.5 397.1,435.7 397.5,430.0 397.8,431.1 398.2,439.3 398.6,431.2 398.9,438.1 399.3,432.0 399.6,430.5 400.0,435.0 400.4,435.4 400.7,430.6 401.1,435.2 401.5,438.7 401.8,428.0 402.2,431.2 402.5,433.1 402.9,434.0 403.3,431.7 403.6,435.5 404.0,432.5 404.4,433.8 404.7,437.9 405.1,431.2 405.4,435.1 405.8,439.5 406.2,438.8 406.5,447.4 406.9,445.7 407.3,446.1 407.6,438.8 408.0,440.1 408.3,438.7 408.7,441.3 409.1,435.6 409.4,443.5 409.8,443.7" fill="none" stroke="#b51f30" stroke-width="0.8" stroke-linejoin="round"/>
<rect x="101.60" y="468.00" width="27.00" height="3.40" fill="#8c8c8c"/>
<rect x="228.40" y="468.40" width="27.20" height="3.30" fill="#f2c4bc"/>
<rect x="355.60" y="468.00" width="27.00" height="3.80" fill="#a51d2d"/>
<g transform="translate(112.76,377.38) rotate(50.03)"><rect x="0" y="-3.40" width="22.47" height="6.80" rx="3.40" fill="#8c2a97"/><path d="M2.88,-3.04 A3.20,3.20 0 1 0 2.88,3.04 Z" transform="translate(-1.76,0)" fill="#5a5b5d"/></g>
<line x1="113.50" y1="374.44" x2="113.50" y2="371.84" stroke="#7a7a7a" stroke-width="0.7"/>
<polygon points="115.30,367.95 116.20,369.63 118.53,369.78 116.76,370.97 117.30,372.75 115.30,371.79 113.30,372.75 113.84,370.97 112.07,369.78 114.40,369.63" fill="#b06bc4"/>
<text x="463.60" y="180.00" font-size="8.7" fill="#231f20" stroke="#231f20" stroke-width="0.12" font-style="italic">Control group</text>
<line x1="524.00" y1="176.50" x2="659.60" y2="176.50" stroke="#333" stroke-width="1.0"/>
<rect x="463.20" y="186.20" width="7.00" height="6.80" fill="#fff" stroke="#999" stroke-width="0.7"/>
<text x="473.60" y="192.40" font-size="8.7" fill="#231f20" stroke="#231f20" stroke-width="0.12">Baseline</text>
<rect x="514.00" y="186.20" width="7.00" height="6.80" fill="#d0d0d0"/>
<text x="524.00" y="192.40" font-size="8.7" fill="#231f20" stroke="#231f20" stroke-width="0.12">Acute saline</text>
<rect x="584.00" y="186.20" width="7.00" height="6.80" fill="#7f7f7f"/>
<text x="595.00" y="192.40" font-size="8.7" fill="#231f20" stroke="#231f20" stroke-width="0.12">Water-drinking</text>
<text x="595.00" y="202.60" font-size="8.7" fill="#231f20" stroke="#231f20" stroke-width="0.12">/ Naloxone</text>
<text x="463.60" y="218.00" font-size="8.7" fill="#231f20" stroke="#231f20" stroke-width="0.12" font-style="italic">Experimental group</text>
<line x1="547.00" y1="215.50" x2="659.60" y2="215.50" stroke="#333" stroke-width="1.0"/>
<rect x="463.20" y="223.60" width="7.00" height="6.80" fill="#fff" stroke="#999" stroke-width="0.7"/>
<text x="473.60" y="230.00" font-size="8.7" fill="#231f20" stroke="#231f20" stroke-width="0.12">Baseline</text>
<rect x="514.00" y="223.60" width="7.00" height="6.80" fill="#f3d4d7"/>
<text x="524.00" y="230.00" font-size="8.7" fill="#231f20" stroke="#231f20" stroke-width="0.12">Acute fentanyl</text>
<rect x="584.00" y="223.60" width="7.00" height="6.80" fill="#c1272d"/>
<text x="595.00" y="230.20" font-size="8.7" fill="#231f20" stroke="#231f20" stroke-width="0.12">Fentanyl-drinking</text>
<text x="595.00" y="240.80" font-size="8.7" fill="#231f20" stroke="#231f20" stroke-width="0.12">/ Naloxone</text>
<text x="440.30" y="267.60" font-size="11.5" fill="#231f20" font-weight="bold">f</text>
<text transform="translate(451.50,322.00) rotate(-90)" x="0" y="3.01" font-size="8.6" fill="#231f20" stroke="#231f20" stroke-width="0.12" text-anchor="middle">Peak z-score</text>
<line x1="470.50" y1="270.00" x2="470.50" y2="368.60" stroke="#231f20" stroke-width="1.0"/>
<line x1="466.20" y1="368.50" x2="470.50" y2="368.50" stroke="#231f20" stroke-width="1.0"/>
<text x="465.30" y="371.60" font-size="8.3" fill="#231f20" stroke="#231f20" stroke-width="0.12" text-anchor="end">0</text>
<line x1="466.20" y1="337.50" x2="470.50" y2="337.50" stroke="#231f20" stroke-width="1.0"/>
<text x="465.30" y="340.20" font-size="8.3" fill="#231f20" stroke="#231f20" stroke-width="0.12" text-anchor="end">4</text>
<line x1="466.20" y1="305.50" x2="470.50" y2="305.50" stroke="#231f20" stroke-width="1.0"/>
<text x="465.30" y="308.80" font-size="8.3" fill="#231f20" stroke="#231f20" stroke-width="0.12" text-anchor="end">8</text>
<line x1="466.20" y1="274.50" x2="470.50" y2="274.50" stroke="#231f20" stroke-width="1.0"/>
<text x="465.30" y="277.40" font-size="8.3" fill="#231f20" stroke="#231f20" stroke-width="0.12" text-anchor="end">12</text>
<path d="M476.50,368.60 L476.50,349.90 L485.20,349.90 L485.20,368.60" fill="none" stroke="#231f20" stroke-width="0.8"/>
<rect x="489.30" y="349.20" width="8.30" height="19.40" fill="#d4d4d4"/>
<rect x="501.80" y="337.00" width="7.80" height="31.60" fill="#7f7f7f"/>
<path d="M518.00,368.60 L518.00,340.20 L526.20,340.20 L526.20,368.60" fill="none" stroke="#231f20" stroke-width="0.8"/>
<rect x="530.50" y="354.40" width="8.10" height="14.20" fill="#f3d4d7"/>
<rect x="542.90" y="312.70" width="7.90" height="55.90" fill="#c1272d"/>
<line x1="480.50" y1="346.00" x2="480.50" y2="353.00" stroke="#231f20" stroke-width="1.0"/>
<line x1="546.50" y1="305.00" x2="546.50" y2="320.00" stroke="#231f20" stroke-width="1.0"/>
<polyline points="480.70,342.70 492.90,350.40 505.80,322.90" fill="none" stroke="#231f20" stroke-width="0.6"/>
<polyline points="480.70,347.30 492.90,347.00 505.80,340.10" fill="none" stroke="#231f20" stroke-width="0.6"/>
<polyline points="480.70,351.30 492.90,350.40 505.80,345.80" fill="none" stroke="#231f20" stroke-width="0.6"/>
<polyline points="480.70,355.20 492.90,341.80 505.80,334.70" fill="none" stroke="#231f20" stroke-width="0.6"/>
<polyline points="521.80,316.70 534.00,338.90 546.70,268.90" fill="none" stroke="#231f20" stroke-width="0.6"/>
<polyline points="521.80,341.00 534.00,346.20 546.70,310.70" fill="none" stroke="#231f20" stroke-width="0.6"/>
<polyline points="521.80,344.00 534.00,350.00 546.70,315.60" fill="none" stroke="#231f20" stroke-width="0.6"/>
<polyline points="521.80,337.80 534.00,356.70 546.70,303.30" fill="none" stroke="#231f20" stroke-width="0.6"/>
<polyline points="521.80,352.20 534.00,352.90 546.70,331.60" fill="none" stroke="#231f20" stroke-width="0.6"/>
<polyline points="521.80,337.80 534.00,352.90 546.70,336.70" fill="none" stroke="#231f20" stroke-width="0.6"/>
<circle cx="480.70" cy="342.70" r="1.55" fill="#f6f1c4" stroke="#2a2a2a" stroke-width="0.5"/>
<circle cx="492.90" cy="350.40" r="1.55" fill="#f6f1c4" stroke="#2a2a2a" stroke-width="0.5"/>
<circle cx="505.80" cy="322.90" r="1.55" fill="#f6f1c4" stroke="#2a2a2a" stroke-width="0.5"/>
<circle cx="480.70" cy="347.30" r="1.55" fill="#f6f1c4" stroke="#2a2a2a" stroke-width="0.5"/>
<circle cx="492.90" cy="347.00" r="1.55" fill="#f6f1c4" stroke="#2a2a2a" stroke-width="0.5"/>
<circle cx="505.80" cy="340.10" r="1.55" fill="#f6f1c4" stroke="#2a2a2a" stroke-width="0.5"/>
<circle cx="480.70" cy="351.30" r="1.55" fill="#f6f1c4" stroke="#2a2a2a" stroke-width="0.5"/>
<circle cx="492.90" cy="350.40" r="1.55" fill="#f6f1c4" stroke="#2a2a2a" stroke-width="0.5"/>
<circle cx="505.80" cy="345.80" r="1.55" fill="#f6f1c4" stroke="#2a2a2a" stroke-width="0.5"/>
<circle cx="480.70" cy="355.20" r="1.55" fill="#7cc4ea" stroke="#2a2a2a" stroke-width="0.5"/>
<circle cx="492.90" cy="341.80" r="1.55" fill="#7cc4ea" stroke="#2a2a2a" stroke-width="0.5"/>
<circle cx="505.80" cy="334.70" r="1.55" fill="#7cc4ea" stroke="#2a2a2a" stroke-width="0.5"/>
<circle cx="521.80" cy="316.70" r="1.55" fill="#f6f1c4" stroke="#2a2a2a" stroke-width="0.5"/>
<circle cx="534.00" cy="338.90" r="1.55" fill="#f6f1c4" stroke="#2a2a2a" stroke-width="0.5"/>
<circle cx="546.70" cy="268.90" r="1.55" fill="#f6f1c4" stroke="#2a2a2a" stroke-width="0.5"/>
<circle cx="521.80" cy="341.00" r="1.55" fill="#f6f1c4" stroke="#2a2a2a" stroke-width="0.5"/>
<circle cx="534.00" cy="346.20" r="1.55" fill="#f6f1c4" stroke="#2a2a2a" stroke-width="0.5"/>
<circle cx="546.70" cy="310.70" r="1.55" fill="#f6f1c4" stroke="#2a2a2a" stroke-width="0.5"/>
<circle cx="521.80" cy="344.00" r="1.55" fill="#f6f1c4" stroke="#2a2a2a" stroke-width="0.5"/>
<circle cx="534.00" cy="350.00" r="1.55" fill="#f6f1c4" stroke="#2a2a2a" stroke-width="0.5"/>
<circle cx="546.70" cy="315.60" r="1.55" fill="#f6f1c4" stroke="#2a2a2a" stroke-width="0.5"/>
<circle cx="521.80" cy="337.80" r="1.55" fill="#7cc4ea" stroke="#2a2a2a" stroke-width="0.5"/>
<circle cx="534.00" cy="356.70" r="1.55" fill="#7cc4ea" stroke="#2a2a2a" stroke-width="0.5"/>
<circle cx="546.70" cy="303.30" r="1.55" fill="#7cc4ea" stroke="#2a2a2a" stroke-width="0.5"/>
<circle cx="521.80" cy="352.20" r="1.55" fill="#7cc4ea" stroke="#2a2a2a" stroke-width="0.5"/>
<circle cx="534.00" cy="352.90" r="1.55" fill="#7cc4ea" stroke="#2a2a2a" stroke-width="0.5"/>
<circle cx="546.70" cy="331.60" r="1.55" fill="#7cc4ea" stroke="#2a2a2a" stroke-width="0.5"/>
<circle cx="521.80" cy="337.80" r="1.55" fill="#7cc4ea" stroke="#2a2a2a" stroke-width="0.5"/>
<circle cx="534.00" cy="352.90" r="1.55" fill="#7cc4ea" stroke="#2a2a2a" stroke-width="0.5"/>
<circle cx="546.70" cy="336.70" r="1.55" fill="#7cc4ea" stroke="#2a2a2a" stroke-width="0.5"/>
<line x1="522.00" y1="255.50" x2="548.00" y2="255.50" stroke="#231f20" stroke-width="1.0"/>
<polygon points="534.80,249.40 535.49,251.05 537.27,251.20 535.91,252.36 536.33,254.10 534.80,253.17 533.27,254.10 533.69,252.36 532.33,251.20 534.11,251.05" fill="#231f20"/>
<polygon points="539.80,249.40 540.49,251.05 542.27,251.20 540.91,252.36 541.33,254.10 539.80,253.17 538.27,254.10 538.69,252.36 537.33,251.20 539.11,251.05" fill="#231f20"/>
<polygon points="544.80,249.40 545.49,251.05 547.27,251.20 545.91,252.36 546.33,254.10 544.80,253.17 543.27,254.10 543.69,252.36 542.33,251.20 544.11,251.05" fill="#231f20"/>
<line x1="531.00" y1="265.50" x2="548.00" y2="265.50" stroke="#231f20" stroke-width="1.0"/>
<polygon points="531.50,259.60 532.19,261.25 533.97,261.40 532.61,262.56 533.03,264.30 531.50,263.37 529.97,264.30 530.39,262.56 529.03,261.40 530.81,261.25" fill="#231f20"/>
<polygon points="536.50,259.60 537.19,261.25 538.97,261.40 537.61,262.56 538.03,264.30 536.50,263.37 534.97,264.30 535.39,262.56 534.03,261.40 535.81,261.25" fill="#231f20"/>
<polygon points="541.50,259.60 542.19,261.25 543.97,261.40 542.61,262.56 543.03,264.30 541.50,263.37 539.97,264.30 540.39,262.56 539.03,261.40 540.81,261.25" fill="#231f20"/>
<polygon points="546.50,259.60 547.19,261.25 548.97,261.40 547.61,262.56 548.03,264.30 546.50,263.37 544.97,264.30 545.39,262.56 544.03,261.40 545.81,261.25" fill="#231f20"/>
<polygon points="489.17,273.98 496.07,286.68 493.26,288.21 486.36,275.51" fill="#d4d4d4" stroke="#c0c0c0" stroke-width="0.3"/>
<polygon points="484.80,267.81 489.40,274.19 486.41,275.81 483.56,268.47" fill="#ec2a32"/>
<line x1="494.67" y1="287.44" x2="496.60" y2="291.00" stroke="#b4b4b4" stroke-width="0.8"/>
<line x1="496.61" y1="287.04" x2="493.27" y2="288.86" stroke="#b4b4b4" stroke-width="0.7"/>
<line x1="498.01" y1="290.24" x2="495.19" y2="291.76" stroke="#b4b4b4" stroke-width="0.7"/>
<circle cx="482.80" cy="265.60" r="1.9" fill="#e0406a" stroke="#c82848" stroke-width="0.4"/>
<text x="567.00" y="271.50" font-size="11.5" fill="#231f20" font-weight="bold">g</text>
<text transform="translate(579.40,318.00) rotate(-90)" x="0" y="3.01" font-size="8.6" fill="#231f20" stroke="#231f20" stroke-width="0.12" text-anchor="middle">AUC (a.u)</text>
<line x1="606.50" y1="270.70" x2="606.50" y2="368.00" stroke="#6a6a6a" stroke-width="1.0"/>
<line x1="601.90" y1="367.50" x2="606.20" y2="367.50" stroke="#6a6a6a" stroke-width="1.0"/>
<text x="598.20" y="370.90" font-size="8.3" fill="#231f20" stroke="#231f20" stroke-width="0.12" text-anchor="end">-10</text>
<line x1="601.90" y1="343.50" x2="606.20" y2="343.50" stroke="#6a6a6a" stroke-width="1.0"/>
<text x="598.20" y="346.70" font-size="8.3" fill="#231f20" stroke="#231f20" stroke-width="0.12" text-anchor="end">0</text>
<line x1="601.90" y1="319.50" x2="606.20" y2="319.50" stroke="#6a6a6a" stroke-width="1.0"/>
<text x="598.20" y="322.50" font-size="8.3" fill="#231f20" stroke="#231f20" stroke-width="0.12" text-anchor="end">10</text>
<line x1="601.90" y1="295.50" x2="606.20" y2="295.50" stroke="#6a6a6a" stroke-width="1.0"/>
<text x="598.20" y="298.30" font-size="8.3" fill="#231f20" stroke="#231f20" stroke-width="0.12" text-anchor="end">20</text>
<line x1="601.90" y1="271.50" x2="606.20" y2="271.50" stroke="#6a6a6a" stroke-width="1.0"/>
<text x="598.20" y="274.10" font-size="8.3" fill="#231f20" stroke="#231f20" stroke-width="0.12" text-anchor="end">30</text>
<path d="M612.20,343.70 L612.20,339.00 L619.60,339.00 L619.60,343.70" fill="none" stroke="#231f20" stroke-width="0.8"/>
<rect x="624.50" y="340.80" width="6.20" height="2.90" fill="#d4d4d4"/>
<rect x="634.90" y="329.60" width="7.70" height="14.10" fill="#7f7f7f"/>
<path d="M650.20,343.70 L650.20,338.00 L657.90,338.00 L657.90,343.70" fill="none" stroke="#231f20" stroke-width="0.8"/>
<rect x="660.50" y="340.00" width="7.50" height="3.70" fill="#f3d4d7"/>
<rect x="673.40" y="304.60" width="7.40" height="39.10" fill="#c1272d"/>
<line x1="615.50" y1="336.00" x2="615.50" y2="344.00" stroke="#231f20" stroke-width="1.0"/>
<line x1="654.50" y1="335.00" x2="654.50" y2="344.00" stroke="#231f20" stroke-width="1.0"/>
<line x1="677.50" y1="300.00" x2="677.50" y2="318.00" stroke="#231f20" stroke-width="1.0"/>
<polyline points="615.80,319.20 627.30,347.00 638.70,323.10" fill="none" stroke="#231f20" stroke-width="0.6"/>
<polyline points="615.80,334.20 627.30,333.80 638.70,326.40" fill="none" stroke="#231f20" stroke-width="0.6"/>
<polyline points="615.80,335.90 627.30,342.60 638.70,330.30" fill="none" stroke="#231f20" stroke-width="0.6"/>
<polyline points="615.80,342.90 627.30,338.70 638.70,334.80" fill="none" stroke="#231f20" stroke-width="0.6"/>
<polyline points="615.80,348.40 627.30,347.00 638.70,330.30" fill="none" stroke="#231f20" stroke-width="0.6"/>
<polyline points="615.80,351.50 627.30,342.60 638.70,334.80" fill="none" stroke="#231f20" stroke-width="0.6"/>
<polyline points="654.00,326.90 665.50,318.90 677.00,296.20" fill="none" stroke="#231f20" stroke-width="0.6"/>
<polyline points="654.00,342.90 665.50,340.80 677.00,276.30" fill="none" stroke="#231f20" stroke-width="0.6"/>
<polyline points="654.00,353.30 665.50,340.80 677.00,304.80" fill="none" stroke="#231f20" stroke-width="0.6"/>
<polyline points="654.00,331.70 665.50,338.70 677.00,284.00" fill="none" stroke="#231f20" stroke-width="0.6"/>
<polyline points="654.00,333.40 665.50,343.60 677.00,331.00" fill="none" stroke="#231f20" stroke-width="0.6"/>
<polyline points="654.00,346.30 665.50,343.60 677.00,333.40" fill="none" stroke="#231f20" stroke-width="0.6"/>
<circle cx="615.80" cy="319.20" r="1.55" fill="#f6f1c4" stroke="#2a2a2a" stroke-width="0.5"/>
<circle cx="627.30" cy="347.00" r="1.55" fill="#f6f1c4" stroke="#2a2a2a" stroke-width="0.5"/>
<circle cx="638.70" cy="323.10" r="1.55" fill="#f6f1c4" stroke="#2a2a2a" stroke-width="0.5"/>
<circle cx="615.80" cy="334.20" r="1.55" fill="#f6f1c4" stroke="#2a2a2a" stroke-width="0.5"/>
<circle cx="627.30" cy="333.80" r="1.55" fill="#f6f1c4" stroke="#2a2a2a" stroke-width="0.5"/>
<circle cx="638.70" cy="326.40" r="1.55" fill="#f6f1c4" stroke="#2a2a2a" stroke-width="0.5"/>
<circle cx="615.80" cy="335.90" r="1.55" fill="#f6f1c4" stroke="#2a2a2a" stroke-width="0.5"/>
<circle cx="627.30" cy="342.60" r="1.55" fill="#f6f1c4" stroke="#2a2a2a" stroke-width="0.5"/>
<circle cx="638.70" cy="330.30" r="1.55" fill="#f6f1c4" stroke="#2a2a2a" stroke-width="0.5"/>
<circle cx="615.80" cy="342.90" r="1.55" fill="#7cc4ea" stroke="#2a2a2a" stroke-width="0.5"/>
<circle cx="627.30" cy="338.70" r="1.55" fill="#7cc4ea" stroke="#2a2a2a" stroke-width="0.5"/>
<circle cx="638.70" cy="334.80" r="1.55" fill="#7cc4ea" stroke="#2a2a2a" stroke-width="0.5"/>
<circle cx="615.80" cy="348.40" r="1.55" fill="#f6f1c4" stroke="#2a2a2a" stroke-width="0.5"/>
<circle cx="627.30" cy="347.00" r="1.55" fill="#f6f1c4" stroke="#2a2a2a" stroke-width="0.5"/>
<circle cx="638.70" cy="330.30" r="1.55" fill="#f6f1c4" stroke="#2a2a2a" stroke-width="0.5"/>
<circle cx="615.80" cy="351.50" r="1.55" fill="#7cc4ea" stroke="#2a2a2a" stroke-width="0.5"/>
<circle cx="627.30" cy="342.60" r="1.55" fill="#7cc4ea" stroke="#2a2a2a" stroke-width="0.5"/>
<circle cx="638.70" cy="334.80" r="1.55" fill="#7cc4ea" stroke="#2a2a2a" stroke-width="0.5"/>
<circle cx="654.00" cy="326.90" r="1.55" fill="#f6f1c4" stroke="#2a2a2a" stroke-width="0.5"/>
<circle cx="665.50" cy="318.90" r="1.55" fill="#f6f1c4" stroke="#2a2a2a" stroke-width="0.5"/>
<circle cx="677.00" cy="296.20" r="1.55" fill="#f6f1c4" stroke="#2a2a2a" stroke-width="0.5"/>
<circle cx="654.00" cy="342.90" r="1.55" fill="#f6f1c4" stroke="#2a2a2a" stroke-width="0.5"/>
<circle cx="665.50" cy="340.80" r="1.55" fill="#f6f1c4" stroke="#2a2a2a" stroke-width="0.5"/>
<circle cx="677.00" cy="276.30" r="1.55" fill="#f6f1c4" stroke="#2a2a2a" stroke-width="0.5"/>
<circle cx="654.00" cy="353.30" r="1.55" fill="#f6f1c4" stroke="#2a2a2a" stroke-width="0.5"/>
<circle cx="665.50" cy="340.80" r="1.55" fill="#f6f1c4" stroke="#2a2a2a" stroke-width="0.5"/>
<circle cx="677.00" cy="304.80" r="1.55" fill="#f6f1c4" stroke="#2a2a2a" stroke-width="0.5"/>
<circle cx="654.00" cy="331.70" r="1.55" fill="#7cc4ea" stroke="#2a2a2a" stroke-width="0.5"/>
<circle cx="665.50" cy="338.70" r="1.55" fill="#7cc4ea" stroke="#2a2a2a" stroke-width="0.5"/>
<circle cx="677.00" cy="284.00" r="1.55" fill="#7cc4ea" stroke="#2a2a2a" stroke-width="0.5"/>
<circle cx="654.00" cy="333.40" r="1.55" fill="#7cc4ea" stroke="#2a2a2a" stroke-width="0.5"/>
<circle cx="665.50" cy="343.60" r="1.55" fill="#7cc4ea" stroke="#2a2a2a" stroke-width="0.5"/>
<circle cx="677.00" cy="331.00" r="1.55" fill="#7cc4ea" stroke="#2a2a2a" stroke-width="0.5"/>
<circle cx="654.00" cy="346.30" r="1.55" fill="#7cc4ea" stroke="#2a2a2a" stroke-width="0.5"/>
<circle cx="665.50" cy="343.60" r="1.55" fill="#7cc4ea" stroke="#2a2a2a" stroke-width="0.5"/>
<circle cx="677.00" cy="333.40" r="1.55" fill="#7cc4ea" stroke="#2a2a2a" stroke-width="0.5"/>
<line x1="654.00" y1="257.50" x2="679.40" y2="257.50" stroke="#231f20" stroke-width="1.0"/>
<polygon points="661.10,251.40 661.79,253.05 663.57,253.20 662.21,254.36 662.63,256.10 661.10,255.17 659.57,256.10 659.99,254.36 658.63,253.20 660.41,253.05" fill="#231f20"/>
<polygon points="666.10,251.40 666.79,253.05 668.57,253.20 667.21,254.36 667.63,256.10 666.10,255.17 664.57,256.10 664.99,254.36 663.63,253.20 665.41,253.05" fill="#231f20"/>
<polygon points="671.10,251.40 671.79,253.05 673.57,253.20 672.21,254.36 672.63,256.10 671.10,255.17 669.57,256.10 669.99,254.36 668.63,253.20 670.41,253.05" fill="#231f20"/>
<polygon points="676.10,251.40 676.79,253.05 678.57,253.20 677.21,254.36 677.63,256.10 676.10,255.17 674.57,256.10 674.99,254.36 673.63,253.20 675.41,253.05" fill="#231f20"/>
<line x1="663.10" y1="268.50" x2="678.70" y2="268.50" stroke="#777" stroke-width="1.0"/>
<polygon points="663.50,261.90 664.19,263.55 665.97,263.70 664.61,264.86 665.03,266.60 663.50,265.67 661.97,266.60 662.39,264.86 661.03,263.70 662.81,263.55" fill="#231f20"/>
<polygon points="668.50,261.90 669.19,263.55 670.97,263.70 669.61,264.86 670.03,266.60 668.50,265.67 666.97,266.60 667.39,264.86 666.03,263.70 667.81,263.55" fill="#231f20"/>
<polygon points="673.50,261.90 674.19,263.55 675.97,263.70 674.61,264.86 675.03,266.60 673.50,265.67 671.97,266.60 672.39,264.86 671.03,263.70 672.81,263.55" fill="#231f20"/>
<polygon points="678.50,261.90 679.19,263.55 680.97,263.70 679.61,264.86 680.03,266.60 678.50,265.67 676.97,266.60 677.39,264.86 676.03,263.70 677.81,263.55" fill="#231f20"/>
<polygon points="625.54,274.79 632.84,287.29 630.07,288.91 622.77,276.41" fill="#d4d4d4" stroke="#c0c0c0" stroke-width="0.3"/>
<polygon points="620.96,268.75 625.77,274.99 622.83,276.71 619.76,269.45" fill="#ec2a32"/>
<line x1="631.46" y1="288.10" x2="633.50" y2="291.60" stroke="#b4b4b4" stroke-width="0.8"/>
<line x1="633.39" y1="287.64" x2="630.11" y2="289.56" stroke="#b4b4b4" stroke-width="0.7"/>
<line x1="634.88" y1="290.79" x2="632.12" y2="292.41" stroke="#b4b4b4" stroke-width="0.7"/>
<circle cx="618.90" cy="266.60" r="1.9" fill="#e0406a" stroke="#c82848" stroke-width="0.4"/>
<circle cx="617.20" cy="374.60" r="1.85" fill="#f6f1c4" stroke="#444" stroke-width="0.45"/>
<text x="623.30" y="376.90" font-size="8.7" fill="#231f20" stroke="#231f20" stroke-width="0.12">Female Subject</text>
<circle cx="617.20" cy="384.60" r="1.85" fill="#7cc4ea" stroke="#444" stroke-width="0.45"/>
<text x="623.10" y="387.00" font-size="8.7" fill="#231f20" stroke="#231f20" stroke-width="0.12">Male Subject</text>
<text x="440.60" y="400.60" font-size="11.5" fill="#231f20" font-weight="bold">i</text>
<text transform="translate(451.50,450.00) rotate(-90)" x="0" y="3.01" font-size="8.6" fill="#231f20" stroke="#231f20" stroke-width="0.12" text-anchor="middle">Peak z-score</text>
<line x1="470.50" y1="399.50" x2="470.50" y2="496.80" stroke="#231f20" stroke-width="1.0"/>
<line x1="466.20" y1="496.50" x2="470.50" y2="496.50" stroke="#231f20" stroke-width="1.0"/>
<text x="465.30" y="499.80" font-size="8.3" fill="#231f20" stroke="#231f20" stroke-width="0.12" text-anchor="end">0</text>
<line x1="466.20" y1="465.50" x2="470.50" y2="465.50" stroke="#231f20" stroke-width="1.0"/>
<text x="465.30" y="468.88" font-size="8.3" fill="#231f20" stroke="#231f20" stroke-width="0.12" text-anchor="end">4</text>
<line x1="466.20" y1="434.50" x2="470.50" y2="434.50" stroke="#231f20" stroke-width="1.0"/>
<text x="465.30" y="437.96" font-size="8.3" fill="#231f20" stroke="#231f20" stroke-width="0.12" text-anchor="end">8</text>
<line x1="466.20" y1="404.50" x2="470.50" y2="404.50" stroke="#231f20" stroke-width="1.0"/>
<text x="465.30" y="407.04" font-size="8.3" fill="#231f20" stroke="#231f20" stroke-width="0.12" text-anchor="end">12</text>
<path d="M477.30,496.80 L477.30,461.40 L485.70,461.40 L485.70,496.80" fill="none" stroke="#231f20" stroke-width="0.8"/>
<rect x="489.20" y="473.30" width="8.00" height="23.50" fill="#d4d4d4"/>
<rect x="501.30" y="451.00" width="7.30" height="45.80" fill="#7f7f7f"/>
<path d="M516.40,496.80 L516.40,447.60 L523.90,447.60 L523.90,496.80" fill="none" stroke="#231f20" stroke-width="0.8"/>
<rect x="528.50" y="474.40" width="6.70" height="22.40" fill="#f3d4d7"/>
<rect x="540.00" y="458.00" width="7.30" height="38.80" fill="#c1272d"/>
<line x1="481.50" y1="455.00" x2="481.50" y2="468.00" stroke="#231f20" stroke-width="1.0"/>
<line x1="504.50" y1="445.00" x2="504.50" y2="457.00" stroke="#231f20" stroke-width="1.0"/>
<line x1="519.50" y1="437.00" x2="519.50" y2="458.00" stroke="#231f20" stroke-width="1.0"/>
<line x1="543.50" y1="452.00" x2="543.50" y2="465.00" stroke="#231f20" stroke-width="1.0"/>
<polyline points="481.50,439.50 493.00,446.20 504.50,426.30" fill="none" stroke="#231f20" stroke-width="0.6"/>
<polyline points="481.50,447.80 493.00,474.00 504.50,435.30" fill="none" stroke="#231f20" stroke-width="0.6"/>
<polyline points="481.50,462.90 493.00,480.60 504.50,447.20" fill="none" stroke="#231f20" stroke-width="0.6"/>
<polyline points="481.50,470.20 493.00,462.30 504.50,474.80" fill="none" stroke="#231f20" stroke-width="0.6"/>
<polyline points="481.50,480.20 493.00,481.70 504.50,474.80" fill="none" stroke="#231f20" stroke-width="0.6"/>
<polyline points="519.70,408.60 531.60,463.50 543.10,449.70" fill="none" stroke="#231f20" stroke-width="0.6"/>
<polyline points="519.70,415.90 531.60,466.00 543.10,466.00" fill="none" stroke="#231f20" stroke-width="0.6"/>
<polyline points="519.70,445.10 531.60,478.50 543.10,442.00" fill="none" stroke="#231f20" stroke-width="0.6"/>
<polyline points="519.70,462.90 531.60,474.00 543.10,469.80" fill="none" stroke="#231f20" stroke-width="0.6"/>
<polyline points="519.70,476.90 531.60,484.80 543.10,468.10" fill="none" stroke="#231f20" stroke-width="0.6"/>
<circle cx="481.50" cy="439.50" r="1.55" fill="#f6f1c4" stroke="#2a2a2a" stroke-width="0.5"/>
<circle cx="493.00" cy="446.20" r="1.55" fill="#f6f1c4" stroke="#2a2a2a" stroke-width="0.5"/>
<circle cx="504.50" cy="426.30" r="1.55" fill="#f6f1c4" stroke="#2a2a2a" stroke-width="0.5"/>
<circle cx="481.50" cy="447.80" r="1.55" fill="#f6f1c4" stroke="#2a2a2a" stroke-width="0.5"/>
<circle cx="493.00" cy="474.00" r="1.55" fill="#f6f1c4" stroke="#2a2a2a" stroke-width="0.5"/>
<circle cx="504.50" cy="435.30" r="1.55" fill="#f6f1c4" stroke="#2a2a2a" stroke-width="0.5"/>
<circle cx="481.50" cy="462.90" r="1.55" fill="#7cc4ea" stroke="#2a2a2a" stroke-width="0.5"/>
<circle cx="493.00" cy="480.60" r="1.55" fill="#7cc4ea" stroke="#2a2a2a" stroke-width="0.5"/>
<circle cx="504.50" cy="447.20" r="1.55" fill="#7cc4ea" stroke="#2a2a2a" stroke-width="0.5"/>
<circle cx="481.50" cy="470.20" r="1.55" fill="#f6f1c4" stroke="#2a2a2a" stroke-width="0.5"/>
<circle cx="493.00" cy="462.30" r="1.55" fill="#f6f1c4" stroke="#2a2a2a" stroke-width="0.5"/>
<circle cx="504.50" cy="474.80" r="1.55" fill="#f6f1c4" stroke="#2a2a2a" stroke-width="0.5"/>
<circle cx="481.50" cy="480.20" r="1.55" fill="#7cc4ea" stroke="#2a2a2a" stroke-width="0.5"/>
<circle cx="493.00" cy="481.70" r="1.55" fill="#7cc4ea" stroke="#2a2a2a" stroke-width="0.5"/>
<circle cx="504.50" cy="474.80" r="1.55" fill="#7cc4ea" stroke="#2a2a2a" stroke-width="0.5"/>
<circle cx="519.70" cy="408.60" r="1.55" fill="#f6f1c4" stroke="#2a2a2a" stroke-width="0.5"/>
<circle cx="531.60" cy="463.50" r="1.55" fill="#f6f1c4" stroke="#2a2a2a" stroke-width="0.5"/>
<circle cx="543.10" cy="449.70" r="1.55" fill="#f6f1c4" stroke="#2a2a2a" stroke-width="0.5"/>
<circle cx="519.70" cy="415.90" r="1.55" fill="#f6f1c4" stroke="#2a2a2a" stroke-width="0.5"/>
<circle cx="531.60" cy="466.00" r="1.55" fill="#f6f1c4" stroke="#2a2a2a" stroke-width="0.5"/>
<circle cx="543.10" cy="466.00" r="1.55" fill="#f6f1c4" stroke="#2a2a2a" stroke-width="0.5"/>
<circle cx="519.70" cy="445.10" r="1.55" fill="#7cc4ea" stroke="#2a2a2a" stroke-width="0.5"/>
<circle cx="531.60" cy="478.50" r="1.55" fill="#7cc4ea" stroke="#2a2a2a" stroke-width="0.5"/>
<circle cx="543.10" cy="442.00" r="1.55" fill="#7cc4ea" stroke="#2a2a2a" stroke-width="0.5"/>
<circle cx="519.70" cy="462.90" r="1.55" fill="#f6f1c4" stroke="#2a2a2a" stroke-width="0.5"/>
<circle cx="531.60" cy="474.00" r="1.55" fill="#f6f1c4" stroke="#2a2a2a" stroke-width="0.5"/>
<circle cx="543.10" cy="469.80" r="1.55" fill="#f6f1c4" stroke="#2a2a2a" stroke-width="0.5"/>
<circle cx="519.70" cy="476.90" r="1.55" fill="#7cc4ea" stroke="#2a2a2a" stroke-width="0.5"/>
<circle cx="531.60" cy="484.80" r="1.55" fill="#7cc4ea" stroke="#2a2a2a" stroke-width="0.5"/>
<circle cx="543.10" cy="468.10" r="1.55" fill="#7cc4ea" stroke="#2a2a2a" stroke-width="0.5"/>
<line x1="494.60" y1="404.50" x2="506.50" y2="404.50" stroke="#231f20" stroke-width="1.0"/>
<polygon points="503.40,397.80 504.09,399.45 505.87,399.60 504.51,400.76 504.93,402.50 503.40,401.57 501.87,402.50 502.29,400.76 500.93,399.60 502.71,399.45" fill="#231f20"/>
<line x1="517.00" y1="404.50" x2="533.70" y2="404.50" stroke="#231f20" stroke-width="1.0"/>
<polygon points="519.70,397.80 520.39,399.45 522.17,399.60 520.81,400.76 521.23,402.50 519.70,401.57 518.17,402.50 518.59,400.76 517.23,399.60 519.01,399.45" fill="#231f20"/>
<polygon points="524.70,397.80 525.39,399.45 527.17,399.60 525.81,400.76 526.23,402.50 524.70,401.57 523.17,402.50 523.59,400.76 522.23,399.60 524.01,399.45" fill="#231f20"/>
<g transform="translate(478.56,408.98) rotate(52.41)"><rect x="0" y="-3.40" width="20.72" height="6.80" rx="3.40" fill="#8c2a97"/><path d="M2.88,-3.04 A3.20,3.20 0 1 0 2.88,3.04 Z" transform="translate(-1.76,0)" fill="#5a5b5d"/></g>
<line x1="479.50" y1="406.04" x2="479.50" y2="403.44" stroke="#7a7a7a" stroke-width="0.7"/>
<polygon points="481.00,398.85 481.90,400.53 484.23,400.68 482.46,401.87 483.00,403.65 481.00,402.69 479.00,403.65 479.54,401.87 477.77,400.68 480.10,400.53" fill="#b06bc4"/>
<text x="566.80" y="403.50" font-size="11.5" fill="#231f20" font-weight="bold">j</text>
<text transform="translate(578.30,447.00) rotate(-90)" x="0" y="3.01" font-size="8.6" fill="#231f20" stroke="#231f20" stroke-width="0.12" text-anchor="middle">AUC (a.u)</text>
<line x1="605.50" y1="400.40" x2="605.50" y2="496.90" stroke="#231f20" stroke-width="1.0"/>
<line x1="601.10" y1="496.50" x2="605.40" y2="496.50" stroke="#231f20" stroke-width="1.0"/>
<text x="598.40" y="499.95" font-size="8.3" fill="#231f20" stroke="#231f20" stroke-width="0.12" text-anchor="end">-10</text>
<line x1="601.10" y1="472.50" x2="605.40" y2="472.50" stroke="#231f20" stroke-width="1.0"/>
<text x="598.40" y="475.90" font-size="8.3" fill="#231f20" stroke="#231f20" stroke-width="0.12" text-anchor="end">0</text>
<line x1="601.10" y1="448.50" x2="605.40" y2="448.50" stroke="#231f20" stroke-width="1.0"/>
<text x="598.40" y="451.85" font-size="8.3" fill="#231f20" stroke="#231f20" stroke-width="0.12" text-anchor="end">10</text>
<line x1="601.10" y1="424.50" x2="605.40" y2="424.50" stroke="#231f20" stroke-width="1.0"/>
<text x="598.40" y="427.80" font-size="8.3" fill="#231f20" stroke="#231f20" stroke-width="0.12" text-anchor="end">20</text>
<line x1="601.10" y1="400.50" x2="605.40" y2="400.50" stroke="#231f20" stroke-width="1.0"/>
<text x="598.40" y="403.75" font-size="8.3" fill="#231f20" stroke="#231f20" stroke-width="0.12" text-anchor="end">30</text>
<path d="M612.10,472.90 L612.10,461.80 L619.80,461.80 L619.80,472.90" fill="none" stroke="#231f20" stroke-width="0.8"/>
<rect x="624.60" y="462.90" width="7.80" height="10.00" fill="#d4d4d4"/>
<rect x="635.90" y="446.20" width="7.30" height="26.70" fill="#7f7f7f"/>
<path d="M651.20,472.90 L651.20,448.30 L659.10,448.30 L659.10,472.90" fill="none" stroke="#231f20" stroke-width="0.8"/>
<rect x="662.20" y="460.00" width="7.80" height="12.90" fill="#f3d4d7"/>
<rect x="674.10" y="455.20" width="6.90" height="17.70" fill="#c1272d"/>
<line x1="616.50" y1="455.00" x2="616.50" y2="468.00" stroke="#231f20" stroke-width="1.0"/>
<line x1="639.50" y1="440.00" x2="639.50" y2="456.00" stroke="#231f20" stroke-width="1.0"/>
<line x1="655.50" y1="440.00" x2="655.50" y2="470.00" stroke="#231f20" stroke-width="1.0"/>
<line x1="677.50" y1="447.00" x2="677.50" y2="463.00" stroke="#231f20" stroke-width="1.0"/>
<polyline points="616.10,450.30 628.20,444.10 639.70,413.80" fill="none" stroke="#231f20" stroke-width="0.6"/>
<polyline points="616.10,453.50 628.20,449.30 639.70,438.90" fill="none" stroke="#231f20" stroke-width="0.6"/>
<polyline points="616.10,458.70 628.20,457.70 639.70,436.80" fill="none" stroke="#231f20" stroke-width="0.6"/>
<polyline points="616.10,465.00 628.20,467.70 639.70,469.80" fill="none" stroke="#231f20" stroke-width="0.6"/>
<polyline points="616.10,469.10 628.20,475.40 639.70,469.80" fill="none" stroke="#231f20" stroke-width="0.6"/>
<polyline points="616.10,474.80 628.20,471.90 639.70,436.80" fill="none" stroke="#231f20" stroke-width="0.6"/>
<polyline points="616.10,453.50 628.20,479.00 639.70,469.80" fill="none" stroke="#231f20" stroke-width="0.6"/>
<polyline points="655.30,420.50 666.40,458.70 677.30,458.70" fill="none" stroke="#231f20" stroke-width="0.6"/>
<polyline points="655.30,424.20 666.40,446.20 677.30,429.50" fill="none" stroke="#231f20" stroke-width="0.6"/>
<polyline points="655.30,434.70 666.40,474.40 677.30,436.80" fill="none" stroke="#231f20" stroke-width="0.6"/>
<polyline points="655.30,436.40 666.40,461.40 677.30,461.80" fill="none" stroke="#231f20" stroke-width="0.6"/>
<polyline points="655.30,462.90 666.40,467.00 677.30,474.00" fill="none" stroke="#231f20" stroke-width="0.6"/>
<polyline points="655.30,466.00 666.40,458.70 677.30,461.80" fill="none" stroke="#231f20" stroke-width="0.6"/>
<polyline points="655.30,484.80 666.40,461.40 677.30,474.00" fill="none" stroke="#231f20" stroke-width="0.6"/>
<circle cx="616.10" cy="450.30" r="1.55" fill="#f6f1c4" stroke="#2a2a2a" stroke-width="0.5"/>
<circle cx="628.20" cy="444.10" r="1.55" fill="#f6f1c4" stroke="#2a2a2a" stroke-width="0.5"/>
<circle cx="639.70" cy="413.80" r="1.55" fill="#f6f1c4" stroke="#2a2a2a" stroke-width="0.5"/>
<circle cx="616.10" cy="453.50" r="1.55" fill="#f6f1c4" stroke="#2a2a2a" stroke-width="0.5"/>
<circle cx="628.20" cy="449.30" r="1.55" fill="#f6f1c4" stroke="#2a2a2a" stroke-width="0.5"/>
<circle cx="639.70" cy="438.90" r="1.55" fill="#f6f1c4" stroke="#2a2a2a" stroke-width="0.5"/>
<circle cx="616.10" cy="458.70" r="1.55" fill="#7cc4ea" stroke="#2a2a2a" stroke-width="0.5"/>
<circle cx="628.20" cy="457.70" r="1.55" fill="#7cc4ea" stroke="#2a2a2a" stroke-width="0.5"/>
<circle cx="639.70" cy="436.80" r="1.55" fill="#7cc4ea" stroke="#2a2a2a" stroke-width="0.5"/>
<circle cx="616.10" cy="465.00" r="1.55" fill="#f6f1c4" stroke="#2a2a2a" stroke-width="0.5"/>
<circle cx="628.20" cy="467.70" r="1.55" fill="#f6f1c4" stroke="#2a2a2a" stroke-width="0.5"/>
<circle cx="639.70" cy="469.80" r="1.55" fill="#f6f1c4" stroke="#2a2a2a" stroke-width="0.5"/>
<circle cx="616.10" cy="469.10" r="1.55" fill="#f6f1c4" stroke="#2a2a2a" stroke-width="0.5"/>
<circle cx="628.20" cy="475.40" r="1.55" fill="#f6f1c4" stroke="#2a2a2a" stroke-width="0.5"/>
<circle cx="639.70" cy="469.80" r="1.55" fill="#f6f1c4" stroke="#2a2a2a" stroke-width="0.5"/>
<circle cx="616.10" cy="474.80" r="1.55" fill="#7cc4ea" stroke="#2a2a2a" stroke-width="0.5"/>
<circle cx="628.20" cy="471.90" r="1.55" fill="#7cc4ea" stroke="#2a2a2a" stroke-width="0.5"/>
<circle cx="639.70" cy="436.80" r="1.55" fill="#7cc4ea" stroke="#2a2a2a" stroke-width="0.5"/>
<circle cx="616.10" cy="453.50" r="1.55" fill="#f6f1c4" stroke="#2a2a2a" stroke-width="0.5"/>
<circle cx="628.20" cy="479.00" r="1.55" fill="#f6f1c4" stroke="#2a2a2a" stroke-width="0.5"/>
<circle cx="639.70" cy="469.80" r="1.55" fill="#f6f1c4" stroke="#2a2a2a" stroke-width="0.5"/>
<circle cx="655.30" cy="420.50" r="1.55" fill="#7cc4ea" stroke="#2a2a2a" stroke-width="0.5"/>
<circle cx="666.40" cy="458.70" r="1.55" fill="#7cc4ea" stroke="#2a2a2a" stroke-width="0.5"/>
<circle cx="677.30" cy="458.70" r="1.55" fill="#7cc4ea" stroke="#2a2a2a" stroke-width="0.5"/>
<circle cx="655.30" cy="424.20" r="1.55" fill="#f6f1c4" stroke="#2a2a2a" stroke-width="0.5"/>
<circle cx="666.40" cy="446.20" r="1.55" fill="#f6f1c4" stroke="#2a2a2a" stroke-width="0.5"/>
<circle cx="677.30" cy="429.50" r="1.55" fill="#f6f1c4" stroke="#2a2a2a" stroke-width="0.5"/>
<circle cx="655.30" cy="434.70" r="1.55" fill="#7cc4ea" stroke="#2a2a2a" stroke-width="0.5"/>
<circle cx="666.40" cy="474.40" r="1.55" fill="#7cc4ea" stroke="#2a2a2a" stroke-width="0.5"/>
<circle cx="677.30" cy="436.80" r="1.55" fill="#7cc4ea" stroke="#2a2a2a" stroke-width="0.5"/>
<circle cx="655.30" cy="436.40" r="1.55" fill="#f6f1c4" stroke="#2a2a2a" stroke-width="0.5"/>
<circle cx="666.40" cy="461.40" r="1.55" fill="#f6f1c4" stroke="#2a2a2a" stroke-width="0.5"/>
<circle cx="677.30" cy="461.80" r="1.55" fill="#f6f1c4" stroke="#2a2a2a" stroke-width="0.5"/>
<circle cx="655.30" cy="462.90" r="1.55" fill="#7cc4ea" stroke="#2a2a2a" stroke-width="0.5"/>
<circle cx="666.40" cy="467.00" r="1.55" fill="#7cc4ea" stroke="#2a2a2a" stroke-width="0.5"/>
<circle cx="677.30" cy="474.00" r="1.55" fill="#7cc4ea" stroke="#2a2a2a" stroke-width="0.5"/>
<circle cx="655.30" cy="466.00" r="1.55" fill="#7cc4ea" stroke="#2a2a2a" stroke-width="0.5"/>
<circle cx="666.40" cy="458.70" r="1.55" fill="#7cc4ea" stroke="#2a2a2a" stroke-width="0.5"/>
<circle cx="677.30" cy="461.80" r="1.55" fill="#7cc4ea" stroke="#2a2a2a" stroke-width="0.5"/>
<circle cx="655.30" cy="484.80" r="1.55" fill="#f6f1c4" stroke="#2a2a2a" stroke-width="0.5"/>
<circle cx="666.40" cy="461.40" r="1.55" fill="#f6f1c4" stroke="#2a2a2a" stroke-width="0.5"/>
<circle cx="677.30" cy="474.00" r="1.55" fill="#f6f1c4" stroke="#2a2a2a" stroke-width="0.5"/>
<g transform="translate(613.06,408.88) rotate(50.96)"><rect x="0" y="-3.40" width="21.02" height="6.80" rx="3.40" fill="#8c2a97"/><path d="M2.88,-3.04 A3.20,3.20 0 1 0 2.88,3.04 Z" transform="translate(-1.76,0)" fill="#5a5b5d"/></g>
<line x1="613.50" y1="405.94" x2="613.50" y2="403.34" stroke="#7a7a7a" stroke-width="0.7"/>
<polygon points="614.80,399.15 615.70,400.83 618.03,400.98 616.26,402.17 616.80,403.95 614.80,402.99 612.80,403.95 613.34,402.17 611.57,400.98 613.90,400.83" fill="#b06bc4"/>
</svg></body></html>
